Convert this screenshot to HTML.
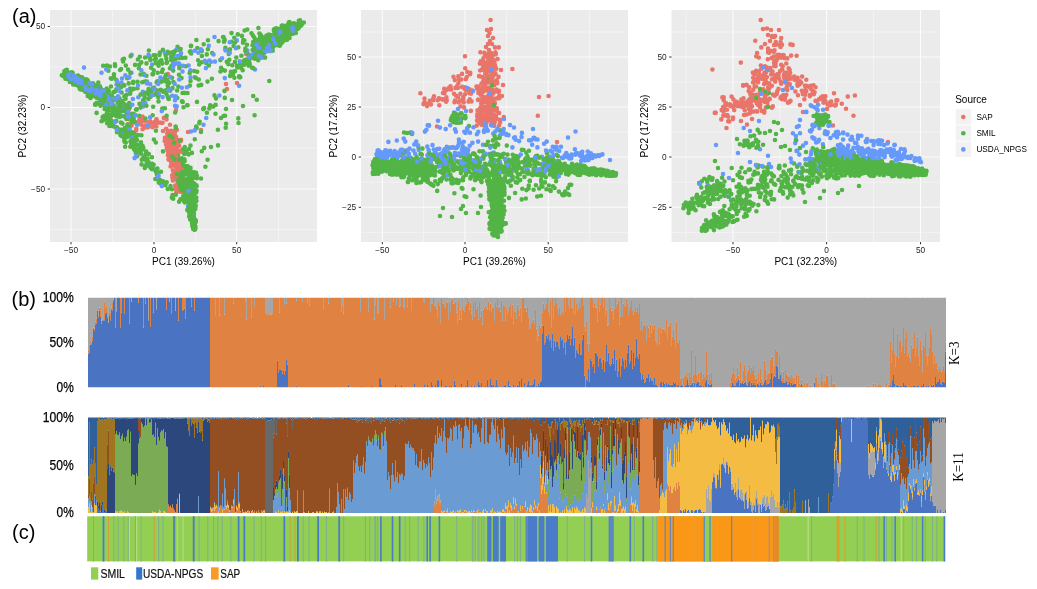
<!DOCTYPE html>
<html lang="en"><head><meta charset="utf-8"><title>Figure</title>
<style>
html,body{margin:0;padding:0;background:#fff}
svg{display:block}
text{font-family:"Liberation Sans",sans-serif;fill:#000}
.tk{font-size:8.3px;fill:#1f1f1f}
.at{font-size:10px}
.pl{font-size:20px}
.pc{font-size:14.5px;fill:#000;stroke:#000;stroke-width:.25px}
.kk{font-family:"Liberation Serif",serif;font-size:15px}
.lg{font-size:12.6px;fill:#111;stroke:#111;stroke-width:.2px}
.lt{font-size:10px}
.ll{font-size:8.2px}
path.r,path.g,path.b{fill:none;stroke-width:4.6;stroke-linecap:round}
path.r{stroke:#e9756a}path.g{stroke:#53b446}path.b{stroke:#6599fb}
</style></head>
<body>
<svg width="1037" height="589" viewBox="0 0 1037 589">
<rect width="1037" height="589" fill="#fff"/>
<rect x="50" y="10" width="267" height="232" fill="#ebebeb"/>
<path d="M112.5 10V242M195.4 10V242M278.5 10V242M50 67H317M50 148.2H317M50 229.5H317" stroke="#f5f5f5" stroke-width="0.8" fill="none"/>
<path d="M71 10V242M154 10V242M236.7 10V242M50 26.5H317M50 107.5H317M50 189H317" stroke="#fcfcfc" stroke-width="1.05" fill="none"/>
<path d="M71 242v2.3M154 242v2.3M236.7 242v2.3M50 26.5h-2.3M50 107.5h-2.3M50 189h-2.3" stroke="#333" stroke-width="1" fill="none"/>
<text class="tk" x="71" y="253.3" text-anchor="middle">−50</text>
<text class="tk" x="154" y="253.3" text-anchor="middle">0</text>
<text class="tk" x="236.7" y="253.3" text-anchor="middle">50</text>
<text class="tk" x="45.2" y="29.4" text-anchor="end">50</text>
<text class="tk" x="45.2" y="110.4" text-anchor="end">0</text>
<text class="tk" x="45.2" y="191.9" text-anchor="end">−50</text>
<text class="at" x="183.5" y="264.9" text-anchor="middle">PC1 (39.26%)</text>
<text class="at" transform="translate(26.3 126) rotate(-90)" text-anchor="middle">PC2 (32.23%)</text>
<rect x="361" y="10" width="267" height="232" fill="#ebebeb"/>
<path d="M423.6 10V242M506.6 10V242M589.6 10V242M361 32H628M361 82H628M361 132H628M361 182.2H628M361 232.4H628" stroke="#f5f5f5" stroke-width="0.8" fill="none"/>
<path d="M382.3 10V242M465 10V242M548.2 10V242M361 57H628M361 107H628M361 157H628M361 207.3H628" stroke="#fcfcfc" stroke-width="1.05" fill="none"/>
<path d="M382.3 242v2.3M465 242v2.3M548.2 242v2.3M361 57h-2.3M361 107h-2.3M361 157h-2.3M361 207.3h-2.3" stroke="#333" stroke-width="1" fill="none"/>
<text class="tk" x="382.3" y="253.3" text-anchor="middle">−50</text>
<text class="tk" x="465" y="253.3" text-anchor="middle">0</text>
<text class="tk" x="548.2" y="253.3" text-anchor="middle">50</text>
<text class="tk" x="356.2" y="59.9" text-anchor="end">50</text>
<text class="tk" x="356.2" y="109.9" text-anchor="end">25</text>
<text class="tk" x="356.2" y="159.9" text-anchor="end">0</text>
<text class="tk" x="356.2" y="210.2" text-anchor="end">−25</text>
<text class="at" x="494.5" y="264.9" text-anchor="middle">PC1 (39.26%)</text>
<text class="at" transform="translate(337.3 126) rotate(-90)" text-anchor="middle">PC2 (17.22%)</text>
<rect x="671.5" y="10" width="268.5" height="232" fill="#ebebeb"/>
<path d="M686.2 10V242M779.8 10V242M873.5 10V242M671.5 32H940M671.5 82H940M671.5 132H940M671.5 182.2H940M671.5 232.4H940" stroke="#f5f5f5" stroke-width="0.8" fill="none"/>
<path d="M733 10V242M826.6 10V242M920.5 10V242M671.5 57H940M671.5 107H940M671.5 157H940M671.5 207.3H940" stroke="#fcfcfc" stroke-width="1.05" fill="none"/>
<path d="M733 242v2.3M826.6 242v2.3M920.5 242v2.3M671.5 57h-2.3M671.5 107h-2.3M671.5 157h-2.3M671.5 207.3h-2.3" stroke="#333" stroke-width="1" fill="none"/>
<text class="tk" x="733" y="253.3" text-anchor="middle">−50</text>
<text class="tk" x="826.6" y="253.3" text-anchor="middle">0</text>
<text class="tk" x="920.5" y="253.3" text-anchor="middle">50</text>
<text class="tk" x="666.7" y="59.9" text-anchor="end">50</text>
<text class="tk" x="666.7" y="109.9" text-anchor="end">25</text>
<text class="tk" x="666.7" y="159.9" text-anchor="end">0</text>
<text class="tk" x="666.7" y="210.2" text-anchor="end">−25</text>
<text class="at" x="805.8" y="264.9" text-anchor="middle">PC1 (32.23%)</text>
<text class="at" transform="translate(647.8 126) rotate(-90)" text-anchor="middle">PC2 (17.22%)</text>
<path class="r" d="M173.9 147.7h0M174.0 161.7h0M149.1 124.7h0M181.4 168.3h0M180.5 191.7h0M174.3 145.3h0M183.8 188.1h0M168.9 159.5h0M178.8 178.0h0M176.6 130.1h0M175.3 173.4h0M182.0 176.0h0M183.9 152.0h0M178.6 177.5h0M168.9 131.0h0M172.9 180.4h0M172.2 175.3h0M179.5 169.0h0M168.3 153.0h0M173.6 161.8h0M237.0 83.0h0M226.0 84.0h0M173.6 144.7h0M178.6 169.3h0M173.0 146.2h0M173.2 157.2h0M178.4 180.6h0M176.5 167.2h0M162.6 122.8h0M167.5 150.6h0M127.9 124.3h0M135.2 122.3h0M129.0 109.0h0M183.4 159.9h0M140.0 118.0h0M159.5 122.5h0M178.3 184.9h0M174.7 152.2h0M146.6 125.9h0M172.2 156.8h0M168.8 131.8h0M172.4 177.8h0M154.5 125.4h0M176.6 142.8h0M181.4 183.0h0M173.2 143.0h0M178.0 153.3h0M145.9 127.5h0M156.4 119.5h0M166.2 128.7h0M172.8 165.4h0M175.1 185.5h0M178.0 163.3h0M172.8 170.2h0M171.4 137.5h0M173.7 178.7h0M174.7 158.1h0M175.7 174.0h0M176.1 177.1h0M175.9 174.3h0M172.8 141.2h0M177.3 152.3h0M169.2 153.1h0M176.0 160.7h0M171.3 148.5h0M149.6 122.1h0M178.4 153.2h0M145.5 121.1h0M145.5 127.2h0M181.8 191.4h0M163.8 117.9h0M146.7 126.9h0M177.2 171.2h0M178.1 188.7h0M173.8 159.9h0M166.5 119.4h0M150.1 122.5h0M177.3 190.4h0M144.3 121.1h0M177.4 151.9h0M173.3 131.0h0M163.0 131.0h0M175.1 142.8h0M171.2 130.7h0M183.7 191.5h0M171.0 138.8h0M178.4 181.8h0M177.8 179.5h0M172.8 160.1h0M172.9 156.9h0M182.2 149.7h0M177.0 151.9h0M173.3 151.4h0M172.9 157.3h0M178.1 165.0h0M174.0 145.5h0M169.8 140.6h0M181.1 180.3h0M169.2 141.9h0M160.9 122.8h0M173.6 135.1h0M144.2 126.1h0M175.1 141.9h0M177.0 185.4h0M149.0 124.9h0M175.2 150.8h0M167.0 145.4h0M172.3 158.0h0M148.0 127.2h0M174.4 161.7h0M173.2 144.9h0M174.5 151.2h0M175.6 139.7h0M174.2 150.6h0M181.7 183.4h0M142.5 116.5h0M168.6 143.0h0M188.0 132.0h0M169.4 131.6h0M169.4 138.2h0M166.7 143.9h0M171.0 155.9h0M176.7 156.8h0M173.4 152.9h0M179.5 191.0h0M175.9 173.9h0M167.6 143.7h0M152.5 127.2h0M183.7 174.1h0M156.5 121.8h0M143.4 118.6h0M168.0 132.3h0M184.2 191.5h0M176.8 167.2h0M178.9 164.7h0M177.8 166.4h0M182.8 192.0h0M131.8 122.4h0M175.7 152.5h0M156.1 121.3h0M156.0 94.0h0M179.6 183.9h0M176.2 149.6h0M131.6 125.5h0M173.1 136.7h0M178.6 187.6h0M172.1 155.4h0"/>
<path class="r" d="M180.4 182.5h0M176.4 153.5h0M150.2 121.3h0M175.2 161.3h0M176.8 165.1h0M185.4 190.2h0M182.8 168.6h0M175.5 164.5h0M175.8 153.9h0M182.5 180.1h0M174.0 144.2h0M164.7 140.9h0M171.5 131.4h0M171.4 134.1h0M172.1 145.6h0M150.3 122.6h0M172.4 148.7h0M246.0 54.0h0M176.2 192.4h0M142.4 121.0h0M144.9 126.9h0M177.9 158.2h0M154.9 121.9h0M154.5 124.1h0M167.9 146.3h0M175.7 160.8h0M170.4 150.0h0M176.6 159.4h0M170.9 139.8h0M171.4 158.8h0M179.1 191.2h0M142.6 129.2h0M126.0 129.2h0M170.4 146.0h0M177.9 190.0h0M139.1 123.2h0M180.2 179.7h0M171.1 148.0h0M182.8 188.9h0M156.5 119.4h0M167.8 136.4h0M175.7 145.4h0M170.2 137.0h0M175.7 188.6h0"/>
<path class="g" d="M183.5 192.8h0M129.1 77.5h0M123.8 136.9h0M193.0 206.5h0M137.3 156.1h0M172.5 88.1h0M241.2 68.1h0M253.2 42.1h0M191.7 214.9h0M192.1 217.1h0M188.9 191.9h0M110.9 105.6h0M145.4 118.5h0M222.4 69.9h0M120.8 103.6h0M188.2 180.8h0M293.4 27.7h0M128.8 130.9h0M287.0 27.4h0M212.2 53.1h0M180.6 49.0h0M194.0 222.0h0M109.6 100.8h0M84.5 83.7h0M190.9 212.0h0M248.6 54.3h0M273.5 42.0h0M186.0 201.0h0M148.6 89.1h0M126.3 95.0h0M194.8 226.1h0M295.8 32.9h0M94.5 91.5h0M173.2 198.8h0M126.4 118.9h0M193.4 220.5h0M129.3 136.1h0M85.4 88.3h0M104.7 99.0h0M260.9 57.4h0M295.9 26.0h0M193.9 196.2h0M294.4 27.4h0M193.3 229.1h0M279.6 41.1h0M292.9 33.8h0M184.8 147.1h0M120.6 135.1h0M76.9 76.0h0M126.5 137.2h0M284.1 32.1h0M289.4 25.8h0M291.3 29.1h0M195.2 191.2h0M287.9 31.3h0M123.7 134.6h0M108.4 70.8h0M112.3 101.1h0M63.1 75.4h0M136.8 150.0h0M130.1 88.5h0M196.9 175.8h0M282.8 41.7h0M191.5 183.0h0M288.4 29.1h0M136.8 109.4h0M193.7 192.6h0M96.6 112.9h0M284.7 29.2h0M130.1 93.8h0M288.7 31.2h0M185.6 188.4h0M277.3 37.9h0M162.3 108.5h0M140.8 149.4h0M144.8 167.9h0M174.2 160.9h0M106.9 92.9h0M101.9 98.9h0M192.3 219.9h0M183.3 171.5h0M210.2 105.3h0M78.5 81.4h0M135.2 144.1h0M118.1 129.8h0M124.6 104.3h0M155.3 179.0h0M142.5 145.7h0M243.0 106.0h0M173.2 62.8h0M157.3 172.5h0M65.6 73.5h0M279.5 36.7h0M122.6 101.1h0M99.7 98.6h0M130.3 115.7h0M251.3 56.4h0M183.4 177.6h0M127.7 113.6h0M276.4 28.3h0M238.5 123.0h0M107.3 95.8h0M189.3 173.5h0"/>
<path class="r" d="M167.5 133.4h0M169.6 159.9h0M177.5 170.1h0M110.6 106.0h0M180.2 190.8h0M178.2 140.0h0M178.3 145.2h0M177.7 189.6h0M173.8 147.3h0M151.5 122.8h0M182.6 190.7h0M201.0 130.0h0M183.7 189.5h0M156.7 123.2h0M156.4 126.5h0M174.8 163.3h0M181.7 161.1h0M182.6 192.1h0M170.4 138.3h0M178.9 186.1h0M176.9 154.1h0M144.0 126.8h0"/>
<path class="g" d="M184.6 161.3h0M149.1 164.1h0M289.4 22.1h0M224.7 39.9h0M231.5 33.1h0M65.1 71.2h0M196.3 185.3h0M115.3 110.9h0M176.9 176.6h0M249.5 63.0h0M88.1 96.1h0M284.4 26.2h0M263.8 53.5h0M161.0 171.8h0M229.3 59.7h0M192.3 192.5h0M140.6 107.6h0M142.3 82.2h0M293.1 26.0h0M142.8 149.5h0M268.8 34.6h0M193.4 214.2h0M224.8 97.9h0M239.3 77.2h0M73.5 77.5h0M81.6 89.5h0M275.4 36.6h0M256.7 43.0h0M272.6 35.8h0M204.2 147.9h0M124.3 130.0h0M99.9 86.3h0M254.3 37.6h0M225.7 127.7h0M140.4 145.4h0M275.5 36.5h0M118.8 129.4h0M228.3 64.1h0M192.5 200.5h0M271.2 40.6h0M292.9 28.3h0M278.2 33.9h0M73.8 79.6h0M239.9 64.4h0M92.9 83.4h0M237.4 67.4h0M135.8 153.0h0M125.8 142.5h0M277.2 41.2h0M85.0 83.7h0M180.6 188.3h0M173.3 162.5h0M268.8 45.4h0M157.4 168.5h0M273.3 46.6h0M127.2 78.2h0M192.6 193.6h0M184.0 183.4h0M294.2 28.3h0M281.2 43.6h0M131.5 144.1h0M109.7 98.9h0M124.3 134.2h0M190.3 218.4h0M233.6 46.0h0M107.8 109.6h0M102.7 96.1h0M87.7 95.9h0M193.7 216.4h0M194.4 193.2h0M255.0 53.7h0M209.3 108.5h0M280.5 34.8h0M155.8 171.5h0M67.6 72.8h0M197.3 48.0h0M195.5 186.4h0M228.8 54.0h0M131.4 144.6h0M249.0 60.1h0M181.3 182.9h0M156.8 90.2h0M289.7 32.2h0M286.0 29.5h0M76.4 84.8h0M139.2 64.8h0M132.7 132.3h0M186.2 151.8h0M192.4 216.8h0M188.6 188.5h0M85.8 90.2h0M266.6 35.6h0M299.0 23.6h0M82.3 77.6h0M122.4 123.6h0M191.8 199.6h0M103.3 99.5h0M189.3 204.4h0M291.7 33.2h0M193.5 223.3h0M158.8 180.5h0M93.0 84.1h0M183.0 179.1h0M289.1 30.3h0M195.1 229.0h0M192.2 194.3h0M184.0 182.1h0M258.9 51.8h0M270.8 41.8h0M287.2 26.6h0M242.7 70.2h0M258.2 60.2h0M102.4 96.8h0M148.6 162.2h0M82.5 81.8h0M276.3 35.8h0M164.9 108.3h0M143.7 73.8h0M143.1 158.1h0M288.3 30.7h0M194.9 223.6h0M110.2 106.2h0M207.6 159.7h0M127.0 132.3h0M125.6 98.7h0"/>
<path class="r" d="M170.6 166.5h0M179.1 182.7h0M173.8 172.5h0M175.6 172.2h0M176.5 155.6h0M179.2 145.8h0M156.7 123.1h0M183.2 171.1h0M227.0 89.0h0M141.0 120.5h0M171.2 134.7h0M178.5 159.6h0M175.9 160.0h0M180.5 141.2h0M176.8 179.6h0M178.4 141.3h0M173.8 165.2h0M175.1 144.9h0M176.0 166.0h0M175.6 153.2h0M176.7 147.5h0M175.3 140.8h0M178.3 150.5h0M174.6 160.3h0M179.1 163.6h0M128.0 116.0h0M175.0 165.6h0M167.7 140.0h0"/>
<path class="g" d="M195.5 220.1h0M285.6 33.5h0M107.1 123.2h0M193.5 190.0h0M126.3 105.5h0M116.3 89.2h0M161.6 184.5h0M286.6 30.6h0M152.5 90.3h0M78.0 75.5h0M178.4 160.1h0M106.4 97.6h0M96.7 102.8h0M96.5 91.8h0M124.5 134.2h0M104.8 99.1h0M281.5 38.6h0M178.2 174.3h0M189.6 213.5h0M160.9 61.0h0M194.2 201.7h0M289.5 35.1h0M278.7 32.1h0M203.2 109.1h0M114.5 98.1h0M191.8 192.1h0M175.1 155.0h0M104.6 101.5h0M83.7 88.3h0M285.7 30.1h0M194.7 225.3h0M207.5 81.6h0M100.8 88.5h0M282.8 30.9h0M268.6 38.9h0M271.7 44.8h0M110.6 119.8h0M192.6 222.6h0M288.5 23.7h0M192.1 214.7h0M243.0 42.7h0M299.8 22.9h0M167.0 62.0h0M148.3 94.2h0M111.9 103.2h0M83.7 89.4h0M278.5 39.4h0M74.6 80.6h0M268.1 49.3h0M133.6 119.0h0M230.1 75.9h0M300.0 25.9h0M186.8 166.2h0M205.4 166.8h0M193.8 191.5h0M83.7 90.1h0M130.8 113.7h0M178.3 86.6h0M186.6 187.5h0M70.2 75.2h0M112.5 114.0h0M158.5 101.4h0M275.6 38.2h0M241.9 35.9h0M252.9 35.6h0M193.5 213.7h0M141.8 159.8h0M295.1 23.7h0M122.8 85.2h0M141.6 164.4h0M288.5 36.0h0M191.2 53.5h0M153.6 55.2h0M110.0 66.5h0M175.1 156.8h0M146.3 165.6h0M189.1 205.4h0M184.7 185.2h0M185.5 192.7h0M289.4 23.0h0M187.4 210.3h0M121.6 92.5h0M172.0 77.8h0M99.7 96.7h0M192.0 207.8h0M109.4 95.3h0M103.2 65.7h0M192.7 226.2h0M74.0 78.8h0M193.8 202.1h0M104.2 90.4h0M258.4 28.0h0M220.4 71.5h0M87.9 91.4h0M182.1 177.6h0M107.1 112.2h0M182.5 160.8h0M118.5 110.6h0M167.8 189.0h0M194.2 172.3h0M237.8 34.4h0M152.7 88.3h0M63.4 74.8h0M191.9 206.1h0M130.0 134.1h0M79.7 88.4h0M94.4 91.4h0M194.3 177.3h0M107.0 65.6h0M191.3 204.5h0M101.5 121.2h0"/>
<path class="b" d="M67.4 76.7h0M186.7 191.4h0M247.3 50.5h0M138.3 97.3h0M201.7 50.6h0M154.2 87.5h0M89.2 88.6h0M122.1 116.0h0"/>
<path class="r" d="M176.9 146.1h0M168.8 154.9h0M167.9 155.2h0M182.5 178.9h0M180.3 190.4h0M184.7 180.0h0M172.5 159.7h0M177.6 182.2h0M172.7 141.1h0M141.3 124.7h0M170.0 124.7h0M173.6 156.1h0M176.1 140.2h0M176.0 136.8h0M136.1 130.5h0"/>
<path class="g" d="M277.9 35.2h0M192.5 218.6h0M168.6 82.4h0M111.0 86.5h0M282.5 38.4h0M194.1 207.2h0M271.1 35.4h0M288.7 32.3h0M191.5 208.4h0M157.3 178.5h0M141.0 142.4h0M220.3 60.1h0M109.8 117.7h0M247.0 44.8h0M292.2 24.4h0M232.3 65.3h0M103.1 96.5h0M267.9 46.5h0M245.8 59.9h0M277.6 30.6h0M194.8 77.2h0M182.0 101.3h0M128.4 118.9h0M192.6 187.4h0M280.7 41.6h0M186.7 190.9h0M114.9 91.6h0M85.0 88.9h0M266.4 36.3h0M186.4 199.2h0M187.8 209.1h0M168.1 88.3h0M263.8 38.8h0M65.8 70.4h0M124.1 108.5h0M65.1 73.9h0M166.3 93.8h0M225.0 115.7h0M124.1 110.6h0M117.0 132.3h0M111.8 78.8h0M191.4 218.8h0M286.0 26.7h0M282.3 33.4h0M179.3 65.9h0M262.6 37.3h0M127.2 134.8h0M189.5 203.6h0M293.9 26.5h0M194.4 224.4h0M214.5 95.4h0M261.8 49.7h0M279.5 32.0h0M236.3 57.6h0M101.4 94.7h0M94.8 88.1h0M264.8 40.0h0M194.8 199.9h0M223.6 116.0h0M303.8 22.5h0M167.7 51.8h0M193.8 208.8h0M287.7 25.7h0M105.0 106.3h0M80.3 77.1h0M192.9 190.8h0M104.7 98.3h0M153.4 88.3h0M179.0 49.4h0M186.5 200.3h0M85.8 91.9h0M74.3 80.9h0M187.5 93.0h0M108.5 92.1h0M122.0 134.5h0M138.9 68.2h0M286.6 40.0h0M190.0 190.4h0M268.3 45.0h0M109.6 99.9h0M103.0 95.5h0M140.1 149.4h0M192.5 214.0h0M188.5 198.3h0M194.4 183.7h0M152.5 74.2h0M294.7 31.5h0M124.0 131.6h0M276.7 30.1h0M164.8 78.1h0M97.0 88.8h0M106.9 117.8h0M286.5 34.8h0M196.5 190.6h0M160.6 89.9h0M232.2 73.0h0M162.9 49.9h0M70.4 74.2h0M78.5 81.9h0M153.2 95.0h0M193.3 184.3h0M193.7 223.1h0M223.6 37.2h0M69.2 74.8h0M83.1 85.0h0M193.7 207.5h0M191.6 174.7h0M282.7 25.6h0M150.3 96.4h0M165.4 90.5h0M193.9 183.4h0M139.1 115.7h0"/>
<path class="b" d="M99.9 90.4h0M158.9 94.9h0M101.2 95.4h0M190.8 51.4h0M93.8 91.3h0M121.5 82.8h0M73.4 78.6h0M150.2 84.3h0M89.0 88.5h0M106.7 92.5h0M170.9 68.4h0M122.5 134.3h0M129.9 117.1h0M131.4 72.7h0M224.8 78.1h0M253.0 54.9h0M263.8 39.4h0M90.6 88.6h0M162.0 79.4h0M142.8 91.9h0"/>
<path class="r" d="M167.1 145.3h0M170.9 145.0h0M181.7 151.8h0M180.2 183.2h0M145.9 126.6h0M172.8 154.9h0M153.1 123.1h0M182.3 170.0h0M174.8 133.3h0M181.1 139.9h0M181.7 190.9h0M168.6 136.1h0M170.3 135.3h0M177.8 159.8h0M171.6 147.3h0M166.0 144.5h0M178.6 175.2h0M178.4 161.9h0M176.5 129.8h0M168.5 159.2h0M173.9 147.3h0"/>
<path class="g" d="M101.5 94.1h0M79.9 81.6h0M107.1 115.0h0M114.1 114.6h0M146.2 151.5h0M225.4 47.7h0M190.2 219.5h0M137.5 88.2h0M190.2 187.8h0M147.2 92.4h0M187.3 184.1h0M120.9 122.5h0M155.8 142.5h0M182.5 93.0h0M196.0 172.8h0M287.8 34.1h0M179.7 173.4h0M191.7 206.0h0M193.0 186.1h0M282.8 27.1h0M255.8 42.3h0M144.7 81.5h0M192.7 172.8h0M263.1 52.8h0M124.9 129.0h0M102.7 103.1h0M72.8 80.4h0M282.5 31.8h0M119.2 103.1h0M167.8 82.9h0M124.6 128.9h0M188.5 193.6h0M71.2 77.6h0M72.7 72.9h0M83.9 83.3h0M95.5 95.4h0M191.7 205.9h0M185.9 199.0h0M111.8 95.5h0M73.1 77.1h0M193.2 213.0h0M231.1 74.5h0M171.9 189.3h0M195.9 78.1h0M84.7 86.1h0M180.0 186.5h0M253.2 96.0h0M133.2 81.7h0M193.0 208.8h0M279.1 38.0h0M221.1 67.8h0M265.4 50.9h0M125.8 65.6h0M158.2 96.9h0M165.5 76.3h0M193.3 206.0h0M241.4 55.8h0M139.8 56.8h0M191.5 210.5h0M249.4 59.2h0M80.6 81.4h0M234.3 37.8h0M84.9 88.1h0M192.1 219.5h0M185.1 189.1h0M196.6 186.2h0M195.5 222.2h0M191.7 209.2h0M79.5 86.0h0M75.7 82.9h0M181.6 187.9h0M277.8 38.7h0M100.0 92.4h0M112.2 105.4h0M188.5 190.1h0M199.2 64.4h0M283.6 30.7h0M288.6 32.2h0M189.9 173.9h0M150.3 96.8h0M175.8 194.7h0M181.0 176.2h0M283.6 39.0h0M169.0 83.0h0M283.7 30.6h0M193.5 183.5h0M190.8 204.2h0M190.5 145.5h0M121.1 87.3h0M120.8 135.2h0M177.9 156.0h0M185.5 172.9h0M133.7 141.6h0M193.2 195.3h0M95.5 104.7h0M275.5 38.6h0M188.4 191.4h0M194.1 222.6h0M197.0 101.9h0"/>
<path class="b" d="M81.5 80.8h0M279.8 35.4h0M91.8 88.1h0M170.2 77.1h0M131.6 54.7h0M79.0 83.2h0M152.8 94.8h0M84.0 67.6h0M136.4 144.6h0M170.4 90.0h0M73.5 77.0h0M100.5 91.8h0M185.3 199.5h0M72.4 78.1h0M136.3 155.0h0M147.5 165.8h0M135.2 135.4h0M91.4 85.7h0M285.8 35.5h0M80.6 84.8h0M239.7 61.2h0M152.2 64.5h0M190.0 207.2h0M71.9 76.1h0M292.1 29.9h0M173.1 56.6h0M80.5 82.4h0"/>
<path class="r" d="M164.9 137.8h0M174.6 144.6h0M139.2 120.2h0M174.0 164.0h0M176.1 156.8h0M174.8 163.6h0M172.2 153.5h0M167.3 133.7h0M171.1 149.7h0M177.2 176.1h0M177.8 161.0h0M169.5 137.7h0M179.0 176.5h0M176.0 110.0h0M132.1 123.0h0M130.1 126.6h0M154.8 125.0h0"/>
<path class="g" d="M213.2 106.6h0M195.3 228.6h0M266.9 41.4h0M86.1 84.9h0M95.1 104.4h0M198.6 85.5h0M201.8 151.2h0M129.2 126.2h0M191.3 200.6h0M129.2 103.1h0M114.0 114.8h0M130.4 72.9h0M103.1 120.3h0M251.5 33.3h0M116.9 110.6h0M122.8 59.6h0M265.2 46.4h0M100.5 105.5h0M201.0 131.9h0M183.3 190.4h0M285.6 36.1h0M137.5 81.8h0M280.2 33.6h0M167.7 85.6h0M162.7 69.5h0M151.4 91.0h0M171.6 65.8h0M120.2 108.0h0M172.6 195.1h0M279.6 35.9h0M190.4 176.8h0M183.8 187.8h0M254.7 46.5h0M133.1 83.0h0M182.2 58.0h0M133.8 88.9h0M191.8 206.2h0M97.3 97.2h0M224.0 41.8h0M190.5 215.4h0M187.3 200.5h0M71.8 80.1h0M83.7 83.0h0M277.9 35.6h0M105.1 119.2h0M168.6 98.9h0M126.9 129.8h0M116.2 79.7h0M83.8 87.1h0M267.9 41.2h0M184.9 191.3h0M187.6 189.5h0M121.8 109.8h0M165.4 80.9h0M194.3 229.0h0M190.5 167.9h0M249.6 64.8h0M166.6 115.9h0M67.0 78.9h0M124.3 140.2h0M73.0 81.4h0M189.6 192.5h0M188.6 193.3h0M175.9 128.2h0M188.5 198.3h0M270.8 38.7h0M196.8 178.3h0M256.6 53.2h0M276.3 41.1h0M134.9 150.1h0M177.5 46.7h0M196.3 197.5h0M285.2 33.2h0M81.4 78.4h0M153.2 106.8h0M189.8 176.6h0M66.7 74.0h0M187.3 184.8h0M293.4 31.5h0M263.8 47.5h0M122.0 136.1h0M194.1 223.4h0M266.3 41.1h0M285.7 36.2h0M135.3 147.7h0M108.7 91.0h0M190.9 46.1h0M192.6 176.2h0M293.2 25.5h0M289.5 37.9h0M73.9 80.2h0M193.9 213.4h0M193.0 206.6h0M194.2 71.0h0M150.4 167.6h0M194.0 225.2h0M238.3 47.3h0M101.8 94.6h0M126.7 110.7h0M86.0 79.4h0M87.2 84.3h0M161.4 60.2h0M253.1 57.5h0M292.3 25.4h0M90.4 96.2h0M180.7 54.5h0M245.4 48.5h0M275.9 41.2h0M189.8 180.2h0M208.9 65.5h0M190.2 205.6h0M183.6 200.8h0M201.0 178.5h0"/>
<path class="b" d="M72.9 79.7h0M122.0 78.6h0M91.6 88.2h0M271.1 40.0h0M121.4 110.3h0M116.5 84.5h0M264.7 47.5h0M255.0 69.5h0M253.8 51.5h0M209.3 60.6h0M145.3 102.9h0M252.2 54.7h0M215.0 61.6h0M262.6 44.9h0M111.6 101.4h0M144.3 102.4h0M228.6 50.3h0"/>
<path class="r" d="M174.2 140.7h0M168.0 74.0h0M173.0 144.1h0M174.4 139.3h0M174.0 159.1h0M166.8 148.0h0M171.2 163.4h0M175.5 150.4h0M171.9 145.9h0M136.3 128.7h0M176.5 167.5h0M177.6 171.3h0M175.6 152.4h0M172.0 134.2h0M172.9 131.4h0"/>
<path class="g" d="M147.6 158.5h0M90.3 89.3h0M118.6 97.2h0M130.9 141.1h0M189.2 211.9h0M288.4 34.2h0M123.2 108.5h0M180.3 178.0h0M293.7 23.2h0M275.7 39.1h0M146.5 63.4h0M180.5 175.1h0M196.2 200.7h0M118.0 102.0h0M226.8 61.7h0M193.0 189.8h0M104.7 108.9h0M187.4 185.7h0M260.4 42.9h0M128.0 136.5h0M206.9 112.8h0M144.2 158.0h0M86.2 86.7h0M82.1 81.9h0M109.8 115.0h0M191.9 209.9h0M216.0 98.4h0M70.4 78.1h0M284.9 36.6h0M196.2 192.5h0M121.3 135.4h0M137.6 150.6h0M195.6 221.0h0M190.3 177.1h0M174.4 159.4h0M76.0 80.2h0M281.0 35.3h0M259.3 40.9h0M282.3 30.3h0M99.6 95.9h0M267.2 41.6h0M231.5 41.7h0M256.8 99.7h0M85.2 91.5h0M127.0 112.7h0M146.8 81.6h0M195.7 205.4h0M163.0 151.4h0M76.8 77.2h0M191.8 218.9h0M232.8 74.4h0M188.7 154.5h0M119.4 113.5h0M129.8 107.2h0M184.1 165.7h0M288.9 22.6h0M76.4 81.1h0M191.7 216.3h0M194.0 189.1h0M208.0 40.2h0M292.7 29.2h0M102.9 98.6h0M192.9 194.7h0M191.9 201.1h0M161.9 72.0h0M186.4 174.1h0M287.1 25.5h0M289.8 27.4h0M153.6 164.7h0M283.2 29.8h0M126.5 113.9h0M190.3 180.1h0M63.7 74.3h0M263.7 39.9h0M201.8 51.1h0M130.4 141.5h0M155.9 130.8h0M132.2 116.7h0M293.8 29.0h0M188.8 202.7h0M187.5 195.2h0M278.2 45.3h0M121.2 108.3h0M188.8 198.0h0M183.8 183.1h0M74.2 77.8h0M295.0 27.4h0M291.3 28.7h0M114.2 110.5h0M261.9 49.7h0M125.6 133.9h0M76.2 81.1h0M65.4 76.0h0M150.0 58.4h0M194.1 227.8h0M151.6 167.7h0M123.1 61.5h0M113.8 105.4h0M193.4 223.9h0M239.2 76.3h0M193.3 220.5h0M109.0 122.6h0M116.4 112.8h0M206.1 62.9h0M172.3 156.5h0M92.4 83.9h0M188.7 180.1h0M201.8 62.2h0"/>
<path class="b" d="M173.3 61.3h0M181.8 87.8h0M107.9 96.9h0M260.4 43.7h0M164.9 52.7h0M157.7 81.0h0M208.8 45.8h0M263.2 49.1h0M88.4 86.8h0M132.9 99.0h0M210.9 61.9h0M130.8 118.1h0M138.0 85.3h0M172.2 95.8h0M118.3 88.1h0M190.2 189.4h0M274.5 41.8h0M82.6 82.7h0M188.6 65.5h0M121.3 107.5h0M154.1 89.2h0M144.3 95.3h0M141.3 70.3h0M86.9 89.8h0"/>
<path class="g" d="M155.9 58.5h0M187.4 195.0h0M143.4 148.1h0M165.7 55.3h0M226.1 123.7h0M243.9 64.4h0M193.8 227.9h0M189.8 185.0h0M262.3 42.4h0M103.1 92.6h0M135.0 114.9h0M277.1 32.3h0M169.9 68.2h0M183.1 184.3h0M298.8 20.8h0M88.0 86.3h0M255.1 39.9h0M193.8 227.2h0M237.0 65.9h0M187.3 182.0h0M192.0 179.3h0M263.8 57.5h0M189.2 181.7h0M192.7 212.4h0M287.0 39.4h0M284.9 26.0h0M97.7 93.8h0M192.9 174.3h0M94.9 94.6h0M144.9 93.0h0M276.8 41.0h0M119.6 98.7h0M234.9 62.0h0M98.3 82.6h0M186.8 186.7h0M159.5 54.9h0M83.0 82.2h0M194.0 224.4h0M110.2 119.7h0M274.0 40.1h0M187.1 185.9h0M256.5 57.3h0M193.6 225.1h0M114.4 100.0h0M87.5 80.1h0M193.9 195.6h0M124.7 141.8h0M191.0 218.0h0M226.0 109.0h0M192.0 212.7h0M181.5 78.1h0M300.0 20.4h0M189.0 206.7h0M184.6 197.7h0M85.6 88.2h0M162.2 63.6h0M120.7 107.6h0M191.4 219.9h0M196.6 128.1h0M284.8 37.2h0M105.0 97.4h0M179.2 159.9h0M190.3 196.5h0M64.4 71.2h0M148.4 98.9h0M182.1 178.4h0M166.0 74.9h0M278.4 29.0h0M161.7 185.0h0M193.8 212.7h0M194.4 222.2h0M169.0 53.3h0M99.8 92.9h0M282.2 30.2h0M95.1 92.2h0M156.8 174.4h0M192.1 204.4h0M265.1 57.6h0M193.5 227.3h0M66.1 74.0h0M100.0 99.7h0M184.4 92.9h0M230.9 74.6h0M269.1 41.1h0M279.7 34.7h0M74.4 79.8h0M193.3 218.4h0M173.4 82.1h0M269.5 41.6h0M286.8 27.4h0M175.6 126.6h0M275.7 31.1h0M186.0 172.1h0M97.3 96.1h0M109.4 126.0h0M114.9 64.3h0M108.8 118.3h0M192.3 211.3h0M183.5 107.2h0M108.6 106.8h0M191.5 190.4h0M124.0 58.8h0M117.2 99.8h0M156.6 82.4h0M132.0 139.8h0M290.0 32.3h0M276.2 44.3h0M186.1 183.9h0M215.6 104.9h0M179.1 49.9h0M255.3 55.1h0M272.7 50.8h0M291.6 32.5h0M80.2 89.3h0M261.0 53.1h0M253.5 57.7h0M108.3 103.7h0M198.1 60.3h0M275.4 35.4h0M117.0 109.3h0M290.9 33.1h0M282.1 29.8h0M117.1 115.0h0M271.8 41.0h0M301.8 24.5h0M293.0 29.0h0M191.2 198.8h0M195.0 220.6h0M275.4 43.3h0M180.4 199.3h0M187.4 195.6h0"/>
<path class="b" d="M96.4 92.0h0M129.6 129.5h0M110.8 104.0h0M85.2 83.1h0M198.4 52.8h0M97.6 88.0h0M96.3 92.9h0M158.4 93.3h0M107.4 90.1h0M192.5 186.5h0M190.4 70.2h0M100.7 102.8h0M268.8 44.7h0M213.5 54.5h0M142.9 106.5h0M229.8 52.7h0"/>
<path class="g" d="M284.0 31.6h0M116.3 120.9h0M155.7 94.4h0M273.9 29.6h0M94.5 87.3h0M254.0 57.9h0M254.4 42.1h0M290.6 31.2h0M166.7 90.6h0M135.1 122.2h0M140.6 94.6h0M287.5 30.1h0M187.1 179.9h0M251.9 67.6h0M146.4 75.7h0M294.5 32.1h0M132.6 136.7h0M128.1 109.3h0M91.3 86.5h0M148.8 154.1h0M127.3 106.2h0M71.2 75.9h0M185.5 66.2h0M243.8 61.0h0M149.2 56.8h0M294.5 28.4h0M276.4 40.5h0M187.4 201.3h0M215.5 113.8h0M141.3 62.4h0M119.4 112.5h0M193.2 216.5h0M153.1 74.1h0M244.5 60.2h0M189.1 173.4h0M275.8 44.2h0M171.2 56.8h0M278.7 41.5h0M145.0 159.6h0M103.1 98.8h0M218.0 145.4h0M105.2 102.4h0M192.1 174.6h0M191.5 179.4h0M68.7 72.7h0M282.0 33.3h0M189.9 85.6h0M292.6 27.2h0M133.6 144.5h0M173.7 53.4h0M106.2 92.2h0M276.5 41.6h0M272.7 37.4h0M95.9 89.4h0M71.6 77.3h0M190.4 196.6h0M113.1 121.7h0M195.6 221.0h0M189.9 51.7h0M297.2 27.3h0M87.9 87.6h0M191.1 183.4h0M252.5 45.3h0M194.7 229.8h0M262.0 54.1h0M84.6 86.0h0M82.7 82.8h0M155.9 63.2h0M172.2 52.2h0M191.4 211.5h0M185.0 198.8h0M181.7 158.2h0M279.9 31.5h0M297.4 29.1h0M131.8 119.1h0M224.5 90.9h0M221.0 118.0h0M298.6 28.2h0M280.5 29.1h0M194.4 228.4h0M185.4 57.8h0M141.3 105.1h0M265.0 47.9h0M179.1 201.8h0M118.2 84.5h0M244.4 40.6h0M91.4 96.3h0M133.4 113.8h0M284.4 33.3h0M104.5 99.2h0M92.6 94.5h0M133.5 117.9h0M102.6 117.3h0M136.9 140.1h0M119.7 131.8h0M131.6 121.6h0M71.6 72.3h0M279.8 45.7h0M169.9 90.7h0M192.8 219.7h0M134.4 142.7h0M183.4 182.6h0M165.5 185.1h0M293.1 24.3h0M279.9 34.4h0M66.8 69.9h0M130.3 146.7h0M199.7 121.8h0M88.8 87.9h0M135.9 145.2h0M65.4 78.7h0M201.9 56.0h0M93.7 89.6h0M112.2 108.0h0M199.3 123.1h0M285.7 33.5h0M132.2 89.1h0M260.7 34.9h0M134.3 139.2h0M206.8 54.4h0M197.2 71.7h0M126.1 110.3h0M99.9 98.7h0M191.5 207.4h0M179.4 68.3h0"/>
<path class="b" d="M186.9 87.3h0M78.4 83.7h0M72.6 79.1h0M188.0 206.2h0M132.3 136.0h0M214.5 37.0h0M75.5 79.0h0M73.9 80.1h0M204.9 60.9h0M144.2 75.0h0M128.2 112.1h0M69.3 76.1h0M229.7 42.2h0M92.3 90.9h0M89.6 87.0h0M236.8 40.4h0M70.9 79.1h0M74.2 80.9h0M114.6 98.7h0M74.0 81.7h0M175.0 100.2h0M157.8 177.1h0"/>
<path class="g" d="M193.0 216.9h0M254.9 58.8h0M275.4 45.2h0M273.2 46.5h0M96.6 90.0h0M135.1 64.9h0M277.1 29.6h0M188.3 188.2h0M178.9 58.1h0M124.3 85.4h0M193.2 228.4h0M191.3 206.0h0M275.0 28.7h0M243.3 40.0h0M79.9 78.5h0M283.8 32.9h0M292.8 26.7h0M192.8 217.2h0M188.9 207.9h0M157.7 72.7h0M198.8 79.5h0M128.5 134.3h0M185.6 150.9h0M187.8 178.5h0M273.3 39.0h0M109.8 99.0h0M96.0 85.6h0M74.8 80.2h0M187.6 166.2h0M180.5 185.2h0M291.4 33.8h0M191.9 152.9h0M158.6 65.7h0M111.8 107.5h0M120.2 110.5h0M268.5 50.7h0M190.5 80.9h0M74.7 76.7h0M192.6 198.2h0M192.0 223.6h0M112.9 113.8h0M190.8 218.1h0M171.2 60.0h0M294.4 27.1h0M195.6 176.1h0M189.7 72.9h0M282.4 38.5h0M187.5 105.3h0M269.3 81.0h0M70.6 77.5h0M275.6 36.6h0M190.6 183.7h0M284.9 28.9h0M96.3 95.1h0M106.2 115.3h0M193.7 223.8h0M122.9 59.9h0M191.3 171.9h0M188.8 183.8h0M80.1 81.8h0M166.3 58.5h0M166.6 62.9h0M272.4 39.9h0M150.4 60.1h0M282.7 31.3h0M113.4 92.2h0M162.2 90.8h0M185.2 174.3h0M118.7 116.6h0M141.4 135.2h0M163.0 181.4h0M194.2 221.1h0M297.4 26.6h0M190.6 215.4h0M140.3 150.4h0M177.1 90.5h0M143.1 100.2h0M298.5 25.5h0M113.3 123.6h0M282.0 35.7h0M189.0 149.0h0M181.1 189.9h0M191.3 182.2h0M130.6 56.2h0M248.7 56.9h0M274.7 34.9h0M190.1 211.0h0M178.8 182.6h0M190.8 203.1h0M95.5 88.6h0M97.8 103.3h0M262.0 51.7h0M294.5 31.2h0M112.9 110.5h0M286.0 32.5h0M97.9 92.1h0M103.6 116.2h0M119.1 107.0h0M300.4 23.2h0M298.9 24.0h0M283.1 39.4h0M169.6 135.6h0M90.5 98.0h0M182.7 179.4h0M77.9 81.2h0M154.8 59.8h0M129.6 132.6h0M192.5 215.2h0M192.5 225.9h0M191.6 214.5h0M190.4 215.0h0M114.0 74.2h0M74.5 83.6h0M108.4 90.6h0M254.3 46.8h0M88.3 94.6h0M145.3 166.0h0M234.4 77.7h0M185.7 199.5h0M180.9 174.6h0M240.3 77.2h0M204.1 108.1h0M163.2 91.7h0M134.3 144.5h0M153.7 70.2h0M280.6 34.2h0M78.1 85.7h0M244.2 64.6h0M102.6 90.8h0"/>
<path class="b" d="M70.4 74.3h0M270.8 47.3h0M85.2 85.1h0M248.9 57.4h0M174.2 64.4h0M181.0 53.1h0M142.1 103.2h0M278.8 34.8h0M175.1 105.9h0M146.8 83.4h0M270.6 51.1h0M76.9 79.2h0M91.1 87.4h0M154.0 169.1h0M147.5 82.9h0M245.8 51.3h0M176.2 50.0h0M92.6 89.4h0"/>
<path class="g" d="M286.4 31.2h0M108.7 122.3h0M263.0 44.4h0M115.1 66.0h0M195.7 176.7h0M78.4 82.9h0M104.2 90.4h0M148.3 162.6h0M232.0 100.0h0M301.0 25.6h0M75.8 84.7h0M259.5 50.1h0M201.2 84.9h0M235.0 42.5h0M273.8 36.2h0M134.1 149.3h0M137.2 152.0h0M125.8 135.0h0M289.1 31.2h0M294.3 28.6h0M177.3 98.0h0M106.7 88.6h0M96.7 97.7h0M71.5 79.6h0M193.8 208.2h0M275.0 33.3h0M259.4 33.5h0M189.8 169.1h0M71.3 78.6h0M116.8 127.4h0M279.3 39.2h0M102.5 94.6h0M98.0 88.8h0M157.6 173.5h0M91.7 92.1h0M175.3 59.3h0M118.5 105.9h0M171.8 197.6h0M113.1 108.7h0M187.7 197.4h0M196.2 201.0h0M138.1 135.1h0M280.5 34.0h0M81.5 88.7h0M257.5 48.2h0M135.7 138.1h0M139.4 148.4h0M125.1 146.8h0M128.7 83.4h0M138.4 145.1h0M192.7 187.7h0M127.6 115.3h0M130.1 134.0h0M299.0 25.8h0M223.1 37.1h0M115.6 99.7h0M261.5 54.5h0M254.9 49.7h0M285.5 31.5h0M193.5 224.5h0M110.8 78.2h0M183.1 196.6h0M192.0 217.6h0M182.7 101.9h0M280.6 28.7h0M183.0 164.7h0M184.9 202.5h0M124.9 127.8h0M133.3 115.8h0M192.4 205.4h0M287.1 31.6h0M160.3 180.2h0M112.4 121.5h0M146.4 105.7h0M274.6 37.5h0M122.8 110.9h0M188.0 171.9h0M108.1 121.5h0M85.7 83.2h0M258.1 53.0h0M175.2 112.5h0M217.9 129.8h0M176.8 174.1h0M99.8 97.7h0M195.4 199.4h0M124.9 136.3h0M192.6 222.8h0M192.3 217.9h0M145.5 154.4h0M174.8 51.2h0M102.3 100.5h0M190.4 207.2h0M124.0 105.5h0M101.8 97.6h0M286.4 31.9h0M272.1 40.5h0M269.1 37.5h0M100.3 94.9h0M234.2 71.3h0M148.9 50.5h0M73.2 84.5h0M188.5 184.6h0M98.1 94.6h0M151.1 67.8h0M193.3 200.1h0M189.6 206.0h0M274.5 35.0h0M108.1 110.7h0M86.2 85.6h0M166.7 182.3h0M100.7 100.0h0M184.4 159.2h0M180.0 140.7h0M272.6 39.6h0M225.5 49.8h0M245.4 50.8h0M140.5 74.5h0M189.3 204.3h0M264.9 44.7h0M127.4 124.7h0M159.9 52.6h0M128.1 69.6h0M261.0 49.5h0"/>
<path class="b" d="M272.5 37.4h0M105.9 104.5h0M116.8 130.0h0M265.0 50.6h0M203.5 124.8h0M190.9 131.5h0M225.7 50.4h0M68.8 74.9h0M92.6 90.3h0M158.6 175.9h0M89.5 86.9h0M122.0 106.5h0M290.9 27.1h0M74.0 81.0h0M100.6 92.4h0M293.2 30.8h0M192.0 214.6h0M112.0 104.3h0M118.0 96.4h0M115.6 98.8h0M118.3 97.5h0M190.5 77.3h0M261.2 57.4h0M174.7 83.9h0"/>
<path class="g" d="M95.3 95.8h0M193.4 222.6h0M184.7 196.5h0M75.2 77.8h0M193.2 191.9h0M104.7 115.8h0M192.8 207.3h0M153.9 139.5h0M136.0 109.5h0M280.3 33.1h0M71.7 81.6h0M131.6 89.5h0M195.4 226.5h0M258.6 39.7h0M195.3 209.0h0M185.0 183.1h0M133.6 148.0h0M185.4 193.9h0M109.6 120.5h0M133.6 146.9h0M81.9 80.8h0M179.0 74.7h0M186.5 168.9h0M188.2 167.6h0M161.6 81.8h0M94.1 96.1h0M167.2 80.0h0M193.8 228.8h0M121.1 106.3h0M290.6 26.6h0M159.2 62.0h0M78.9 83.3h0M288.8 33.9h0M110.9 116.3h0M195.2 174.8h0M147.8 163.9h0M190.0 206.5h0M194.5 219.4h0M277.7 35.3h0M160.5 61.1h0M112.2 111.4h0M196.4 40.0h0M194.2 229.2h0M187.6 192.1h0M152.3 163.9h0M255.8 44.6h0M184.3 154.0h0M173.9 142.7h0M155.3 55.3h0M113.1 126.2h0M189.1 198.9h0M77.5 82.5h0M272.7 40.2h0M252.6 50.0h0M79.4 84.8h0M170.5 186.0h0M264.9 47.6h0M187.9 172.7h0M189.8 200.2h0M144.3 156.7h0M100.6 105.6h0M211.9 78.8h0M182.0 175.8h0M191.8 192.9h0M92.4 88.6h0M98.7 93.2h0M152.0 169.2h0M183.3 149.0h0M128.6 105.5h0M257.5 54.8h0M191.2 211.4h0M79.9 79.0h0M172.4 137.6h0M248.5 65.6h0M178.2 180.6h0M158.8 182.4h0M108.4 90.5h0M91.0 93.4h0M150.5 91.9h0M247.3 29.5h0M80.7 77.2h0M281.1 34.2h0M69.8 81.9h0M159.8 180.3h0M203.7 44.2h0M195.3 207.6h0M144.7 97.8h0M283.1 38.3h0M101.7 93.9h0M168.7 98.5h0M139.5 103.9h0M146.7 163.5h0M191.5 215.9h0M130.3 91.9h0M96.5 93.0h0M184.9 188.0h0M114.5 126.7h0M121.5 129.9h0M93.8 84.6h0M182.4 171.8h0M286.4 31.3h0M119.6 116.9h0M67.5 76.6h0M254.6 115.2h0M191.1 45.8h0M140.9 153.6h0M235.0 71.2h0M185.7 187.5h0M263.4 45.5h0M100.9 92.7h0M260.0 37.6h0M190.7 184.3h0M88.3 85.2h0M145.1 57.5h0M193.0 225.4h0M195.3 177.4h0M88.3 86.3h0M193.4 217.2h0M279.5 42.5h0M91.7 96.1h0M191.1 211.2h0M193.6 218.7h0M283.7 32.2h0M187.7 201.3h0M269.7 35.6h0M211.0 147.0h0M187.5 188.2h0M87.1 88.5h0M194.8 219.9h0"/>
<path class="b" d="M98.3 92.0h0M134.6 158.1h0M69.5 77.5h0M292.7 29.3h0M176.7 106.4h0M267.0 47.7h0M266.6 51.4h0M182.5 71.5h0M175.7 98.0h0M135.5 115.4h0M81.2 82.2h0M117.2 81.3h0M183.0 65.9h0M160.4 77.5h0M148.0 125.1h0M92.2 89.0h0M278.4 33.4h0M179.1 79.5h0"/>
<path class="g" d="M187.2 105.3h0M80.4 86.3h0M120.1 70.0h0M63.2 76.1h0M286.8 33.2h0M116.2 108.9h0M191.9 194.1h0M110.9 125.7h0M152.7 115.2h0M88.3 81.9h0M276.8 32.6h0M161.7 182.4h0M121.1 69.0h0M103.1 102.2h0M260.1 45.5h0M181.0 175.0h0M230.9 71.9h0M194.8 139.2h0M116.2 116.0h0M196.2 126.6h0M124.1 116.5h0M281.7 25.9h0M245.8 63.2h0M300.6 24.7h0M165.7 81.3h0M113.9 76.7h0M88.6 86.1h0M187.2 180.9h0M61.8 75.3h0M78.8 79.7h0M253.4 68.2h0M156.2 169.5h0M117.8 102.6h0M238.3 118.4h0M189.6 200.6h0M72.9 78.8h0M193.0 174.0h0M124.4 96.4h0M192.6 204.1h0M134.1 133.5h0M266.3 39.4h0M66.5 73.8h0M192.4 185.1h0M85.5 83.3h0M167.7 96.6h0M140.6 145.3h0M189.2 216.4h0M72.2 76.2h0M191.9 207.9h0M230.0 49.3h0M270.4 38.1h0M90.7 95.9h0M207.9 49.2h0M244.6 30.5h0M152.0 157.3h0M218.6 41.1h0M173.2 70.6h0M189.2 200.8h0M137.9 59.5h0M102.4 96.4h0M186.8 195.9h0M91.5 84.9h0M189.9 197.7h0M190.4 186.0h0M159.7 182.7h0M113.4 109.3h0M187.9 153.8h0M273.0 46.5h0M274.0 31.1h0M263.7 37.9h0M101.9 96.4h0M224.9 70.6h0"/>
<path class="b" d="M78.2 82.4h0M206.2 118.0h0M162.6 97.1h0M116.5 98.7h0M75.3 77.1h0M256.4 44.6h0M90.3 89.4h0M72.4 79.0h0M219.4 95.5h0M175.7 96.2h0M78.0 80.2h0M106.2 69.4h0M98.3 92.8h0M100.5 95.9h0M79.1 81.0h0M152.2 95.3h0M109.4 98.5h0M101.5 72.8h0M78.7 79.4h0M161.9 186.1h0M292.6 27.8h0M85.3 86.8h0M148.5 54.8h0M194.6 130.4h0M85.9 89.3h0M128.1 116.4h0M222.0 58.2h0M96.6 89.8h0M89.5 83.2h0M73.9 75.9h0M239.1 85.7h0M108.8 99.5h0M194.8 50.8h0M81.3 80.8h0M101.4 91.8h0M161.8 111.1h0M273.3 39.7h0M119.2 91.0h0M78.0 81.6h0M179.1 63.6h0M81.2 83.3h0M111.2 103.9h0M177.3 63.4h0M75.2 79.1h0M258.9 56.0h0M127.3 90.4h0M90.2 91.3h0M205.9 68.1h0M125.3 75.4h0M158.3 83.9h0M95.9 93.6h0M236.0 48.3h0M129.3 76.9h0M188.6 190.8h0M92.1 84.4h0M200.9 49.3h0M173.0 67.4h0M90.3 89.9h0M132.3 104.8h0M78.7 79.0h0M103.6 90.5h0M150.1 117.2h0M280.2 31.9h0M137.1 124.7h0M71.1 78.9h0M258.4 47.8h0M114.9 122.3h0M275.3 43.5h0M68.3 75.2h0M177.3 56.1h0M168.6 90.0h0M259.1 48.0h0"/>
<path class="r" d="M487.7 116.3h0M478.0 99.9h0M465.7 79.3h0M484.7 79.7h0M487.0 80.1h0M491.3 58.2h0M481.6 124.8h0M479.2 76.3h0M484.1 109.2h0M489.4 119.4h0M483.3 66.9h0M495.5 90.8h0M490.3 75.5h0M481.5 103.6h0M489.5 33.0h0M483.3 96.7h0M485.2 73.6h0M490.1 64.4h0M470.1 74.2h0M512.4 69.0h0M453.5 76.8h0M484.1 102.1h0M486.0 47.0h0M491.9 102.0h0M477.0 120.6h0M489.0 60.8h0M477.1 88.8h0M557.0 142.0h0M483.8 91.2h0M465.0 56.3h0M491.6 54.4h0M491.8 85.0h0M439.0 98.3h0M478.5 90.6h0M493.8 72.7h0M486.5 89.3h0M486.7 122.2h0M494.1 65.4h0M477.2 116.6h0M482.1 77.1h0M496.4 89.6h0M482.6 92.3h0M481.5 93.4h0M489.5 55.7h0M485.1 62.8h0M503.8 117.0h0M442.3 99.2h0M488.0 96.0h0M491.8 66.8h0M484.1 67.5h0M481.5 120.9h0M484.0 100.2h0M484.3 123.3h0M479.9 63.6h0M498.5 76.9h0M489.2 90.7h0M476.5 86.5h0M444.2 88.9h0M480.4 52.3h0M478.4 93.0h0M484.7 83.4h0M487.7 87.8h0M491.3 96.6h0M492.2 55.5h0M492.6 73.7h0M483.3 61.1h0M488.1 114.0h0M495.3 73.2h0M486.4 79.8h0M492.8 59.3h0M446.1 101.8h0M478.0 115.7h0M488.3 58.0h0M489.1 102.2h0M499.3 98.3h0M489.3 59.5h0M466.7 77.1h0M484.0 122.8h0M437.6 100.3h0M458.3 76.4h0M483.4 80.7h0M495.4 73.8h0M469.3 93.1h0M491.3 60.6h0M489.6 65.7h0M489.0 56.4h0M477.3 114.2h0M493.1 120.4h0M489.8 87.9h0M491.3 114.4h0M443.0 93.0h0M492.0 113.4h0M472.2 90.6h0M488.5 98.4h0M494.6 108.7h0M424.5 102.3h0M486.7 72.0h0M495.0 47.4h0M455.0 100.6h0M489.0 79.0h0M494.4 74.3h0M482.5 63.7h0M484.9 55.7h0M459.8 101.4h0M480.0 115.5h0M489.7 80.1h0M491.4 103.2h0M494.6 103.4h0M494.3 115.3h0M458.4 83.3h0M482.4 117.1h0M483.4 58.2h0M458.2 97.3h0M491.9 118.7h0M494.2 98.7h0M491.7 117.5h0M458.4 102.1h0M490.6 20.0h0M487.3 64.1h0M482.3 117.0h0M494.7 122.3h0M492.9 76.4h0M476.7 125.6h0M480.0 90.1h0M490.0 41.0h0M482.9 107.3h0M481.4 122.5h0M491.2 81.1h0M496.2 68.8h0M481.5 116.5h0M454.0 93.8h0M486.0 55.0h0M493.7 81.7h0M487.6 81.3h0M486.4 102.1h0M492.0 44.0h0M493.1 73.0h0M480.1 70.5h0M485.4 73.1h0M485.7 66.2h0M487.2 114.3h0M433.3 98.6h0M451.1 89.4h0M494.6 110.1h0M465.2 68.2h0M484.5 78.7h0M462.1 73.9h0M424.5 98.6h0M489.0 50.0h0M429.8 100.8h0M494.4 62.3h0M482.1 69.2h0M479.4 116.1h0M467.3 72.0h0M481.8 92.8h0M450.5 86.4h0M489.4 67.7h0M491.0 53.0h0M487.1 69.9h0M488.3 95.3h0M486.1 108.0h0M491.9 107.1h0M481.8 107.8h0M482.8 98.1h0M482.9 107.2h0M492.8 118.9h0M486.3 113.3h0M487.8 111.2h0M466.0 90.1h0M548.6 96.0h0M493.7 120.8h0M491.3 108.4h0M478.1 115.7h0M478.4 99.6h0"/>
<path class="r" d="M459.2 79.7h0M498.8 47.4h0M493.9 104.6h0M492.2 89.4h0M485.9 63.6h0M491.5 112.9h0M499.2 96.0h0M490.5 54.8h0M434.0 96.3h0M438.7 99.1h0M460.5 106.2h0M487.7 107.2h0M487.9 82.6h0M491.2 120.9h0M494.8 103.1h0M488.9 108.4h0M496.9 111.2h0M454.8 80.1h0M487.6 62.4h0M471.1 93.6h0M454.5 102.3h0M480.8 61.4h0M464.6 88.8h0M484.3 52.7h0M491.7 61.2h0M460.4 93.7h0M492.0 92.6h0M492.7 115.4h0M489.8 65.2h0M489.5 96.6h0M500.0 119.7h0M488.1 91.0h0M491.6 112.9h0M439.3 105.3h0"/>
<path class="g" d="M420.9 167.7h0M501.7 219.1h0M405.9 169.2h0M413.8 170.1h0M419.8 168.2h0M416.6 179.4h0M411.5 175.5h0M418.1 168.9h0M492.7 195.0h0M427.2 176.2h0M390.2 168.9h0M545.8 166.1h0M485.3 163.7h0M495.6 222.2h0M495.0 223.5h0M394.7 165.2h0M392.7 171.9h0M584.2 167.7h0M495.4 217.4h0M500.8 194.9h0M446.1 169.5h0M502.3 211.2h0M488.0 141.7h0M576.1 169.5h0M494.9 224.9h0M574.1 170.4h0M501.4 188.1h0M495.6 199.9h0M407.5 164.7h0M498.2 144.7h0M374.1 168.0h0M545.0 182.4h0M498.8 183.2h0M504.4 189.2h0M614.5 174.0h0M556.8 174.4h0M503.9 170.2h0M409.8 172.1h0M394.6 172.5h0M492.9 140.4h0M425.8 171.7h0M416.6 156.9h0M498.9 210.9h0M493.2 183.9h0M503.2 188.4h0M528.6 162.6h0M509.6 163.8h0M408.3 172.1h0M492.3 187.3h0M501.0 183.5h0M423.2 160.1h0M444.3 173.3h0M425.4 180.3h0M409.2 159.4h0M493.2 145.5h0M456.8 154.6h0M417.6 175.6h0M385.4 161.0h0M497.6 191.3h0M405.0 170.0h0M610.3 173.3h0M388.8 165.1h0M583.3 165.8h0M417.2 166.4h0M443.3 163.8h0M494.4 186.1h0M429.9 167.8h0M392.1 165.3h0M401.5 177.3h0M587.9 173.3h0M502.6 170.1h0M577.8 166.6h0M462.2 168.8h0M394.7 172.8h0M533.7 169.0h0M550.8 170.8h0M478.8 162.8h0M422.0 163.7h0M443.9 176.5h0M499.3 185.2h0M419.8 166.5h0M481.4 170.9h0M391.5 170.7h0M615.4 173.9h0M469.0 126.0h0M569.8 167.7h0M431.6 168.4h0M397.1 171.8h0M490.1 193.6h0M507.0 172.7h0M551.0 163.3h0M385.0 167.9h0M470.1 160.2h0M414.7 164.9h0M602.6 173.2h0M598.4 172.4h0M496.0 196.6h0M418.3 163.3h0M594.7 169.7h0M382.0 170.5h0M612.1 172.9h0M411.0 169.4h0M460.8 122.5h0M494.6 188.6h0M480.8 173.4h0M496.1 190.5h0M502.3 191.6h0M499.3 175.2h0M503.1 211.4h0M584.9 172.9h0M410.2 165.7h0M473.5 189.2h0M564.7 163.9h0M515.1 193.0h0M497.3 170.9h0M491.1 158.3h0M560.0 166.3h0M501.5 204.5h0"/>
<path class="b" d="M579.7 154.4h0M386.6 157.4h0M493.8 152.6h0M451.0 156.1h0M467.3 129.7h0M406.3 150.2h0M515.7 139.8h0M569.5 158.5h0M602.4 154.4h0M467.8 151.9h0M399.5 154.0h0M465.8 148.9h0M553.5 165.2h0M593.8 155.4h0M483.0 144.7h0M395.8 154.7h0M458.2 145.7h0M455.9 131.8h0M552.2 151.9h0M386.9 157.9h0M581.4 156.5h0M561.8 157.8h0"/>
<path class="r" d="M478.9 119.3h0M467.3 88.4h0M484.9 86.1h0M491.0 125.1h0M488.0 36.0h0M427.0 106.1h0M488.0 75.7h0M479.2 91.5h0M468.5 101.6h0M457.4 87.9h0M484.7 65.4h0M480.4 110.8h0M470.9 110.9h0M494.4 85.1h0M492.8 115.9h0M497.6 59.0h0M488.4 56.2h0M491.0 29.0h0M433.2 100.3h0M493.6 84.0h0M496.8 108.3h0M490.7 107.1h0M489.3 104.9h0"/>
<path class="g" d="M496.7 233.0h0M458.4 122.7h0M493.0 182.6h0M495.0 225.0h0M500.7 208.4h0M495.3 225.3h0M514.2 169.3h0M598.6 173.7h0M388.3 167.6h0M437.2 190.9h0M584.3 171.1h0M495.3 185.3h0M412.7 169.6h0M604.2 171.4h0M376.8 170.7h0M485.3 154.9h0M497.0 209.4h0M568.2 170.4h0M491.6 204.8h0M395.7 167.6h0M566.3 166.5h0M493.7 197.3h0M432.9 174.8h0M439.9 164.3h0M427.6 168.9h0M495.5 180.5h0M550.1 190.1h0M499.3 191.8h0M394.0 166.9h0M499.3 186.4h0M611.6 172.7h0M568.3 169.0h0M469.2 161.4h0M518.1 164.0h0M493.2 216.8h0M542.5 186.6h0M501.9 225.3h0M377.7 171.3h0M478.0 173.0h0M428.0 167.8h0M419.0 163.2h0M465.2 117.3h0M512.7 179.5h0M596.2 175.3h0M398.1 167.1h0M492.5 227.5h0M593.5 171.7h0M498.3 224.9h0M494.3 162.2h0M573.4 166.3h0M404.0 170.2h0M499.5 189.6h0M466.0 213.0h0M500.8 220.7h0M587.7 169.7h0M465.3 167.4h0M395.7 167.2h0M573.1 171.9h0M424.0 169.3h0M482.9 177.2h0M413.3 170.3h0M424.9 177.7h0M499.0 184.8h0M478.8 162.3h0M498.8 230.9h0M474.1 153.5h0M390.2 170.4h0M536.9 174.8h0M394.9 167.6h0M408.7 154.2h0M495.4 184.2h0M500.4 200.0h0M400.8 175.1h0M562.7 165.8h0M534.8 164.7h0M498.8 168.7h0M547.0 161.5h0M499.5 219.1h0M529.1 164.0h0M606.1 175.6h0M496.5 235.7h0M492.1 200.9h0M503.3 172.3h0M607.1 173.8h0M393.5 161.1h0M375.6 161.4h0M397.5 168.1h0M399.6 167.6h0M375.2 173.8h0M489.4 187.3h0M428.2 167.0h0M553.4 176.7h0M486.7 173.4h0M529.8 180.8h0M394.8 164.5h0M496.7 220.4h0M390.9 171.8h0M374.9 170.1h0M430.0 170.5h0M559.0 172.1h0M509.3 174.6h0M383.4 167.4h0M476.4 165.9h0M394.2 164.3h0M466.2 163.1h0M498.6 198.0h0M600.4 169.6h0M502.1 222.1h0M423.2 179.3h0M499.2 209.0h0M490.4 156.6h0M422.8 178.2h0M489.2 186.4h0M435.2 181.4h0M510.9 170.1h0M475.7 179.2h0M497.0 232.8h0M497.4 183.0h0M442.5 173.2h0M564.4 169.0h0M386.3 171.2h0M504.9 158.9h0M464.0 163.7h0M493.8 226.6h0M456.6 116.7h0M415.9 163.1h0"/>
<path class="b" d="M410.7 132.5h0M390.3 153.9h0M389.5 153.7h0M495.3 131.5h0M435.3 152.0h0M555.6 165.0h0M424.9 131.6h0M453.9 167.4h0M427.4 155.2h0M442.2 155.7h0M478.1 141.6h0M550.4 150.8h0M513.4 169.4h0M438.4 166.4h0M466.6 154.7h0M581.5 153.0h0M431.1 156.6h0M380.4 155.1h0M460.5 156.3h0M579.9 155.4h0M455.0 129.2h0M406.4 157.9h0M379.3 152.7h0M443.5 152.4h0M503.7 129.0h0"/>
<path class="r" d="M485.8 118.9h0M465.1 94.2h0M483.6 69.9h0M489.8 109.3h0M497.3 83.1h0M488.5 53.6h0M446.4 97.4h0M481.4 91.8h0M469.8 99.4h0M480.4 107.6h0M486.5 97.4h0M465.0 87.3h0M490.9 110.5h0M502.0 96.0h0M493.0 38.0h0M470.2 72.7h0M479.2 76.0h0M500.1 122.4h0M537.8 115.8h0M491.4 78.5h0"/>
<path class="g" d="M495.8 206.9h0M605.5 173.6h0M496.3 216.4h0M501.8 186.0h0M407.8 170.3h0M496.4 211.1h0M538.4 163.7h0M414.8 164.5h0M390.9 169.0h0M584.4 169.8h0M404.3 166.6h0M470.4 178.4h0M612.8 172.1h0M553.3 160.1h0M497.6 187.6h0M493.6 198.6h0M478.8 159.2h0M410.7 168.5h0M525.1 165.7h0M504.5 194.8h0M422.4 148.6h0M497.2 201.1h0M409.3 165.3h0M427.3 171.4h0M407.0 133.0h0M449.5 162.2h0M500.0 157.5h0M373.1 164.5h0M386.2 164.4h0M374.0 165.2h0M491.6 215.6h0M535.5 167.9h0M460.9 173.1h0M423.5 169.5h0M495.1 210.5h0M419.3 165.4h0M558.5 168.7h0M375.5 169.2h0M404.5 166.7h0M410.5 159.4h0M415.5 166.4h0M434.5 159.1h0M403.0 168.5h0M458.6 121.3h0M381.8 171.2h0M499.4 230.6h0M476.4 177.0h0M456.1 182.5h0M566.0 171.5h0M489.6 182.7h0M501.5 207.3h0M552.5 157.5h0M425.3 174.2h0M426.2 164.9h0M607.2 172.8h0M479.8 175.7h0M524.4 176.9h0M517.3 182.6h0M549.7 174.4h0M609.9 174.7h0M455.1 166.6h0M540.9 195.8h0M502.4 208.5h0M583.5 170.7h0M519.9 174.3h0M431.7 169.0h0M419.6 170.0h0M473.4 168.7h0M396.2 174.3h0M383.1 167.1h0M442.6 153.0h0M489.6 228.7h0M518.1 164.5h0M497.0 217.1h0M501.2 200.7h0M551.4 174.1h0M411.9 174.6h0M448.1 169.2h0M581.7 172.5h0M485.5 167.4h0M392.7 162.8h0M522.3 172.0h0M576.7 170.7h0M402.4 172.7h0M465.2 115.9h0M556.6 170.0h0M497.2 230.5h0M376.6 159.7h0M496.8 225.0h0M459.7 154.7h0M508.9 197.9h0M375.6 163.6h0M525.1 161.1h0M615.9 173.7h0M497.6 204.4h0M494.5 211.5h0M380.9 169.4h0M595.0 174.2h0M546.4 163.0h0M511.8 160.8h0M556.3 154.8h0M377.4 163.9h0M608.4 171.3h0M443.9 167.3h0M434.7 169.0h0M425.0 164.7h0M580.9 168.8h0M398.7 173.9h0M413.8 172.3h0M489.0 78.5h0M535.9 172.6h0M391.1 171.9h0M563.3 166.6h0M392.7 165.8h0M395.2 166.7h0M417.9 162.9h0M491.6 156.9h0M568.0 170.7h0M584.0 166.0h0M461.7 118.2h0"/>
<path class="b" d="M407.5 151.7h0M589.9 155.2h0M526.8 164.6h0M588.4 158.0h0M483.7 153.0h0M377.3 155.0h0M377.6 150.6h0M487.8 130.7h0M390.2 150.7h0M512.4 147.4h0M548.9 156.3h0M381.1 152.4h0M409.5 148.6h0M414.3 144.4h0M457.7 155.0h0M452.9 157.0h0M458.9 142.8h0M521.6 137.0h0M467.7 150.2h0M443.7 154.0h0M534.2 137.7h0M452.3 147.6h0M461.0 113.0h0M386.4 154.7h0M392.3 153.4h0M470.0 132.8h0M426.4 129.8h0M518.9 156.3h0M451.9 162.5h0M413.5 150.6h0M507.9 168.8h0M521.9 132.9h0M508.5 135.1h0M477.1 160.4h0"/>
<path class="r" d="M496.9 98.4h0M483.7 125.3h0M484.5 108.1h0M490.5 69.7h0M481.2 112.5h0M458.0 87.6h0M491.5 103.8h0M484.8 120.7h0M495.5 54.5h0M480.5 94.8h0M493.4 69.0h0M494.9 65.1h0M489.4 53.2h0M463.3 99.1h0M469.5 89.4h0M492.2 78.9h0M490.8 100.6h0M420.4 93.3h0M457.0 86.4h0M484.8 106.9h0M495.2 66.6h0M489.0 109.7h0M477.5 110.3h0M491.1 120.2h0M430.9 104.4h0M488.6 58.9h0M437.0 126.5h0M481.5 83.6h0M496.0 115.8h0"/>
<path class="g" d="M425.7 162.5h0M426.6 169.4h0M506.9 165.2h0M499.3 225.0h0M496.3 214.7h0M501.5 219.9h0M401.5 173.8h0M553.1 174.6h0M449.4 175.0h0M408.6 170.1h0M402.2 162.6h0M408.8 165.9h0M501.2 185.2h0M564.0 170.3h0M508.6 173.4h0M400.4 170.2h0M535.2 161.9h0M473.2 161.4h0M401.3 168.4h0M528.5 188.6h0M496.5 143.4h0M430.8 161.2h0M546.1 162.6h0M493.5 172.6h0M497.0 217.7h0M452.6 168.6h0M505.9 169.7h0M498.8 219.4h0M598.3 170.1h0M515.9 182.3h0M497.0 189.7h0M553.2 166.9h0M397.3 165.3h0M582.1 170.2h0M469.7 155.7h0M605.1 172.5h0M498.9 190.2h0M495.3 190.7h0M398.0 169.4h0M493.9 187.9h0M492.5 228.1h0M500.6 164.6h0M419.1 164.7h0M457.4 115.1h0M410.8 157.8h0M563.1 165.9h0M501.4 197.5h0M495.4 221.9h0M449.3 147.8h0M390.9 170.1h0M493.1 193.9h0M427.9 170.7h0M407.1 163.5h0M399.4 165.4h0M474.4 170.3h0M498.4 203.7h0M488.8 212.2h0M500.4 210.4h0M494.4 207.6h0M499.4 222.8h0M403.2 169.3h0M494.1 191.4h0M415.3 164.4h0M543.2 168.2h0M411.4 162.5h0M541.1 169.0h0M498.7 214.6h0M377.6 163.1h0M498.1 203.8h0M391.9 166.4h0M409.9 175.5h0M473.0 153.6h0M401.6 174.5h0M501.8 217.8h0M499.2 193.0h0M381.8 171.4h0M411.3 166.0h0M541.5 185.4h0M554.8 166.6h0M403.1 167.7h0M427.4 164.7h0M403.3 170.5h0M455.4 116.0h0M467.1 168.4h0M411.5 171.0h0M559.4 167.2h0M552.9 168.8h0M469.3 158.9h0M494.4 171.8h0M497.3 223.4h0M496.4 198.9h0M492.1 183.9h0M409.8 170.5h0M398.2 166.3h0M475.2 173.4h0M453.6 120.7h0M397.2 174.4h0M496.5 154.4h0M494.4 220.6h0M496.4 216.4h0M493.8 183.2h0M472.3 168.2h0M385.4 166.1h0M494.5 191.1h0M447.5 157.8h0M412.3 172.1h0M393.0 167.5h0M491.7 187.9h0M607.2 172.5h0M453.1 120.4h0M454.4 193.2h0M467.0 164.4h0M378.0 162.9h0M500.6 171.5h0M498.2 211.8h0"/>
<path class="b" d="M401.4 152.2h0M555.6 149.1h0M403.5 154.8h0M466.0 111.0h0M472.4 142.9h0M429.0 152.2h0M467.0 128.3h0M405.9 151.9h0M450.1 125.3h0M494.7 176.6h0M437.3 149.0h0M534.5 170.5h0M537.5 139.5h0M575.7 153.5h0M544.4 159.3h0M544.1 143.7h0M590.4 156.8h0M599.1 155.9h0M592.4 157.9h0M508.5 159.5h0M432.8 154.8h0M494.2 125.8h0M580.3 153.7h0M439.9 127.6h0M454.1 156.4h0M396.9 155.7h0M432.5 145.1h0M390.6 152.6h0M381.6 155.8h0M381.8 156.9h0"/>
<path class="r" d="M461.7 100.5h0M464.0 107.4h0M491.6 71.3h0M488.5 64.9h0M489.3 112.1h0M496.4 81.3h0M480.5 110.8h0M455.5 87.9h0M448.7 88.0h0M482.5 97.5h0M487.5 109.0h0M487.0 112.8h0M496.7 80.4h0M501.0 70.0h0M446.7 100.2h0M487.8 107.5h0M494.1 109.5h0M485.9 88.3h0M429.0 125.5h0M493.8 65.9h0M484.6 115.5h0M495.3 109.4h0M490.0 101.1h0M481.5 113.6h0M488.7 71.1h0M487.0 30.0h0M471.5 101.4h0M483.4 109.9h0M490.1 67.7h0M486.1 55.7h0M489.4 100.0h0M492.7 125.5h0"/>
<path class="g" d="M595.8 170.4h0M431.8 165.3h0M513.6 168.1h0M445.2 161.5h0M423.0 170.2h0M503.5 187.0h0M398.3 169.3h0M443.5 159.1h0M388.7 168.1h0M495.9 218.8h0M582.1 172.1h0M386.0 164.3h0M501.5 218.2h0M394.5 167.0h0M492.9 206.4h0M497.5 229.5h0M500.7 210.4h0M433.4 185.7h0M427.6 182.0h0M502.8 224.6h0M454.7 114.6h0M395.6 167.0h0M413.4 160.5h0M503.3 188.5h0M499.1 214.5h0M498.2 226.1h0M445.1 155.2h0M493.9 159.8h0M496.6 223.5h0M578.7 169.3h0M493.9 186.7h0M580.7 172.0h0M551.0 170.8h0M498.0 189.6h0M565.8 167.9h0M384.0 169.7h0M490.6 212.0h0M583.7 169.7h0M473.6 166.1h0M500.8 203.0h0M589.0 171.8h0M495.4 191.2h0M453.9 116.6h0M382.7 165.2h0M497.3 192.4h0M521.7 199.4h0M562.1 194.2h0M616.0 173.3h0M463.0 206.0h0M498.0 206.1h0M498.3 209.5h0M608.8 175.6h0M532.1 159.8h0M490.9 221.7h0M417.9 167.4h0M496.4 216.6h0M579.4 166.6h0M588.3 174.0h0M434.4 170.1h0M550.7 170.3h0M552.7 164.1h0M486.0 165.1h0M496.8 205.0h0M497.4 226.9h0M440.4 180.3h0M386.3 167.5h0M425.2 165.5h0M420.9 168.4h0M500.6 204.3h0M499.4 225.8h0M497.8 185.5h0M453.8 163.6h0M408.4 172.4h0M452.7 179.1h0M498.1 191.2h0M514.4 165.6h0M588.7 171.4h0M430.5 170.9h0M499.7 230.7h0M492.3 233.9h0M594.5 170.1h0M612.2 174.9h0M414.2 178.2h0M461.7 188.0h0M507.7 182.1h0M602.1 172.1h0M496.5 224.1h0M498.1 154.5h0M498.5 214.0h0M496.8 233.0h0M468.1 164.6h0M429.4 175.5h0M574.6 168.5h0M499.8 229.3h0M545.1 169.0h0M453.8 169.4h0M568.6 169.9h0M512.7 154.7h0M493.8 225.5h0M373.9 163.8h0M447.7 169.6h0M424.8 179.7h0M499.7 181.6h0M501.2 195.9h0M584.8 170.6h0M572.1 165.0h0M603.3 170.1h0M499.4 217.1h0M379.7 161.7h0M577.8 171.8h0M399.0 167.7h0M446.7 162.6h0M482.2 171.8h0M486.1 144.9h0M592.3 174.2h0"/>
<path class="b" d="M385.9 152.9h0M566.7 155.4h0M429.7 160.9h0M403.5 158.2h0M427.7 125.3h0M462.8 146.4h0M503.2 132.8h0M384.2 155.2h0M431.3 157.2h0M567.0 154.8h0M502.4 133.8h0M541.9 156.8h0M504.0 119.0h0M571.6 155.8h0M494.0 162.6h0M379.7 152.2h0M492.1 153.4h0M377.4 153.4h0M381.8 155.6h0M580.5 155.6h0M555.8 167.7h0M402.4 153.7h0M380.3 154.7h0M428.9 125.4h0M535.2 139.3h0M391.2 152.7h0M581.2 154.0h0"/>
<path class="r" d="M496.8 119.0h0M494.0 63.3h0M456.1 95.7h0M463.7 102.4h0M486.1 116.7h0M488.6 61.5h0M442.7 99.4h0M493.1 93.5h0M423.5 104.1h0M491.6 56.5h0M481.3 103.4h0M486.4 76.7h0M493.8 108.4h0M482.7 87.9h0M485.7 113.4h0M495.4 52.4h0M490.5 80.8h0M427.0 103.8h0M489.8 113.8h0M485.9 125.6h0M487.3 117.2h0M493.8 119.5h0M495.7 91.4h0"/>
<path class="g" d="M482.9 151.2h0M597.2 172.2h0M585.7 169.1h0M600.9 172.5h0M430.9 166.2h0M495.2 206.7h0M509.5 166.9h0M598.8 171.1h0M498.2 171.2h0M388.3 164.3h0M499.2 194.6h0M404.9 172.4h0M480.1 162.0h0M410.9 162.7h0M383.0 162.7h0M491.6 223.0h0M405.3 171.5h0M553.0 173.0h0M501.5 192.3h0M400.8 174.9h0M464.6 196.2h0M456.2 148.0h0M494.2 220.9h0M496.7 208.6h0M497.7 197.4h0M407.2 170.4h0M404.2 151.7h0M484.1 172.7h0M413.1 164.9h0M429.4 166.4h0M416.2 164.9h0M410.4 160.6h0M378.5 164.9h0M503.7 200.7h0M396.2 161.0h0M543.3 173.0h0M496.6 191.6h0M500.9 184.1h0M404.5 174.9h0M427.1 179.3h0M527.2 169.9h0M375.0 159.1h0M434.9 175.5h0M520.2 180.1h0M379.9 169.1h0M402.4 170.7h0M571.1 170.1h0M502.1 184.3h0M421.1 162.3h0M571.8 169.5h0M411.7 173.8h0M504.4 186.9h0M478.5 165.8h0M491.0 163.5h0M498.4 204.8h0M388.2 166.6h0M485.0 164.1h0M429.1 152.9h0M429.1 172.1h0M500.8 223.2h0M499.5 193.4h0M541.1 180.0h0M582.2 169.0h0M546.9 153.2h0M602.6 174.5h0M448.3 164.9h0M595.1 172.6h0M578.8 169.8h0M499.3 207.8h0M589.0 173.6h0M440.3 171.5h0M408.9 165.2h0M463.4 170.0h0M401.3 163.9h0M388.8 170.0h0M497.3 222.3h0M528.8 185.5h0M420.4 169.5h0M413.9 171.7h0M498.1 203.5h0M394.8 174.3h0M400.0 167.8h0M510.9 185.8h0M562.2 169.1h0M430.0 170.9h0M495.2 181.4h0M461.0 209.0h0M478.0 213.0h0M494.4 169.3h0M529.0 150.7h0M501.7 196.6h0M500.5 220.5h0M453.4 170.4h0M525.8 198.5h0M504.0 200.8h0M500.9 170.6h0M556.1 181.2h0M402.3 175.1h0M572.7 166.4h0M409.0 168.2h0M468.0 167.6h0M498.1 211.9h0M504.2 192.8h0M389.2 170.7h0M528.0 158.6h0M491.4 215.3h0M483.4 158.6h0M458.5 162.8h0M493.8 164.9h0M494.3 193.9h0M517.9 174.0h0M496.8 215.5h0M397.9 162.6h0M425.8 168.3h0M492.0 191.7h0"/>
<path class="b" d="M564.9 155.3h0M465.5 133.0h0M533.5 138.1h0M473.0 91.0h0M446.1 163.6h0M500.7 130.5h0M581.1 161.0h0M462.7 167.9h0M433.5 156.3h0M537.4 147.4h0M561.0 146.7h0M546.0 150.5h0M529.1 140.3h0M385.9 154.7h0M463.8 141.7h0M506.5 134.9h0M398.4 152.5h0M582.3 151.7h0M576.9 153.1h0M401.0 149.9h0M499.8 161.6h0M427.3 146.6h0M566.3 153.1h0M379.1 154.0h0M584.6 159.0h0M453.4 159.1h0M466.6 153.5h0M444.5 149.4h0M397.9 155.4h0M564.5 156.4h0M473.5 127.2h0M489.1 154.1h0M457.0 147.2h0M378.9 154.8h0M469.7 145.7h0M464.3 131.7h0"/>
<path class="r" d="M490.3 99.6h0M478.7 86.6h0M539.0 97.0h0M480.7 115.4h0M488.0 44.0h0M444.5 93.3h0M499.1 113.0h0M491.3 53.5h0M446.3 90.0h0M495.8 90.8h0M478.7 87.1h0M487.1 106.3h0M479.4 123.0h0M481.9 100.7h0M493.1 99.2h0M449.1 89.2h0M495.1 74.2h0M492.9 70.2h0M490.3 76.4h0M495.7 53.8h0M463.3 97.0h0M499.1 125.5h0M493.8 60.1h0M498.7 92.0h0M462.1 86.9h0M503.0 85.0h0"/>
<path class="g" d="M499.5 203.4h0M489.5 223.2h0M452.2 167.4h0M551.6 164.7h0M590.8 168.8h0M558.8 169.9h0M606.2 170.7h0M456.4 179.9h0M548.6 167.1h0M482.6 166.5h0M499.5 222.6h0M494.6 225.2h0M492.7 194.8h0M384.4 165.6h0M421.4 168.5h0M607.0 170.8h0M553.0 186.2h0M571.2 184.7h0M560.4 163.8h0M397.8 173.1h0M469.3 164.8h0M391.9 168.0h0M496.7 217.4h0M465.1 118.3h0M531.4 174.0h0M522.8 162.1h0M489.5 199.6h0M597.2 172.3h0M545.2 164.9h0M431.2 170.6h0M417.1 175.9h0M429.5 174.8h0M462.5 188.8h0M562.1 165.6h0M387.6 168.4h0M408.0 182.0h0M479.7 170.2h0M421.7 159.2h0M400.9 163.1h0M469.4 172.0h0M571.9 169.0h0M508.8 171.1h0M401.4 165.8h0M534.4 163.8h0M395.4 172.0h0M431.9 167.7h0M490.1 175.3h0M420.6 153.8h0M489.0 173.0h0M502.4 169.8h0M600.5 171.5h0M381.7 167.3h0M566.7 171.2h0M598.0 170.6h0M496.2 225.7h0M410.0 163.0h0M535.8 174.0h0M555.6 168.0h0M535.2 171.3h0M430.0 167.8h0M611.9 173.7h0M492.9 182.5h0M440.0 216.0h0M502.1 222.8h0M443.6 156.2h0M373.4 168.2h0M466.5 168.8h0M503.9 169.7h0M427.8 180.0h0M401.6 161.1h0M500.0 189.6h0M428.6 167.8h0M470.0 163.0h0M395.5 169.9h0M489.5 164.0h0M461.2 171.7h0M497.4 181.9h0M585.7 168.8h0M565.0 191.5h0M553.5 166.8h0M503.0 185.6h0M563.8 168.7h0M495.4 221.6h0M442.2 170.3h0M577.5 169.6h0M503.6 214.6h0M491.9 219.6h0M573.1 166.9h0M496.2 174.5h0M424.9 172.9h0M420.9 159.5h0M502.6 217.5h0M428.1 160.0h0M478.6 165.1h0M496.3 192.1h0M589.4 174.7h0M496.9 189.3h0M611.5 172.8h0M498.4 199.6h0M575.1 173.1h0M423.3 172.4h0M455.9 154.4h0M575.7 169.2h0M554.6 188.0h0M476.9 157.1h0M493.8 223.2h0M491.2 229.4h0M383.0 162.1h0M495.3 221.5h0M422.9 170.6h0M412.6 167.1h0M495.0 200.4h0M494.4 188.9h0M453.3 166.3h0M538.2 173.6h0M517.4 159.4h0M499.7 195.0h0M493.2 226.4h0M452.0 217.0h0M560.8 172.9h0M463.9 160.0h0"/>
<path class="b" d="M571.2 158.2h0M588.5 157.6h0M581.3 152.8h0M570.4 156.7h0M597.5 155.6h0M382.1 153.1h0M555.5 148.1h0M379.9 156.0h0M402.9 155.8h0M382.7 156.2h0M588.2 158.1h0M382.2 155.1h0M449.3 158.1h0M574.9 149.2h0M520.8 154.5h0M610.0 160.0h0M571.6 154.6h0M392.3 154.0h0M586.2 156.7h0M454.0 112.5h0M440.9 153.7h0M443.0 159.9h0M416.2 141.6h0M559.0 172.4h0M556.5 146.9h0M437.4 156.7h0M454.9 152.9h0"/>
<path class="r" d="M461.3 79.5h0M499.0 90.9h0"/>
<path class="g" d="M508.9 174.5h0M494.4 223.2h0M468.0 168.6h0M496.5 166.6h0M427.2 173.3h0M457.3 115.9h0M427.5 159.7h0M596.1 169.9h0M378.7 160.3h0M375.7 173.5h0M373.7 161.7h0M585.2 169.5h0M400.8 168.0h0M586.6 173.2h0M496.0 138.7h0M495.9 197.9h0M528.0 173.7h0M405.5 169.1h0M591.3 168.9h0M467.2 165.6h0M455.4 113.6h0M477.4 178.8h0M500.9 224.5h0M556.6 166.4h0M500.2 195.5h0M497.0 209.0h0M497.8 229.2h0M479.4 151.3h0M413.5 171.6h0M578.2 170.9h0M422.3 171.0h0M485.5 173.7h0M498.8 183.0h0M592.4 172.6h0M460.6 165.6h0M429.1 169.8h0M531.1 159.7h0M558.0 168.4h0M584.9 166.4h0M416.0 174.6h0M498.4 227.7h0M575.9 165.4h0M486.9 181.1h0M374.3 170.7h0M559.2 162.1h0M496.7 186.3h0M493.3 204.5h0M491.6 212.9h0M496.9 231.9h0M501.5 230.7h0M497.6 178.8h0M590.8 171.2h0M554.4 161.7h0M451.6 157.4h0M424.1 174.2h0M402.4 167.3h0M547.8 165.3h0M500.0 209.7h0M611.5 174.1h0M394.7 169.0h0M499.3 130.2h0M507.5 154.6h0M498.9 219.7h0M493.2 164.9h0M608.4 175.3h0M405.0 161.6h0M378.3 173.7h0M401.4 171.2h0M424.3 160.7h0M395.0 164.1h0M525.0 160.0h0M375.6 161.4h0M425.1 173.9h0M390.4 161.5h0M373.1 165.5h0M550.7 190.9h0M548.8 159.2h0M421.2 164.0h0M410.9 170.6h0M501.3 220.0h0M494.7 199.8h0M442.9 167.2h0M461.8 154.0h0M572.0 163.8h0M438.4 160.2h0M450.3 179.5h0M612.0 173.7h0M467.1 158.8h0M497.9 160.4h0M421.0 162.8h0M421.2 165.4h0M570.8 168.1h0M421.9 158.8h0M599.9 172.0h0M487.3 170.2h0M504.4 192.1h0M525.5 158.5h0M441.2 163.9h0M401.2 175.3h0M421.2 182.1h0M499.0 227.3h0M543.5 159.8h0M510.1 160.5h0M498.3 172.5h0M496.6 213.2h0M382.9 169.5h0M493.3 192.6h0M403.6 169.4h0M417.4 169.4h0M499.5 218.8h0M516.3 171.5h0M477.0 170.9h0M386.9 162.1h0M421.2 159.6h0M490.7 212.0h0M377.3 165.0h0M498.6 232.8h0M381.5 171.5h0M550.8 162.5h0M408.1 165.4h0M396.7 170.7h0M374.4 165.7h0M455.8 116.6h0M458.3 168.9h0M542.7 172.1h0M566.0 174.0h0M395.9 165.6h0M428.3 169.6h0M546.6 165.3h0M424.9 170.1h0M425.9 175.8h0M429.5 167.9h0M522.3 188.7h0M495.8 222.2h0M453.3 122.1h0M496.6 220.1h0M455.4 114.4h0M427.7 168.0h0M462.5 180.0h0M537.2 196.5h0M611.6 175.7h0M386.2 166.3h0"/>
<path class="b" d="M403.1 154.1h0M447.5 175.3h0M389.5 152.7h0M398.9 155.0h0M484.0 130.5h0M384.6 154.0h0M444.6 161.4h0M519.1 141.1h0M546.7 141.6h0M453.2 147.4h0M403.0 158.1h0M388.1 155.4h0M385.6 154.0h0M543.7 164.7h0M454.7 118.9h0M400.7 152.6h0M396.8 140.5h0M485.4 128.0h0M389.9 155.2h0M589.8 156.4h0M379.5 158.3h0M405.3 141.6h0M486.0 127.2h0M512.0 177.0h0M438.0 120.7h0M399.8 153.3h0M447.9 162.1h0M575.5 131.5h0M400.2 151.3h0M483.8 168.1h0"/>
<path class="g" d="M492.9 190.9h0M493.0 184.5h0M496.2 198.1h0M457.1 115.6h0M498.5 214.9h0M405.3 171.8h0M409.0 159.4h0M467.5 160.4h0M503.9 206.6h0M492.5 182.1h0M427.1 166.4h0M423.1 165.8h0M426.9 169.5h0M513.4 158.4h0M583.1 171.3h0M403.6 169.3h0M494.9 183.8h0M498.9 222.2h0M493.6 213.0h0M506.1 166.2h0M456.1 122.8h0M497.9 229.7h0M402.3 156.4h0M490.4 164.5h0M424.3 164.9h0M606.1 172.8h0M587.8 172.5h0M497.2 182.4h0M495.1 147.1h0M408.1 162.6h0M430.4 165.7h0M500.7 168.7h0M390.1 170.6h0M496.3 177.0h0M507.1 170.0h0M504.5 210.7h0M602.0 173.4h0M400.7 170.3h0M389.9 173.9h0M492.3 194.2h0M595.6 171.8h0M568.3 173.6h0M377.5 162.2h0M404.1 165.0h0M494.8 178.3h0M499.0 164.6h0M613.6 174.3h0M528.4 164.2h0M493.9 185.8h0M372.8 172.3h0M481.6 182.1h0M493.5 211.2h0M586.0 169.0h0M602.0 169.8h0M402.4 154.9h0M414.3 159.5h0M423.4 165.0h0M450.8 162.6h0M498.1 185.5h0M497.1 182.7h0M495.9 182.4h0M608.5 172.9h0M397.8 170.5h0M579.2 174.8h0M420.4 160.6h0M508.2 160.6h0M615.6 175.5h0M607.7 173.4h0M537.3 155.8h0M416.4 183.0h0M376.9 164.5h0M495.6 168.4h0M462.9 167.7h0M450.8 120.2h0M496.4 197.9h0M568.7 171.4h0M498.0 229.5h0M500.6 185.3h0M428.5 168.8h0M494.5 212.2h0M390.1 164.3h0M613.7 175.7h0M497.8 214.0h0M404.0 132.5h0M499.6 217.9h0M503.0 191.5h0M392.3 171.8h0M400.8 167.3h0M598.7 170.5h0M592.7 170.5h0M426.5 168.0h0M451.7 160.2h0M404.0 173.9h0M575.3 167.5h0M418.8 168.7h0M394.2 170.5h0M431.4 166.7h0M553.1 166.6h0M563.0 195.2h0M395.2 161.4h0M569.8 170.0h0M493.2 208.6h0M376.5 167.8h0M493.6 235.5h0M462.6 148.5h0M412.1 170.2h0M416.0 163.5h0M498.3 218.0h0M426.0 161.8h0M412.0 172.4h0M559.7 163.4h0M565.3 168.6h0M392.2 159.3h0M497.3 193.5h0M503.6 166.8h0M408.8 178.6h0M403.1 174.0h0M429.3 166.9h0M437.4 156.3h0M416.6 176.0h0M613.9 174.7h0M420.0 171.4h0M504.6 223.1h0M594.5 168.9h0M390.0 171.6h0M574.1 169.8h0M580.3 165.2h0M595.6 172.3h0M390.9 168.8h0M501.0 223.0h0M493.1 169.6h0M498.3 194.0h0M492.3 189.2h0M523.6 162.0h0M396.9 164.9h0M492.0 85.0h0M373.7 161.6h0M501.7 214.2h0M383.6 159.2h0M419.3 168.1h0M419.8 165.2h0M590.5 169.0h0M558.1 168.9h0M504.5 172.3h0M493.4 212.3h0"/>
<path class="b" d="M460.4 161.4h0M585.1 160.5h0M591.3 155.0h0M567.6 157.3h0M393.3 154.0h0M559.2 151.0h0M385.5 155.6h0M593.8 155.7h0M484.0 132.0h0M377.3 156.2h0M476.1 169.8h0M451.2 164.4h0M379.9 154.9h0M586.2 157.7h0M402.3 149.9h0M590.8 153.2h0M465.2 153.6h0M598.2 155.2h0M461.8 142.8h0M460.9 162.8h0M413.0 159.8h0M389.3 153.2h0M533.0 129.0h0M462.3 163.4h0M458.5 153.5h0M505.2 159.2h0M590.2 158.3h0M478.3 131.7h0M481.6 168.8h0"/>
<path class="g" d="M427.6 162.5h0M496.1 207.9h0M589.8 170.5h0M574.2 166.4h0M596.4 169.8h0M451.3 177.2h0M553.6 166.3h0M493.9 170.8h0M598.2 171.3h0M420.6 166.7h0M418.8 159.5h0M493.6 224.2h0M558.2 161.6h0M501.4 154.7h0M494.3 207.0h0M492.4 195.4h0M494.9 194.4h0M450.3 174.5h0M497.6 197.2h0M386.3 170.6h0M504.1 181.3h0M437.8 184.1h0M536.1 156.0h0M501.1 213.8h0M387.0 162.1h0M452.2 119.6h0M420.9 154.2h0M505.1 169.7h0M497.4 184.7h0M485.3 176.2h0M602.8 173.4h0M495.0 182.5h0M494.0 105.0h0M417.8 171.4h0M470.9 176.9h0M568.1 169.6h0M453.9 115.8h0M393.7 162.3h0M439.4 171.5h0M399.8 166.3h0M422.0 169.2h0M505.5 223.2h0M480.9 180.8h0M499.0 182.1h0M561.0 164.8h0M427.8 159.6h0M410.3 166.1h0M505.2 180.0h0M499.7 196.1h0M505.2 176.6h0M489.2 179.4h0M424.0 168.3h0M427.2 179.0h0M420.3 175.0h0M614.6 174.5h0M426.3 168.7h0M567.7 193.8h0M532.4 175.2h0M495.0 218.2h0M384.2 169.4h0M454.0 119.5h0M451.1 160.5h0M380.2 160.8h0M581.2 171.4h0M541.8 164.4h0M393.5 169.9h0M408.1 160.6h0M576.9 172.9h0M407.9 182.0h0M584.7 172.8h0M580.1 169.9h0M424.1 165.6h0M494.3 193.9h0M518.9 162.3h0M496.3 198.3h0M541.2 175.9h0M479.7 168.2h0M548.7 165.4h0M384.1 167.2h0M418.6 172.2h0M401.5 171.5h0M392.4 159.9h0M431.1 170.2h0M457.0 122.4h0M481.0 207.0h0M412.0 134.0h0M399.1 162.8h0M535.9 185.2h0M406.8 159.6h0M558.9 191.6h0M456.5 116.2h0M463.9 157.7h0M384.3 161.8h0M544.4 175.4h0M577.0 164.5h0M506.5 166.3h0M425.7 171.2h0M511.1 174.3h0M451.5 183.1h0M490.1 217.2h0M392.1 174.7h0M471.0 163.5h0M431.5 167.8h0M426.2 171.4h0M496.3 224.3h0M523.6 150.0h0M491.3 182.4h0M493.7 193.0h0M419.8 170.7h0M514.1 168.2h0M424.8 173.5h0M409.8 165.2h0M379.8 165.9h0M458.3 183.0h0M498.7 209.4h0M465.2 117.9h0M606.2 173.5h0M491.4 222.1h0M426.0 166.1h0M553.3 160.9h0M410.0 132.8h0M537.9 174.8h0M414.1 164.5h0M506.8 145.6h0M579.9 171.1h0M377.0 159.1h0M409.6 163.9h0M404.3 159.2h0M478.8 165.0h0M469.8 159.5h0M480.6 195.6h0M439.1 164.1h0M448.8 170.8h0M582.3 171.2h0M494.0 232.6h0"/>
<path class="b" d="M448.5 161.8h0M463.3 148.4h0M444.2 151.1h0M430.7 161.1h0M464.9 164.0h0M499.7 135.5h0M536.7 170.7h0M448.4 152.3h0M409.1 157.1h0M485.1 153.5h0M458.9 139.5h0M446.7 151.4h0M590.2 157.7h0M468.2 150.1h0M539.7 169.4h0M394.1 157.1h0M555.7 147.1h0M595.8 156.4h0M428.6 150.0h0M412.3 132.8h0M418.7 150.0h0M547.0 169.7h0M465.3 149.1h0M556.7 161.3h0M510.0 125.0h0M563.1 158.0h0M587.2 156.1h0M517.6 165.4h0M487.0 129.5h0M568.0 137.6h0M526.4 169.1h0M599.9 155.1h0M557.0 149.8h0M493.2 133.5h0M543.6 164.0h0M385.3 158.3h0M451.3 147.5h0M514.0 127.5h0M394.7 151.1h0"/>
<path class="g" d="M417.9 163.4h0M430.0 169.2h0M517.1 157.1h0M552.2 168.1h0M593.8 168.4h0M500.4 198.3h0M380.3 162.7h0M413.2 159.5h0M495.6 184.3h0M521.9 149.9h0M435.8 167.0h0M495.0 229.9h0M498.7 218.2h0M510.1 180.8h0M468.7 166.9h0M455.2 115.0h0M395.2 167.6h0M498.6 222.8h0M425.5 159.8h0M423.1 175.8h0M557.4 165.5h0M402.6 161.4h0M460.8 120.2h0M494.3 191.6h0M463.0 180.2h0M533.6 189.7h0M406.1 159.4h0M495.8 212.3h0M388.0 167.6h0M497.0 195.5h0M614.1 174.5h0M500.9 156.7h0M548.9 185.5h0M492.3 154.9h0M459.1 120.7h0M431.2 174.0h0M575.9 172.2h0M506.8 171.1h0M613.4 174.3h0M415.5 169.4h0M559.3 169.6h0M425.6 163.3h0M585.6 168.4h0M424.1 163.5h0M397.4 167.6h0M443.0 208.0h0M489.2 195.2h0M510.9 161.4h0M415.0 168.2h0M506.1 162.5h0M378.5 163.4h0M496.1 234.8h0M396.0 171.3h0M602.7 172.6h0M378.4 162.3h0M375.7 168.7h0M400.0 166.9h0M497.3 212.5h0M482.0 172.7h0M525.7 171.9h0M546.5 157.8h0M554.1 170.3h0M412.2 166.9h0M556.7 166.4h0M446.6 179.5h0M387.8 170.2h0M412.2 180.2h0M529.8 180.9h0M494.6 179.0h0M380.3 165.5h0M463.3 177.4h0M497.0 217.1h0M495.0 207.7h0M545.1 165.7h0M372.6 165.3h0M603.0 172.5h0M556.4 177.7h0M569.6 173.0h0M495.3 208.8h0M442.0 178.7h0M564.4 194.9h0M574.4 168.6h0M408.1 159.4h0M484.6 168.5h0M518.2 163.2h0M493.5 229.3h0M577.6 174.8h0M497.1 202.3h0M501.4 178.7h0M541.2 181.7h0M404.3 169.4h0M536.9 162.5h0M488.9 192.1h0M558.6 161.3h0M567.4 166.4h0M565.0 166.8h0M561.4 169.0h0M489.4 198.2h0M381.9 169.4h0M406.9 170.9h0M426.2 165.9h0M401.1 167.0h0M428.2 168.4h0M557.4 166.7h0M386.2 170.5h0M499.5 138.0h0M500.3 204.2h0M389.4 168.7h0M459.8 119.4h0M439.8 160.4h0M409.0 168.5h0M584.2 170.1h0M503.8 153.7h0M503.0 209.6h0M454.3 113.3h0M518.5 164.7h0M496.4 202.7h0M398.8 164.6h0M432.3 170.2h0M381.1 167.0h0M614.1 173.2h0M527.7 165.0h0M503.3 208.2h0M608.4 173.1h0M496.8 196.1h0M465.9 172.3h0M579.1 167.0h0M563.3 166.5h0M478.7 161.0h0M452.8 164.4h0M556.8 166.3h0M499.5 216.3h0M595.9 170.0h0M389.3 166.2h0M431.1 166.5h0M412.8 180.2h0M557.1 166.6h0M379.9 165.0h0M418.4 147.1h0M526.5 172.3h0M452.6 115.8h0M539.2 157.8h0M548.9 169.9h0M505.8 223.6h0M500.8 230.1h0M568.4 174.6h0M437.1 161.9h0M519.5 167.9h0M432.4 154.7h0M533.2 174.8h0M488.1 176.7h0"/>
<path class="b" d="M506.0 133.8h0M461.9 149.8h0M490.5 161.6h0M476.9 134.2h0M527.6 169.2h0M499.8 171.1h0M501.4 134.0h0M467.0 88.0h0M446.8 146.9h0M390.7 153.6h0M433.8 149.5h0M514.1 137.7h0M403.8 156.9h0M588.4 160.1h0M532.2 144.8h0M582.4 157.7h0M514.9 137.2h0M497.3 128.9h0M490.0 94.0h0M383.0 156.6h0M466.3 153.9h0M398.5 155.3h0M439.3 148.8h0"/>
<path class="g" d="M584.4 172.1h0M494.9 221.3h0M513.3 164.8h0M375.5 167.6h0M494.1 177.0h0M561.0 170.4h0M495.3 213.4h0M499.0 199.8h0M462.8 168.4h0M396.8 173.1h0M457.2 167.9h0M391.2 162.0h0M461.6 113.7h0M512.7 176.7h0M391.3 166.1h0M492.5 171.9h0M586.8 168.2h0M490.5 182.8h0M571.4 166.2h0M396.4 172.8h0M497.6 214.9h0M393.0 166.1h0M529.5 163.2h0M489.2 185.8h0M497.9 185.2h0M491.7 214.7h0M500.4 224.9h0M452.8 183.2h0M479.2 160.4h0M500.2 217.7h0M403.7 177.1h0M447.1 167.3h0M406.1 162.4h0M437.7 162.1h0M495.6 225.2h0M484.5 172.1h0M601.0 175.2h0M502.2 218.1h0M579.8 165.6h0M497.0 217.5h0M478.0 158.3h0M568.0 188.1h0M417.6 176.0h0M429.9 183.3h0M412.2 171.5h0M394.2 159.3h0M501.2 204.0h0M551.7 165.4h0M435.3 171.8h0M495.5 197.7h0M497.0 206.9h0M609.6 175.6h0M441.7 178.5h0M498.1 196.7h0M557.1 167.4h0M422.4 167.2h0M383.3 161.8h0M591.3 172.0h0M419.4 182.5h0M502.1 168.5h0M492.3 206.2h0M451.4 118.1h0M498.0 165.0h0M439.8 179.9h0M535.5 158.7h0M465.8 174.8h0M587.6 171.7h0M380.1 170.9h0M491.2 186.3h0M498.3 177.9h0M390.9 169.2h0M416.4 171.2h0M451.8 118.1h0M392.1 173.5h0M527.4 156.4h0M498.9 192.0h0M501.4 231.4h0M498.0 236.9h0M490.5 154.1h0M545.8 177.3h0M405.6 168.8h0M458.1 114.8h0M389.8 167.2h0M477.9 160.3h0M431.0 184.2h0M506.0 171.0h0M496.3 210.7h0M495.5 207.6h0M427.8 166.1h0M397.4 169.8h0M501.1 227.7h0M402.2 165.6h0M497.2 231.4h0M396.8 159.3h0M493.2 185.8h0M421.8 154.7h0M424.6 173.3h0M492.1 206.8h0M555.4 172.9h0M515.7 156.0h0M593.1 171.1h0M380.5 162.5h0M526.3 152.8h0M610.6 173.9h0M517.3 177.6h0M496.6 212.1h0M607.4 172.6h0M420.1 169.7h0M475.0 176.2h0M488.9 191.5h0M494.5 220.2h0M501.2 192.6h0M595.7 171.0h0M497.3 210.0h0M544.3 172.6h0M412.2 166.4h0M489.8 224.8h0M470.4 160.3h0M399.1 165.9h0M493.8 190.9h0M499.3 218.9h0M420.4 174.6h0M469.9 156.9h0M440.9 181.2h0M493.0 225.1h0M530.5 165.7h0M499.6 225.9h0M454.6 118.1h0M499.3 193.4h0M373.0 173.9h0M607.8 173.5h0M434.8 156.3h0M518.0 157.1h0M496.7 189.7h0M533.5 171.5h0M381.2 167.7h0M569.2 194.9h0M405.0 170.0h0M428.9 169.5h0M495.4 219.5h0M526.4 190.1h0M580.0 174.9h0M571.4 169.2h0M503.6 179.7h0M491.4 201.6h0M497.2 170.1h0M492.7 213.6h0M511.5 172.5h0M466.8 165.7h0M398.8 162.5h0"/>
<path class="b" d="M491.5 124.9h0M380.5 156.0h0M473.2 160.4h0M397.7 157.3h0M548.3 163.8h0M491.0 70.0h0M392.9 153.8h0M552.8 146.7h0M445.7 129.1h0M481.3 158.6h0M459.0 119.9h0M568.3 156.4h0M454.2 158.0h0M386.3 152.2h0M458.0 109.0h0M530.9 140.4h0M381.8 157.5h0M399.3 154.4h0M545.3 171.6h0M548.7 165.4h0M394.0 155.3h0M579.1 154.0h0M386.7 150.9h0M441.6 158.1h0"/>
<path class="g" d="M423.5 169.3h0M481.7 178.1h0M394.0 173.4h0M541.5 173.7h0M447.1 170.6h0M410.8 168.5h0M493.2 180.5h0M493.3 216.8h0M496.0 187.1h0M397.9 170.8h0M498.4 191.6h0M497.0 231.1h0M502.1 187.1h0M396.6 170.2h0M528.4 171.7h0M472.6 174.1h0M494.3 178.8h0M455.4 168.9h0M499.9 221.9h0M409.2 163.0h0M404.7 168.4h0M408.1 173.2h0M417.7 173.5h0M597.0 173.5h0M477.2 166.9h0M375.8 169.5h0M373.4 162.3h0M497.8 225.9h0M389.7 171.6h0M393.8 163.3h0M501.9 156.7h0M611.0 173.0h0M569.6 184.9h0M501.8 183.4h0M413.5 165.7h0M571.7 171.1h0M557.0 163.1h0M500.8 193.0h0M516.8 165.6h0M450.0 154.1h0M566.2 168.5h0M499.6 189.0h0M419.1 170.2h0M495.2 215.3h0M421.1 167.0h0M492.3 166.2h0M552.8 160.5h0M497.7 205.2h0M499.6 211.7h0M580.2 167.7h0M558.8 167.8h0M425.2 163.5h0M373.9 163.8h0M398.6 170.3h0M516.9 168.9h0M555.3 171.5h0M375.1 159.7h0M494.6 136.1h0M407.7 171.1h0M490.0 146.0h0M586.6 173.2h0M522.0 168.5h0M388.6 162.8h0M533.9 160.7h0M474.2 164.0h0M493.1 175.1h0M385.1 168.5h0M497.7 226.5h0M459.6 180.6h0M497.4 229.0h0M581.9 171.9h0M402.7 164.9h0M588.5 172.4h0M492.5 199.3h0M514.7 161.0h0M605.6 173.3h0M583.7 169.3h0M407.8 169.3h0M493.8 196.9h0M546.4 189.2h0M491.8 161.3h0M431.7 184.5h0M592.2 170.6h0M558.9 172.9h0M496.6 201.6h0M449.6 161.2h0M395.1 167.5h0M476.0 159.7h0M598.3 173.6h0M494.6 154.6h0M457.2 161.2h0M495.4 220.6h0M458.0 118.6h0M373.5 165.0h0M450.7 160.3h0M498.1 190.0h0M572.1 165.9h0M489.7 164.5h0M497.8 222.1h0M584.6 169.7h0M393.6 168.2h0M466.1 174.8h0M475.1 180.3h0M580.5 165.2h0M508.3 182.1h0M474.7 154.5h0M380.2 168.8h0M484.9 176.2h0M503.6 185.1h0M499.1 191.8h0M405.0 165.2h0M498.9 197.5h0M483.4 156.4h0M498.7 203.9h0M557.8 156.1h0M496.6 212.5h0M464.9 168.4h0M587.9 172.0h0M395.0 166.7h0M489.1 188.0h0M495.3 214.7h0M605.1 172.5h0M466.3 197.0h0M488.2 184.2h0M491.7 210.8h0M548.1 161.8h0M377.7 169.0h0M414.5 160.3h0M429.5 168.5h0M539.2 188.5h0"/>
<path class="b" d="M575.3 154.7h0M385.3 150.4h0M582.3 155.7h0M440.3 165.5h0M421.5 158.6h0M418.0 145.3h0M546.0 168.5h0M382.8 154.4h0M378.3 153.4h0M507.7 164.9h0M558.8 176.2h0M475.1 161.4h0M480.2 170.8h0M416.8 161.5h0M376.5 154.2h0M484.8 123.5h0M408.8 153.9h0M415.2 153.8h0M587.8 151.6h0M535.0 157.6h0M553.3 155.7h0M463.4 150.8h0M540.1 169.4h0M461.3 153.3h0M490.4 147.6h0M388.4 154.6h0M465.4 169.7h0M403.7 138.6h0M388.4 141.9h0M378.7 150.6h0M437.2 154.6h0"/>
<path class="r" d="M714.8 112.9h0M794.5 79.8h0M736.8 101.8h0M725.7 105.1h0M815.5 87.3h0M809.9 95.1h0M768.3 88.6h0M771.2 74.4h0M753.1 82.4h0M757.1 53.0h0M775.7 61.2h0M780.1 44.9h0M813.5 85.2h0M808.8 86.6h0M780.5 98.1h0M738.4 103.4h0M786.4 83.2h0M770.9 51.0h0M772.5 71.5h0M727.0 109.7h0M835.8 104.2h0M772.2 36.0h0M750.6 111.9h0M725.7 115.4h0M758.9 98.9h0M758.8 57.5h0M769.2 52.7h0M762.6 78.7h0M780.7 81.6h0M768.2 51.9h0M789.5 84.6h0M747.3 105.2h0M787.9 102.7h0M768.2 87.3h0M815.6 100.9h0M752.3 100.4h0M781.5 57.6h0M749.2 87.2h0M767.3 70.2h0M888.0 142.0h0M817.3 100.7h0M853.5 115.8h0M819.0 99.3h0M758.1 104.9h0M766.2 71.9h0M788.6 68.3h0M797.8 84.6h0M722.4 97.4h0M806.3 79.7h0M827.5 104.3h0M770.4 70.0h0M768.7 89.0h0M774.1 36.9h0M757.3 111.5h0M789.6 69.8h0M775.2 81.6h0M760.9 65.5h0M847.8 96.6h0M786.3 94.8h0M793.2 77.3h0M768.0 35.0h0M779.1 54.8h0M756.6 97.4h0M754.7 86.3h0M743.5 98.4h0M783.9 75.3h0M788.6 77.0h0M796.6 55.8h0M723.3 115.6h0M822.8 96.3h0M766.6 94.6h0M777.4 54.7h0M760.7 99.7h0M797.6 77.9h0M758.1 95.3h0M797.6 85.7h0M760.3 104.8h0M734.2 110.1h0M806.3 85.7h0M723.7 97.3h0M742.3 104.5h0M787.5 85.8h0M752.0 119.0h0M774.2 66.0h0M756.2 56.2h0M783.5 95.0h0M794.2 76.6h0M759.9 92.1h0M770.0 41.0h0M749.7 113.4h0M753.6 73.6h0M837.4 100.3h0M803.2 91.8h0M776.0 44.8h0M785.2 96.6h0M759.9 103.6h0M801.9 90.7h0M782.7 66.2h0M798.0 95.2h0M789.2 101.9h0M764.9 102.0h0M776.8 77.3h0M741.0 121.0h0M781.8 99.1h0M769.4 99.0h0M813.8 94.3h0M743.2 85.4h0M761.3 68.8h0M771.9 107.8h0M823.5 102.6h0M798.5 84.0h0M765.0 44.0h0M803.0 112.0h0M774.5 61.3h0M834.0 93.3h0M766.9 77.0h0M751.5 100.5h0M787.3 89.9h0M767.1 100.5h0M753.0 95.0h0M784.6 58.2h0M731.6 96.6h0M773.9 56.6h0M804.4 99.3h0M768.0 48.6h0M831.1 104.9h0M781.2 83.8h0M758.8 71.6h0M780.1 57.1h0M758.5 77.5h0M733.2 107.2h0M757.6 79.5h0M765.0 66.3h0M761.3 47.4h0M800.0 105.0h0"/>
<path class="r" d="M771.9 85.7h0M758.0 79.6h0M841.8 103.7h0M780.2 71.0h0M764.6 100.7h0M788.5 72.8h0M756.2 70.7h0M755.3 40.7h0M772.0 37.0h0M749.9 99.6h0M775.8 42.0h0M757.2 100.9h0M774.7 95.8h0M746.6 84.9h0M792.7 44.9h0M744.0 115.0h0M766.4 83.0h0M762.9 77.2h0M790.4 44.4h0M774.8 75.2h0M771.7 58.1h0M767.7 91.3h0M712.4 69.5h0M767.8 59.2h0M802.1 76.6h0M750.4 108.0h0M758.1 82.3h0M825.4 96.2h0M763.0 29.0h0M753.2 111.6h0M781.3 96.5h0M752.9 72.6h0M783.3 55.1h0M784.9 99.6h0M764.8 83.3h0M766.6 99.7h0M768.1 52.2h0M756.0 94.8h0M765.4 79.5h0M821.4 98.9h0M775.6 66.1h0M758.2 76.9h0M776.7 94.1h0M735.0 103.0h0M742.5 103.0h0M775.5 63.3h0M733.5 99.5h0M825.2 100.9h0M787.0 78.7h0M756.1 111.3h0M780.5 46.9h0M791.1 55.6h0M764.4 72.8h0M743.2 85.4h0M729.2 121.5h0M723.6 107.9h0"/>
<path class="g" d="M714.6 216.4h0M774.1 199.4h0M918.6 172.7h0M924.8 173.2h0M856.5 159.7h0M816.9 114.4h0M873.7 159.3h0M892.8 169.5h0M842.5 164.2h0M703.7 199.0h0M770.3 194.4h0M717.4 217.3h0M787.8 178.3h0M714.2 185.3h0M685.4 205.4h0M854.8 166.7h0M741.2 204.5h0M827.6 151.2h0M685.7 202.6h0M919.0 170.7h0M856.5 161.3h0M867.1 162.4h0M854.2 157.6h0M891.8 168.5h0M709.9 222.4h0M819.0 161.9h0M823.7 160.6h0M829.3 151.2h0M838.0 193.0h0M773.9 176.2h0M902.6 170.1h0M879.1 160.3h0M720.5 196.7h0M873.4 171.6h0M900.7 171.3h0M871.0 171.7h0M724.3 206.0h0M833.5 161.1h0M819.3 161.7h0M899.1 166.0h0M812.1 172.9h0M731.6 216.5h0M709.5 177.0h0M879.3 160.4h0M845.9 169.4h0M844.1 162.1h0M824.2 160.7h0M909.9 174.2h0M856.6 157.9h0M712.0 220.7h0M702.2 199.8h0M748.8 169.6h0M725.5 191.8h0M817.7 114.7h0M707.3 182.1h0M847.6 169.3h0M702.7 227.7h0M798.1 186.5h0M859.0 175.7h0M802.1 179.0h0M827.0 178.2h0M705.9 230.5h0M798.5 172.1h0M898.3 167.4h0M775.0 140.0h0M707.2 188.3h0M718.0 168.0h0"/>
<path class="b" d="M878.7 154.8h0M865.3 151.6h0M850.4 139.6h0M895.0 152.6h0M817.7 110.2h0M843.2 133.2h0M828.4 125.8h0M867.2 149.8h0M874.0 142.0h0M898.9 152.6h0M857.9 138.8h0M884.0 151.3h0"/>
<path class="r" d="M829.3 102.7h0M763.3 100.2h0M820.9 97.5h0M772.0 79.3h0M765.9 82.8h0M770.3 68.1h0M741.5 101.9h0M764.7 97.8h0M736.2 103.2h0M823.5 99.7h0M743.1 107.3h0M774.0 62.5h0M768.2 93.0h0M785.8 76.9h0M787.3 58.4h0M778.6 73.7h0M785.4 72.6h0M854.9 95.5h0M740.8 106.5h0M763.6 67.3h0M767.5 102.1h0M737.3 106.1h0M755.1 74.2h0M747.0 124.6h0M724.7 109.4h0M759.6 74.9h0M753.2 89.7h0"/>
<path class="g" d="M821.4 158.1h0M782.0 130.0h0M818.1 167.7h0M750.5 136.3h0M824.5 117.1h0M893.9 167.5h0M792.4 186.8h0M793.5 181.5h0M904.0 175.4h0M805.6 164.2h0M749.6 209.1h0M809.1 181.1h0M868.9 169.6h0M709.9 203.9h0M762.9 166.7h0M765.3 191.1h0M707.6 198.2h0M731.1 200.5h0M869.0 174.4h0M873.5 166.9h0M876.6 173.1h0M736.4 201.3h0M746.8 215.7h0M750.3 182.0h0M838.8 155.1h0M827.8 116.0h0M845.6 165.9h0M782.2 185.8h0M836.0 172.9h0M852.3 173.1h0M913.9 168.4h0M738.9 192.7h0M769.0 93.0h0M723.4 226.0h0M727.5 215.1h0M716.2 226.3h0M741.1 187.0h0M715.0 216.8h0M854.0 163.5h0M741.5 167.8h0M717.4 182.2h0M822.2 121.0h0M754.6 174.2h0M844.2 158.4h0M820.6 116.0h0M901.1 174.0h0M914.2 170.0h0M824.6 161.3h0M839.0 168.6h0M915.7 171.2h0M822.3 161.4h0M849.8 172.3h0M906.3 175.3h0M810.2 172.5h0M870.6 165.3h0M916.6 171.6h0M756.5 165.5h0M885.9 167.8h0M713.7 188.0h0M707.3 191.6h0M808.9 186.0h0M767.6 168.9h0M885.0 165.7h0M909.9 176.5h0M901.5 169.7h0M820.2 117.3h0M736.1 210.3h0M881.8 160.8h0M824.0 191.0h0M887.8 169.3h0M816.5 155.6h0M786.6 182.5h0M842.6 163.5h0M840.8 172.7h0M829.1 153.4h0M889.7 169.8h0M842.6 162.6h0M722.2 222.6h0M822.6 152.9h0M889.3 168.8h0"/>
<path class="b" d="M818.1 104.8h0M900.9 149.0h0M725.0 196.0h0M851.6 158.5h0M827.3 117.1h0M834.9 164.0h0M837.8 131.8h0M891.0 155.0h0M833.7 135.2h0M911.4 156.1h0M875.6 159.5h0M797.6 165.7h0M879.7 151.6h0M818.2 141.5h0M811.8 169.0h0M796.6 150.9h0M814.3 126.2h0M812.6 125.5h0M908.1 158.0h0M866.6 141.9h0M849.1 151.5h0M812.3 137.4h0M810.0 130.8h0M822.0 159.6h0M813.7 138.6h0M839.9 157.0h0M917.2 159.8h0M866.2 151.4h0"/>
<path class="r" d="M781.2 64.7h0M809.9 96.3h0M798.4 83.4h0M748.9 103.2h0M782.0 44.7h0M789.6 84.0h0M734.4 105.1h0M790.1 72.9h0M790.5 100.9h0M834.9 105.2h0M753.4 99.9h0M777.9 57.4h0M805.5 89.9h0M749.3 102.0h0M810.7 85.9h0M754.5 95.6h0M742.5 103.2h0M789.4 84.0h0M750.9 104.4h0"/>
<path class="g" d="M741.6 208.3h0M813.4 174.5h0M863.7 165.6h0M861.2 169.5h0M766.1 185.8h0M699.4 183.8h0M800.2 178.0h0M849.8 163.3h0M803.7 170.6h0M884.4 166.8h0M890.1 174.3h0M859.0 163.5h0M791.1 174.3h0M802.3 168.1h0M801.3 172.9h0M865.8 168.1h0M845.0 175.3h0M842.0 156.5h0M850.5 167.5h0M896.0 168.5h0M842.0 175.5h0M704.0 225.7h0M822.6 120.2h0M902.4 169.1h0M745.2 188.3h0M846.3 166.2h0M898.0 168.5h0M898.5 169.6h0M749.7 201.9h0M834.7 152.4h0M874.3 168.8h0M823.8 169.1h0M902.3 171.0h0M728.5 214.7h0M765.2 179.7h0M906.3 166.6h0M743.6 145.8h0M849.4 168.1h0M827.5 153.8h0M886.0 167.5h0M845.5 168.4h0M887.8 165.1h0M893.6 165.5h0M908.4 171.0h0M737.5 219.8h0M911.9 172.1h0M883.8 175.3h0M837.8 171.9h0M712.5 178.3h0M848.6 168.9h0M845.1 154.1h0M778.8 168.1h0M717.5 190.0h0M885.1 170.0h0M883.6 173.6h0M824.7 161.2h0M841.5 155.6h0M821.6 120.5h0M735.9 203.7h0M716.5 217.4h0M854.8 166.9h0M766.9 192.8h0M818.0 152.0h0M850.9 168.3h0M812.3 174.9h0M704.2 206.2h0M819.6 168.9h0M736.9 220.0h0M880.0 165.5h0M922.1 174.0h0M761.1 193.6h0M907.2 171.3h0M710.5 186.9h0M809.9 165.8h0M824.5 119.5h0M830.6 172.1h0M858.5 161.0h0M752.6 145.1h0M855.8 158.6h0M864.3 163.0h0M812.9 162.2h0M902.8 169.5h0M788.2 184.0h0M882.6 168.0h0M850.5 175.6h0M758.0 184.7h0"/>
<path class="b" d="M767.0 70.0h0M890.4 149.2h0M768.0 155.7h0M828.1 157.3h0M819.1 139.8h0M825.8 115.9h0M871.2 141.0h0M800.0 120.0h0M808.6 164.2h0M903.9 154.1h0M890.3 151.7h0M870.0 155.1h0M874.7 151.5h0M901.3 158.9h0M760.0 149.3h0M796.1 140.2h0M915.2 158.4h0M800.1 172.4h0M874.1 159.4h0M917.0 159.1h0M825.1 157.9h0M819.5 166.2h0M824.8 133.6h0M729.0 197.0h0M873.6 145.1h0M783.0 90.0h0M862.5 156.1h0M858.8 151.8h0M792.0 88.0h0M883.1 155.0h0"/>
<path class="r" d="M774.0 45.0h0M835.5 105.4h0M728.2 121.2h0M775.1 36.0h0M763.5 90.6h0M765.0 95.2h0M782.2 69.4h0M775.0 64.9h0M771.0 30.0h0M734.7 104.7h0M786.3 63.5h0M726.8 104.8h0M726.5 128.0h0M779.0 78.6h0M768.6 50.2h0M723.1 107.1h0M741.4 99.5h0M769.2 83.3h0M797.5 83.6h0M814.5 92.3h0M812.5 94.0h0M836.4 100.2h0M784.5 73.5h0M789.4 76.3h0M746.6 114.5h0M805.2 94.8h0M750.4 93.0h0M805.0 85.9h0M790.6 78.7h0M723.5 111.6h0M780.6 42.1h0M797.6 81.1h0"/>
<path class="g" d="M725.4 221.4h0M863.5 166.7h0M845.7 164.8h0M779.8 190.8h0M899.9 170.4h0M718.9 190.5h0M897.0 173.8h0M891.7 166.8h0M839.0 166.8h0M881.4 165.3h0M748.4 180.8h0M784.5 173.7h0M709.4 189.4h0M789.0 170.6h0M884.5 172.7h0M748.5 182.4h0M845.6 163.9h0M903.2 170.3h0M706.7 198.8h0M712.5 188.4h0M920.6 173.8h0M713.1 190.1h0M807.8 185.3h0M862.2 163.2h0M900.4 171.1h0M744.5 143.8h0M843.6 169.6h0M854.0 164.6h0M822.0 161.7h0M877.0 169.1h0M916.4 172.5h0M736.8 203.2h0M720.6 183.9h0M898.3 174.6h0M820.9 154.2h0M858.1 164.6h0M902.5 170.8h0M820.0 198.0h0M742.4 202.1h0M817.2 154.4h0M834.9 157.9h0M710.3 226.4h0M839.4 161.2h0M835.7 171.1h0M711.8 199.8h0M720.9 190.7h0M803.5 192.6h0M725.8 213.3h0M879.8 163.0h0M921.3 172.9h0M852.7 174.1h0M859.0 186.0h0M746.9 195.1h0M702.3 201.4h0M721.9 221.1h0M722.8 210.5h0M722.8 216.2h0M875.6 169.9h0M831.6 174.9h0M839.7 163.6h0M816.3 122.5h0M729.6 190.3h0M860.1 169.0h0M900.5 171.0h0M737.3 196.9h0M919.8 173.6h0M829.8 168.7h0M905.1 172.3h0M916.8 173.2h0M880.6 165.8h0M745.6 213.7h0M859.4 172.2h0M907.9 175.8h0M723.5 220.8h0M872.4 168.1h0M733.2 199.6h0M888.2 170.5h0M908.5 167.5h0M768.1 203.7h0"/>
<path class="b" d="M811.0 154.3h0M817.8 169.1h0M805.9 143.0h0M896.9 154.1h0M856.3 143.0h0M814.4 107.3h0M890.0 151.4h0M769.0 164.0h0M868.4 148.9h0M874.0 153.4h0M838.2 152.3h0M812.3 159.1h0M830.4 138.0h0M852.2 150.3h0M862.9 150.1h0M826.9 133.6h0M840.5 144.5h0M815.9 124.9h0M844.9 150.7h0M759.0 121.0h0M811.0 163.6h0M806.3 111.9h0M743.7 128.0h0M853.1 152.5h0"/>
<path class="r" d="M763.3 89.3h0M799.4 84.4h0M777.2 91.4h0M728.3 116.7h0M760.7 20.0h0M732.9 119.1h0M800.0 81.2h0M764.9 76.1h0M824.2 99.2h0M753.2 77.8h0M784.4 78.6h0M787.4 79.7h0M748.1 101.1h0M761.9 110.9h0M783.9 77.0h0M749.1 109.0h0M774.5 50.3h0M810.7 88.7h0M755.6 101.0h0M765.8 81.5h0M752.9 94.7h0"/>
<path class="g" d="M902.1 169.3h0M925.6 171.2h0M782.8 191.9h0M754.6 171.7h0M910.2 166.0h0M843.8 171.4h0M820.7 173.3h0M857.2 166.9h0M903.3 174.7h0M706.5 191.9h0M842.9 170.0h0M693.1 202.5h0M778.0 123.0h0M817.9 169.6h0M823.6 161.3h0M723.9 221.8h0M890.7 170.9h0M851.7 169.8h0M826.4 158.8h0M919.5 171.3h0M894.0 167.8h0M870.2 173.0h0M824.0 152.1h0M745.0 200.4h0M872.8 166.9h0M748.9 209.9h0M718.4 186.9h0M925.7 174.8h0M847.7 166.8h0M873.0 167.8h0M713.7 223.9h0M869.0 164.9h0M858.2 163.4h0M687.0 205.7h0M839.6 153.1h0M770.0 131.0h0M853.1 160.1h0M739.8 187.6h0M757.9 186.6h0M748.4 210.7h0M821.0 118.7h0M793.3 195.4h0M805.2 179.6h0M837.8 169.3h0M819.7 162.7h0M703.1 193.3h0M789.2 188.1h0M815.9 153.4h0M876.7 169.7h0M836.4 178.4h0M821.5 157.2h0M893.2 174.1h0M906.6 169.9h0M714.2 191.2h0M702.0 228.1h0M785.0 187.1h0M812.3 170.2h0M874.5 169.1h0M861.6 163.9h0M771.0 181.2h0M838.7 171.9h0M707.2 223.8h0M766.7 174.4h0M912.6 169.3h0M701.1 198.0h0M894.8 167.0h0M731.7 206.2h0M880.9 168.7h0M856.2 168.8h0M825.0 161.2h0M702.9 200.3h0M836.8 159.2h0M709.2 224.1h0M912.1 170.7h0M859.0 161.4h0M890.0 168.6h0M729.8 216.7h0M832.4 155.6h0M839.8 169.9h0M847.3 173.0h0M724.5 212.6h0M714.7 191.6h0M736.8 213.9h0M912.6 166.4h0M727.6 213.5h0M706.1 220.4h0M701.8 230.7h0M690.6 204.4h0M894.6 172.9h0"/>
<path class="b" d="M825.3 131.3h0M900.4 156.1h0M865.4 152.2h0M883.4 155.3h0M859.6 152.1h0M843.5 149.5h0M771.0 167.0h0M819.3 128.1h0M882.0 140.8h0M797.3 150.9h0M876.8 153.8h0M819.7 152.5h0M859.7 149.8h0M841.3 156.6h0M816.3 159.6h0M878.1 152.9h0M851.8 136.8h0M838.5 152.8h0M920.1 161.2h0M811.9 129.8h0M900.4 155.5h0M855.0 142.7h0M879.2 158.1h0M799.5 164.4h0M811.6 106.0h0"/>
<path class="r" d="M772.8 106.3h0M806.2 91.4h0M762.2 100.7h0M769.6 98.9h0M778.5 88.9h0M764.6 74.6h0M766.3 91.6h0M767.0 28.5h0M758.0 79.8h0M721.3 119.4h0M776.8 59.7h0M788.7 76.0h0M780.1 55.3h0M759.9 106.0h0M802.9 94.1h0M773.8 51.5h0M769.8 87.2h0M756.2 86.5h0M764.2 84.1h0M748.7 91.1h0M745.1 102.5h0M750.6 94.7h0M740.8 62.6h0M795.4 91.5h0M846.0 108.8h0M726.1 103.3h0M755.0 79.4h0"/>
<path class="g" d="M763.0 187.6h0M710.4 226.5h0M866.7 167.0h0M888.3 172.5h0M898.4 164.7h0M888.2 170.2h0M862.7 167.5h0M825.0 116.7h0M700.0 204.2h0M719.1 184.1h0M828.9 161.4h0M765.4 196.6h0M725.7 216.1h0M846.6 167.4h0M913.5 167.5h0M853.5 160.5h0M852.9 160.7h0M829.1 152.5h0M913.4 167.9h0M882.3 169.8h0M711.9 179.9h0M868.9 163.0h0M822.8 117.9h0M765.0 92.0h0M876.5 166.5h0M917.8 173.9h0M921.6 169.0h0M734.1 208.4h0M875.8 171.2h0M838.3 168.1h0M829.4 122.1h0M875.2 165.0h0M712.9 196.8h0M909.7 175.7h0M839.3 166.1h0M822.7 154.0h0M866.5 158.4h0M832.2 150.1h0M820.8 115.6h0M879.6 162.6h0M720.4 218.9h0M753.6 204.1h0M733.1 180.3h0M844.4 164.8h0M819.1 159.3h0M746.0 201.2h0M844.7 158.6h0M720.3 189.9h0M869.5 165.6h0M844.9 163.4h0M896.4 172.9h0M795.5 177.2h0M764.7 174.2h0M910.1 174.1h0M856.6 171.5h0M900.7 172.5h0M708.2 200.5h0M919.6 172.4h0M876.4 170.2h0M923.7 170.6h0M884.1 171.8h0M840.0 173.0h0M722.9 210.5h0M849.0 162.7h0M888.7 173.5h0M878.0 171.6h0M846.5 157.9h0M915.3 173.5h0M856.4 168.8h0M766.9 201.6h0M917.9 172.9h0M739.7 195.7h0M736.6 186.8h0M781.0 147.0h0M849.0 155.9h0M698.7 205.3h0M696.8 202.8h0M859.4 169.1h0M879.6 174.7h0M846.8 158.8h0M851.3 174.8h0M689.1 209.7h0M884.1 164.6h0M869.5 168.6h0M813.6 116.0h0M835.4 177.3h0M709.3 189.3h0M745.1 207.1h0"/>
<path class="b" d="M873.8 152.0h0M881.0 152.3h0M846.6 149.3h0M800.0 133.3h0M750.0 131.0h0M817.7 120.0h0M823.1 109.7h0M849.7 152.6h0M729.0 178.0h0M884.4 155.8h0M869.4 152.7h0M897.7 156.9h0M843.2 132.5h0M805.3 159.4h0M895.8 155.3h0M894.5 145.3h0M892.7 153.2h0M914.7 159.7h0M862.9 155.8h0M909.6 157.5h0"/>
<path class="r" d="M729.9 104.4h0M756.8 103.5h0M779.0 30.0h0M812.6 90.9h0M777.7 58.2h0M723.7 100.3h0M783.5 55.4h0M802.9 92.5h0M781.2 38.1h0M752.1 106.2h0M727.2 115.1h0M778.4 75.4h0M762.6 75.7h0M750.6 93.2h0M777.3 74.4h0M773.0 94.6h0M749.4 99.6h0M773.6 51.6h0M781.2 56.6h0M831.2 101.5h0M833.0 125.5h0M767.7 106.0h0M764.2 112.6h0M730.3 105.9h0M764.3 111.0h0M866.0 142.0h0M744.8 110.2h0M721.7 110.1h0M725.5 103.7h0"/>
<path class="g" d="M746.4 198.8h0M757.4 146.9h0M882.8 170.6h0M823.9 123.0h0M890.5 170.9h0M894.3 169.3h0M840.0 162.4h0M690.9 204.4h0M900.3 172.2h0M764.3 182.2h0M817.0 117.7h0M865.2 158.6h0M823.2 153.1h0M918.5 171.3h0M828.1 116.4h0M701.8 181.2h0M825.6 159.7h0M797.2 166.7h0M744.1 216.8h0M818.0 116.2h0M835.7 158.9h0M779.3 165.9h0M923.3 172.9h0M723.3 185.6h0M900.4 165.7h0M683.4 208.2h0M749.3 147.2h0M739.2 184.2h0M764.1 171.7h0M825.7 115.4h0M739.9 144.3h0M909.8 172.3h0M879.8 167.5h0M705.3 230.7h0M713.0 187.8h0M741.8 192.4h0M816.6 177.7h0M895.8 165.3h0M756.0 98.0h0M880.3 165.4h0M871.3 160.9h0M705.6 197.7h0M707.6 226.4h0M884.1 171.5h0M722.0 218.5h0M905.4 172.4h0M802.0 185.6h0M901.4 168.6h0M849.4 165.6h0M911.4 168.0h0M852.1 167.0h0M873.8 173.3h0M843.8 162.5h0M765.0 133.0h0M800.1 185.3h0M708.2 195.4h0M712.2 227.2h0M900.9 170.7h0M914.6 169.3h0M853.7 167.4h0M866.8 172.8h0M873.7 162.0h0M718.0 190.0h0M802.3 189.3h0M885.5 168.3h0M872.9 167.6h0M864.8 171.2h0M891.9 162.6h0M879.7 168.9h0M718.3 222.7h0M875.6 163.6h0M768.4 172.6h0M857.8 164.0h0M904.9 171.7h0M847.7 165.3h0M752.3 144.2h0M869.7 160.9h0M817.8 160.2h0M868.3 161.6h0M866.0 162.8h0M851.8 161.5h0M904.1 169.1h0M897.0 169.7h0M826.6 118.0h0M823.5 157.3h0M749.7 195.7h0M828.0 172.8h0M905.6 165.2h0M865.6 172.4h0M836.1 167.3h0M738.4 211.1h0"/>
<path class="b" d="M887.9 150.1h0M843.9 154.7h0M884.7 157.1h0M876.0 159.5h0M901.9 158.4h0M838.8 134.0h0M810.7 105.2h0M864.5 151.9h0M839.6 149.4h0M812.7 124.8h0M907.6 157.2h0M838.4 149.2h0M868.9 158.0h0M820.1 161.3h0M865.8 141.3h0"/>
<path class="r" d="M760.0 107.6h0M733.1 117.5h0M751.2 97.7h0M801.3 82.8h0M830.1 105.3h0M761.3 78.6h0M765.7 107.6h0M745.9 105.8h0M766.7 67.3h0M786.4 88.0h0M827.0 108.9h0M715.7 112.7h0M754.4 81.6h0M774.5 78.3h0"/>
<path class="g" d="M729.6 209.3h0M878.5 171.6h0M891.4 172.0h0M744.9 209.2h0M825.7 157.6h0M834.2 177.7h0M824.5 118.7h0M887.1 168.1h0M870.4 170.5h0M716.4 220.7h0M721.4 222.3h0M886.8 172.2h0M843.8 160.9h0M793.3 180.5h0M771.6 199.3h0M892.9 168.9h0M705.9 228.5h0M827.8 165.1h0M838.4 169.8h0M726.8 222.4h0M899.1 172.4h0M827.9 157.1h0M715.0 161.0h0M911.4 172.6h0M865.4 164.6h0M720.8 191.3h0M757.7 129.9h0M877.9 170.8h0M879.8 171.8h0M913.0 170.4h0M829.1 152.9h0M812.6 175.8h0M771.3 173.6h0M771.5 180.4h0M758.8 192.5h0M725.3 190.3h0M825.8 169.5h0M825.2 165.2h0M833.1 159.0h0M902.8 165.3h0M784.6 173.8h0M827.4 153.0h0M733.5 221.5h0M855.2 172.4h0M711.2 224.1h0M904.7 171.1h0M780.8 188.0h0M912.0 170.6h0M794.0 163.5h0M894.4 175.6h0M908.3 169.9h0M700.0 197.9h0M846.0 164.3h0M811.1 166.3h0M744.5 140.7h0M911.0 169.3h0M704.8 230.2h0M900.0 170.4h0M717.0 193.8h0M823.3 117.7h0M704.3 178.7h0M846.7 165.0h0M812.8 148.2h0M850.2 166.7h0M923.4 171.9h0M767.1 184.2h0M871.6 161.4h0M817.8 121.8h0M843.9 169.0h0M866.0 167.6h0M712.5 187.3h0M737.6 174.8h0M819.1 173.2h0M895.6 171.9h0M798.4 178.0h0M851.2 167.3h0M719.5 187.9h0M728.6 219.9h0M738.0 199.2h0M826.6 152.8h0M771.0 191.7h0M839.2 164.9h0M876.9 171.7h0M816.7 116.7h0M761.6 177.1h0M904.7 170.1h0M717.7 218.4h0M907.8 165.6h0M731.7 168.0h0M836.8 163.6h0M749.9 203.8h0M866.4 167.0h0"/>
<path class="b" d="M873.4 141.1h0M872.2 150.6h0M894.8 153.3h0M904.9 151.2h0M835.9 132.4h0M803.1 145.6h0M809.6 158.4h0M892.0 153.9h0M829.2 125.6h0M886.6 149.6h0M891.6 150.0h0M876.0 152.4h0M894.6 144.7h0M837.1 151.6h0M816.8 109.1h0M810.8 131.4h0M899.3 158.9h0M906.0 157.1h0M910.1 157.9h0M900.3 158.6h0M822.9 144.2h0M914.7 160.9h0M763.0 67.0h0M853.1 152.8h0M869.9 150.7h0M866.3 158.2h0M840.2 149.9h0M844.8 149.9h0M818.4 168.4h0"/>
<path class="g" d="M753.5 188.7h0M787.8 179.9h0M823.9 121.5h0M784.6 179.0h0M852.7 166.9h0M856.1 165.1h0M734.3 221.1h0M753.0 143.4h0M846.4 165.5h0M709.7 225.3h0M887.5 167.6h0M706.9 229.8h0M704.3 225.1h0M720.6 224.0h0M790.5 190.5h0M756.4 211.3h0M868.8 170.8h0M910.2 169.1h0M722.8 214.8h0M918.1 168.3h0M690.3 202.5h0M901.9 165.1h0M875.0 170.7h0M719.4 186.8h0M711.8 190.0h0M896.7 171.4h0M813.7 168.1h0M880.4 164.7h0M742.9 201.9h0M829.1 176.7h0M874.2 162.3h0M853.6 168.0h0M837.3 165.7h0M854.9 175.7h0M843.4 170.2h0M858.2 165.9h0M692.3 202.5h0M715.2 223.0h0M764.8 200.0h0M727.8 222.0h0M845.8 167.9h0M714.2 199.2h0M857.7 167.6h0M886.1 171.4h0M740.9 199.5h0M722.0 215.0h0M822.9 124.7h0M833.8 160.1h0M710.8 223.9h0M763.1 144.8h0M858.0 162.3h0M881.2 167.1h0M691.6 208.6h0M802.0 172.3h0M697.7 201.6h0M716.6 186.2h0M904.6 174.7h0M823.3 147.2h0M718.8 189.1h0M758.6 165.6h0M856.9 174.5h0M838.8 154.1h0M916.9 169.8h0M813.1 180.2h0M819.4 156.7h0M744.3 191.3h0M823.5 166.4h0M830.6 166.9h0M876.8 172.2h0M772.5 175.2h0M836.4 167.5h0M802.1 176.7h0M870.0 171.7h0M819.1 124.5h0M810.8 162.5h0M843.5 161.5h0M820.4 159.3h0M845.7 167.9h0M819.9 124.7h0M736.8 211.4h0M852.3 163.8h0M711.9 193.8h0M827.1 121.5h0M819.8 157.3h0M896.0 170.8h0M891.4 162.6h0M877.0 165.2h0M729.4 216.9h0M726.4 224.6h0M699.2 183.1h0M865.7 169.0h0M838.3 178.0h0M756.0 139.7h0M922.2 175.0h0M892.9 165.2h0M855.4 159.1h0M912.5 169.8h0M760.1 197.0h0M775.2 184.8h0M873.5 175.9h0M840.4 155.7h0M781.6 183.5h0M767.3 167.2h0M860.2 170.5h0M851.3 171.2h0M709.7 189.9h0M904.4 169.0h0M717.1 181.1h0M800.0 148.0h0M746.7 191.9h0M819.0 117.8h0M767.5 186.7h0M839.6 166.5h0M798.9 185.3h0"/>
<path class="b" d="M858.0 135.5h0M842.8 146.9h0M920.9 162.3h0M853.7 153.4h0M846.7 150.2h0M889.3 151.6h0M791.6 162.2h0M795.2 143.1h0M857.3 148.4h0M896.5 160.4h0M858.6 151.2h0M867.0 139.0h0M919.4 161.3h0M893.0 154.2h0M865.9 151.9h0M841.9 148.3h0M877.0 154.2h0M903.2 156.5h0M814.5 138.6h0M716.0 145.0h0M816.1 142.5h0"/>
<path class="g" d="M868.8 171.1h0M858.9 171.7h0M759.6 132.7h0M727.0 221.7h0M923.8 174.9h0M876.0 163.4h0M688.6 208.5h0M872.0 172.6h0M891.6 173.5h0M767.0 174.2h0M865.9 171.1h0M888.2 168.5h0M718.2 199.0h0M796.0 140.0h0M702.5 206.0h0M729.5 216.7h0M847.8 164.8h0M749.4 202.1h0M893.3 164.2h0M824.7 117.3h0M691.9 205.9h0M870.5 175.7h0M881.6 168.0h0M894.0 172.1h0M747.4 140.6h0M728.6 196.7h0M737.0 139.0h0M870.5 165.7h0M817.4 181.8h0M833.2 165.3h0M898.8 176.3h0M900.2 176.4h0M764.6 179.8h0M822.8 152.8h0M824.3 154.8h0M825.7 165.2h0M835.9 168.6h0M824.5 169.1h0M704.7 192.4h0M762.6 175.6h0M786.3 187.1h0M852.3 162.0h0M821.9 118.4h0M798.1 187.1h0M835.4 175.8h0M872.8 167.4h0M870.2 164.0h0M829.4 162.9h0M699.5 203.2h0M826.7 175.7h0M738.6 191.5h0M860.8 165.9h0M723.7 194.9h0M714.4 186.7h0M779.5 168.3h0M845.2 165.2h0M839.6 173.2h0M819.0 120.0h0M838.7 168.4h0M887.8 173.7h0M891.7 169.2h0M707.9 202.8h0M760.0 89.0h0M785.6 174.2h0M720.4 185.2h0M757.7 167.5h0M731.2 194.3h0M778.5 179.9h0M905.4 173.3h0M857.2 164.0h0M867.7 163.3h0M853.1 166.1h0M857.0 156.3h0M693.9 208.4h0M831.0 159.3h0M858.4 165.5h0M818.4 179.4h0M758.3 141.7h0M876.1 164.4h0M738.8 197.0h0M776.0 134.0h0M896.6 169.6h0M853.8 163.2h0M891.2 169.1h0M692.4 198.8h0M720.0 211.9h0M846.1 168.3h0M728.0 191.9h0M700.8 199.1h0M880.3 162.1h0M796.7 176.4h0M922.6 169.9h0M711.5 223.0h0M824.5 120.1h0M761.1 185.5h0M784.8 165.5h0M826.4 161.9h0M818.7 116.6h0M859.8 159.6h0M877.6 162.6h0M693.2 205.5h0M745.1 190.4h0M910.6 176.5h0M820.2 121.2h0M751.4 179.5h0"/>
<path class="b" d="M813.5 125.7h0M872.0 153.6h0M885.7 152.2h0M850.6 152.7h0M839.4 153.5h0M723.0 174.0h0M861.9 148.4h0M879.4 140.2h0M859.3 151.8h0M847.5 134.6h0M851.9 156.9h0M871.2 156.6h0M899.7 156.9h0M761.0 94.0h0M750.0 162.0h0M885.6 152.4h0M887.3 151.8h0M708.0 185.5h0M878.4 143.9h0M881.2 150.3h0M903.0 157.4h0M790.7 158.6h0M891.8 156.6h0M845.6 155.2h0M874.8 151.1h0M785.0 82.0h0M836.5 132.5h0M830.6 160.0h0M898.7 152.5h0M884.6 153.4h0"/>
<path class="g" d="M863.3 161.3h0M763.8 187.3h0M712.0 222.2h0M841.6 162.0h0M855.9 161.0h0M706.8 186.9h0M825.8 117.2h0M810.5 169.1h0M837.2 158.6h0M896.2 168.3h0M856.2 165.4h0M862.8 164.8h0M746.1 204.1h0M762.3 182.6h0M837.6 173.4h0M746.1 216.0h0M862.8 171.4h0M838.9 168.1h0M712.0 223.0h0M729.2 218.5h0M892.2 176.2h0M866.0 166.1h0M853.8 166.7h0M866.2 168.5h0M824.6 160.9h0M830.8 174.0h0M843.1 161.1h0M714.4 215.8h0M706.7 197.7h0M921.3 174.3h0M875.4 163.5h0M736.5 206.5h0M758.1 145.8h0M914.5 174.4h0M852.9 165.2h0M838.8 167.1h0M739.6 172.1h0M918.3 175.1h0M912.0 173.7h0M821.4 159.6h0M738.6 201.2h0M747.6 190.3h0M749.7 181.2h0M719.2 186.4h0M867.9 169.0h0M731.1 216.8h0M813.0 169.0h0M885.8 167.9h0M926.2 172.1h0M821.9 176.6h0M876.1 172.0h0M814.2 164.9h0M827.3 172.4h0M854.5 172.8h0M814.5 169.4h0M823.8 163.2h0M829.0 158.5h0M740.0 177.3h0M889.9 169.7h0M746.4 145.0h0M872.5 165.9h0M781.4 176.0h0M922.0 168.5h0M816.2 159.4h0M824.0 159.6h0M907.7 167.1h0M851.4 163.2h0M689.5 204.5h0M783.1 193.7h0M755.4 189.0h0M916.0 169.2h0M697.2 198.7h0M749.4 146.6h0M696.3 196.8h0M875.5 169.7h0M729.1 214.9h0M873.0 173.5h0M834.3 149.0h0M818.4 160.8h0M750.0 169.5h0M837.2 162.0h0M758.3 205.1h0M878.2 171.6h0M864.4 165.0h0M826.4 176.0h0M898.4 167.6h0M864.9 162.7h0M877.7 164.4h0M849.5 162.3h0M834.3 169.6h0M862.1 168.9h0M897.0 171.4h0M883.1 166.2h0M782.0 181.9h0M723.5 190.8h0M810.4 173.5h0M904.7 168.0h0M836.3 170.8h0M874.5 175.0h0M847.1 167.1h0M810.8 168.9h0M831.7 159.1h0M907.6 173.4h0M715.9 217.5h0M833.2 164.6h0M824.4 158.4h0M809.5 160.6h0M842.0 190.0h0M898.3 171.6h0M849.5 169.8h0"/>
<path class="b" d="M877.5 140.9h0M893.1 152.1h0M827.7 132.4h0M837.0 137.3h0M910.0 157.6h0M799.3 154.6h0M881.4 153.1h0M853.6 147.7h0M861.3 135.7h0M823.1 115.1h0M840.2 155.1h0M919.4 158.3h0M876.0 153.0h0M887.5 143.4h0M867.4 150.3h0M893.8 150.0h0M826.9 134.2h0M848.6 155.3h0M892.3 150.9h0M918.5 160.1h0M837.9 145.4h0M877.4 154.3h0M839.9 150.8h0M860.5 154.4h0M796.9 127.0h0"/>
<path class="g" d="M868.2 166.4h0M820.9 151.3h0M900.4 170.7h0M688.5 212.9h0M860.7 166.1h0M805.0 202.0h0M839.4 156.3h0M853.5 164.7h0M746.2 202.6h0M894.3 166.9h0M863.8 160.8h0M774.0 122.0h0M847.6 160.7h0M892.6 172.9h0M923.2 172.2h0M762.7 178.9h0M821.4 119.4h0M790.0 150.0h0M824.5 171.0h0M761.0 179.9h0M819.5 158.2h0M883.4 166.9h0M732.0 204.4h0M823.4 162.2h0M697.0 194.9h0M744.7 203.3h0M721.6 211.5h0M687.5 206.2h0M862.4 159.9h0M786.5 181.6h0M722.0 226.6h0M827.4 161.5h0M830.6 161.5h0M882.8 164.0h0M864.7 172.3h0M907.5 171.6h0M854.8 160.6h0M921.6 169.6h0M894.1 171.0h0M923.6 172.6h0M909.8 171.8h0M722.5 186.4h0M749.8 203.0h0M809.1 177.7h0M741.8 188.9h0M849.0 164.7h0M757.0 141.8h0M815.5 151.3h0M790.2 194.1h0M897.7 171.6h0M888.7 167.3h0M882.8 165.3h0M853.5 164.4h0M750.8 144.9h0M758.0 173.4h0M842.5 158.5h0M833.6 161.5h0M905.7 170.3h0M915.6 170.6h0M894.7 166.1h0M856.9 159.4h0M831.7 153.6h0M873.7 167.0h0M819.8 174.4h0M851.0 172.1h0M823.0 116.7h0M853.0 162.9h0M854.3 155.8h0M834.6 155.5h0M866.4 165.8h0M842.0 169.5h0M879.2 164.1h0M758.7 188.6h0M770.7 194.8h0M714.6 219.2h0M882.4 163.2h0M863.3 173.2h0M732.7 216.2h0M754.1 135.6h0M751.5 189.1h0M914.8 167.4h0M745.2 172.2h0M817.6 160.0h0M884.7 169.2h0M756.4 147.7h0M909.5 166.0h0M901.6 170.7h0M741.9 177.9h0M787.7 197.6h0M753.3 174.7h0M921.6 174.8h0M870.3 169.7h0M899.6 164.1h0M832.3 156.6h0M915.6 174.0h0M752.3 205.8h0M773.9 183.7h0M888.0 168.3h0M817.7 118.6h0M837.1 160.9h0M826.6 160.0h0M768.0 107.0h0M881.4 168.7h0M844.9 156.9h0M701.3 187.5h0M807.1 170.9h0M869.6 158.6h0M849.7 172.3h0M926.4 170.9h0M858.8 166.9h0"/>
<path class="b" d="M881.9 154.3h0M819.1 166.5h0M874.1 157.1h0M830.4 125.3h0M890.2 152.2h0M869.5 154.9h0M848.7 154.0h0M863.7 155.0h0M808.8 159.0h0M895.5 160.3h0M875.4 154.3h0M860.2 150.5h0M843.1 139.5h0M848.2 145.5h0M845.4 158.2h0M839.0 155.8h0M856.8 147.8h0M887.0 151.8h0M898.2 158.2h0M880.4 144.1h0M858.0 146.9h0M871.8 151.7h0M847.8 147.3h0M841.2 151.7h0M872.4 155.9h0"/>
<path class="g" d="M792.3 193.0h0M837.6 173.0h0M713.9 230.1h0M815.9 171.4h0M909.2 169.0h0M823.6 170.0h0M843.9 163.3h0M923.5 172.7h0M789.2 186.1h0M858.2 158.9h0M702.2 228.7h0M877.5 169.1h0M845.8 168.7h0M764.9 177.3h0M723.0 222.2h0M847.6 160.1h0M711.8 192.4h0M783.5 171.7h0M719.5 227.4h0M874.2 172.2h0M870.3 165.5h0M820.3 166.6h0M785.0 146.0h0M807.1 177.5h0M683.9 205.1h0M855.4 166.0h0M865.5 169.1h0M806.0 152.0h0M833.2 170.9h0M726.6 192.5h0M838.1 163.0h0M790.0 190.3h0M882.2 172.5h0M823.3 163.1h0M701.3 201.6h0M859.6 165.4h0M687.8 203.7h0M732.4 222.0h0M905.1 172.7h0M837.2 167.6h0M738.2 175.2h0M842.4 165.6h0M877.0 171.4h0M811.9 182.9h0M695.6 210.2h0M815.5 159.7h0M881.3 164.0h0M889.5 165.5h0M742.0 190.1h0M816.9 149.5h0M718.6 222.1h0M870.5 173.1h0M819.3 115.5h0M882.6 169.8h0M722.4 221.1h0M861.5 162.6h0M721.7 223.2h0M876.1 168.5h0M849.6 167.5h0M773.2 176.1h0M862.8 169.1h0M795.2 184.1h0M806.8 165.0h0M885.7 165.5h0M877.0 162.3h0M915.8 173.5h0M786.9 176.8h0M703.1 198.2h0M913.2 166.5h0M914.7 175.2h0M827.2 153.2h0M715.7 193.5h0M815.0 164.4h0M701.3 197.0h0M826.4 157.2h0M825.2 114.6h0M899.6 173.2h0M724.5 181.5h0M826.0 160.8h0M707.7 179.5h0M719.0 189.6h0M839.6 163.8h0M906.2 176.5h0M844.7 165.9h0M919.5 173.4h0M827.3 164.8h0M710.2 192.9h0M907.9 167.9h0M731.2 193.7h0M751.7 203.4h0M747.6 142.4h0M915.9 170.5h0M892.3 171.5h0M880.6 165.2h0M842.7 165.0h0M899.1 165.4h0M860.7 173.9h0M878.7 169.1h0M846.0 165.9h0M845.6 168.5h0M828.5 164.4h0M852.5 166.6h0M716.5 194.0h0M872.4 163.3h0M713.8 214.2h0M722.1 177.7h0M791.1 169.9h0M897.5 167.0h0"/>
<path class="b" d="M907.8 156.9h0M852.4 139.5h0M893.3 155.7h0M845.8 153.8h0M795.9 136.1h0M792.9 133.2h0M863.3 151.1h0M762.0 166.0h0M830.5 154.4h0M798.8 126.0h0M756.0 165.0h0M880.3 150.3h0M884.0 145.1h0M890.4 149.0h0M738.0 153.0h0M700.0 184.0h0M836.7 135.1h0M806.0 112.0h0M904.4 149.2h0M891.2 154.9h0M872.5 158.2h0M811.4 151.4h0M843.4 150.6h0"/>
<path fill="#4a74c2" d="M88 353.4v33.8h1v-33.8zM89 352.9v34.3h1v-34.3zM90 344.3v42.9h1v-42.9zM91 344.9v42.3h1v-42.3zM92 341.1v46.1h1v-46.1zM93 328.9v58.3h1v-58.3zM94 331.1v56.1h1v-56.1zM95 324.2v63h1v-63zM96 324.1v63.1h1v-63.1zM97 310.4v76.8h1v-76.8zM98 317.3v69.9h1v-69.9zM99 310.4v76.8h1v-76.8zM100 317v70.2h1v-70.2zM101 323.5v63.7h1v-63.7zM102 320.3v66.9h1v-66.9zM103 320.9v66.3h1v-66.3zM104 320.2v67h1v-67zM105 313.9v73.3h1v-73.3zM106 313v74.2h1v-74.2zM107 318v69.2h1v-69.2zM108 322.5v64.7h1v-64.7zM109 316.1v71.1h1v-71.1zM110 320.2v67h1v-67zM111 310v77.2h1v-77.2zM112 310.2v77h1v-77zM113 301v86.2h1v-86.2zM114 297.7v89.5h1v-89.5zM115 327.6v59.6h1v-59.6zM116 311.3v75.9h1v-75.9zM117 297.7v89.5h3v-89.5zM120 327.9v59.3h1v-59.3zM121 312.7v74.5h1v-74.5zM122 297.7v89.5h2v-89.5zM124 314v73.2h1v-73.2zM125 297.7v89.5h4v-89.5zM129 323.8v63.4h1v-63.4zM130 297.7v89.5h1v-89.5zM131 301.8v85.4h1v-85.4zM132 297.7v89.5h6v-89.5zM138 302.6v84.6h1v-84.6zM139 297.7v89.5h4v-89.5zM143 327.8v59.4h1v-59.4zM144 297.7v89.5h1v-89.5zM145 303.4v83.8h1v-83.8zM146 297.7v89.5h2v-89.5zM148 320.3v66.9h1v-66.9zM149 297.7v89.5h1v-89.5zM150 326.9v60.3h1v-60.3zM151 297.7v89.5h2v-89.5zM153 312.5v74.7h1v-74.7zM154 297.7v89.5h2v-89.5zM156 309.3v77.9h1v-77.9zM157 297.7v89.5h9v-89.5zM166 310v77.2h1v-77.2zM167 297.7v89.5h2v-89.5zM169 301.5v85.7h1v-85.7zM170 297.7v89.5h1v-89.5zM171 313.2v74h1v-74zM172 297.7v89.5h3v-89.5zM175 310.4v76.8h1v-76.8zM176 297.7v89.5h2v-89.5zM178 320.7v66.5h1v-66.5zM179 297.7v89.5h3v-89.5zM182 311.1v76.1h1v-76.1zM183 309.4v77.8h1v-77.8zM184 308.7v78.5h1v-78.5zM185 318.3v68.9h1v-68.9zM186 297.7v89.5h5v-89.5zM191 306.4v80.8h1v-80.8zM192 297.7v89.5h2v-89.5zM194 310.6v76.6h1v-76.6zM195 297.7v89.5h15v-89.5zM260 385.4v1.8h1v-1.8zM263 386v1.2h1v-1.2zM277 360.4v26.8h1v-26.8zM278 372.3v14.9h1v-14.9zM279 369.3v17.9h1v-17.9zM280 370v17.2h1v-17.2zM281 369.4v17.8h1v-17.8zM282 373.4v13.8h1v-13.8zM283 370.9v16.3h1v-16.3zM284 375.1v12.1h1v-12.1zM285 370.8v16.4h1v-16.4zM286 360v27.2h1v-27.2zM287 364.6v22.6h1v-22.6zM296 385.6v1.6h1v-1.6zM337 386.2v1h1v-1zM348 384.5v2.7h1v-2.7zM361 385.4v1.8h1v-1.8zM371 386v1.2h1v-1.2zM379 377.3v9.9h1v-9.9zM380 378.9v8.3h1v-8.3zM381 385v2.2h1v-2.2zM395 384.2v3h1v-3zM401 384.6v2.6h1v-2.6zM414 383.9v3.3h1v-3.3zM424 384.3v2.9h1v-2.9zM427 385.1v2.1h1v-2.1zM431 381.5v5.7h1v-5.7zM432 385.9v1.3h1v-1.3zM433 386.6v.6h1v-.6zM435 385v2.2h1v-2.2zM436 386.4v.8h1v-.8zM437 379.7v7.5h1v-7.5zM438 380.2v7h1v-7zM440 386.8v.4h1v-.4zM441 380v7.2h1v-7.2zM442 386.7v.5h1v-.5zM445 386.1v1.1h1v-1.1zM446 385.8v1.4h1v-1.4zM449 386.1v1.1h1v-1.1zM451 385.9v1.3h1v-1.3zM453 386.5v.7h1v-.7zM454 380.5v6.7h1v-6.7zM455 384.5v2.7h1v-2.7zM461 383.6v3.6h1v-3.6zM464 386.5v.7h1v-.7zM465 386v1.2h1v-1.2zM467 379.8v7.4h1v-7.4zM468 386.3v.9h1v-.9zM470 386.4v.8h1v-.8zM471 385.3v1.9h1v-1.9zM472 386.7v.5h1v-.5zM473 386.4v.8h1v-.8zM474 386v1.2h1v-1.2zM475 386.6v.6h1v-.6zM476 386.2v1h1v-1zM478 381.3v5.9h1v-5.9zM479 385.1v2.1h1v-2.1zM480 386.3v.9h1v-.9zM481 382.8v4.4h1v-4.4zM485 385.3v1.9h1v-1.9zM486 386.5v.7h1v-.7zM487 379.7v7.5h1v-7.5zM488 386.2v1h2v-1zM490 379v8.2h1v-8.2zM491 384.6v2.6h1v-2.6zM492 385.3v1.9h1v-1.9zM493 385.1v2.1h1v-2.1zM494 386.6v.6h1v-.6zM495 385.9v1.3h1v-1.3zM496 379.8v7.4h1v-7.4zM497 386.1v1.1h1v-1.1zM498 386.2v1h1v-1zM502 386.2v1h2v-1zM504 386v1.2h1v-1.2zM505 384.7v2.5h1v-2.5zM506 386.6v.6h1v-.6zM507 386.2v1h1v-1zM508 381v6.2h1v-6.2zM509 385.7v1.5h1v-1.5zM510 385.5v1.7h1v-1.7zM511 386.7v.5h1v-.5zM512 386.6v.6h1v-.6zM513 385v2.2h1v-2.2zM514 386.3v.9h1v-.9zM515 386.2v1h1v-1zM516 386.5v.7h1v-.7zM517 384.8v2.4h1v-2.4zM518 385.6v1.6h1v-1.6zM519 380.6v6.6h1v-6.6zM521 378.3v8.9h1v-8.9zM524 382.8v4.4h1v-4.4zM525 386.8v.4h1v-.4zM526 386.3v.9h1v-.9zM527 385.1v2.1h1v-2.1zM528 380.6v6.6h1v-6.6zM529 384.7v2.5h1v-2.5zM530 385.3v1.9h1v-1.9zM531 385.9v1.3h1v-1.3zM532 384.6v2.6h1v-2.6zM533 383.9v3.3h1v-3.3zM534 378.4v8.8h1v-8.8zM536 385.6v1.6h1v-1.6zM538 383.9v3.3h1v-3.3zM539 385.2v2h1v-2zM540 381.5v5.7h1v-5.7zM541 381v6.2h1v-6.2zM542 333.9v53.3h1v-53.3zM543 325.8v61.4h1v-61.4zM544 344.3v42.9h1v-42.9zM545 342.2v45h1v-45zM546 335.4v51.8h1v-51.8zM547 338.3v48.9h1v-48.9zM548 334.2v53h1v-53zM549 340.3v46.9h1v-46.9zM550 339.2v48h1v-48zM551 348.1v39.1h1v-39.1zM552 333.5v53.7h1v-53.7zM553 350.9v36.3h1v-36.3zM554 340.7v46.5h1v-46.5zM555 346.4v40.8h1v-40.8zM556 342.1v45.1h1v-45.1zM557 342v45.2h1v-45.2zM558 346.2v41h1v-41zM559 348.8v38.4h1v-38.4zM560 336.2v51h1v-51zM561 340.9v46.3h1v-46.3zM562 338.5v48.7h1v-48.7zM563 347.6v39.6h1v-39.6zM564 342.3v44.9h1v-44.9zM565 354.2v33h1v-33zM566 342v45.2h1v-45.2zM567 334.9v52.3h1v-52.3zM568 338.4v48.8h1v-48.8zM569 335.4v51.8h1v-51.8zM570 344.6v42.6h1v-42.6zM571 339.1v48.1h1v-48.1zM572 326.2v61h1v-61zM573 346.1v41.1h1v-41.1zM574 337.4v49.8h1v-49.8zM575 357.2v30h1v-30zM576 349.8v37.4h1v-37.4zM577 352.2v35h1v-35zM578 353.5v33.7h1v-33.7zM579 343.2v44h1v-44zM580 354.6v32.6h1v-32.6zM581 355.1v32.1h1v-32.1zM582 339.6v47.6h1v-47.6zM583 334.4v52.8h1v-52.8zM584 375.5v11.7h1v-11.7zM586 380v7.2h1v-7.2zM587 381.1v6.1h1v-6.1zM588 368.9v18.3h1v-18.3zM589 381.5v5.7h1v-5.7zM590 358.9v28.3h1v-28.3zM591 360.7v26.5h1v-26.5zM592 367v20.2h1v-20.2zM593 363.4v23.8h1v-23.8zM594 372.7v14.5h1v-14.5zM595 352.7v34.5h1v-34.5zM596 353.9v33.3h1v-33.3zM597 355.4v31.8h1v-31.8zM598 366.3v20.9h1v-20.9zM599 358.2v29h1v-29zM600 357.5v29.7h1v-29.7zM601 362.2v25h1v-25zM602 368.8v18.4h1v-18.4zM603 359.4v27.8h1v-27.8zM604 371.6v15.6h1v-15.6zM605 361.7v25.5h1v-25.5zM606 344.9v42.3h1v-42.3zM607 360.4v26.8h1v-26.8zM608 352.8v34.4h1v-34.4zM609 363.8v23.4h1v-23.4zM610 365.7v21.5h1v-21.5zM611 363.3v23.9h1v-23.9zM612 357.5v29.7h1v-29.7zM613 363.5v23.7h1v-23.7zM614 350.1v37.1h1v-37.1zM615 370.2v17h1v-17zM616 359.7v27.5h1v-27.5zM617 376.2v11h1v-11zM618 370.7v16.5h1v-16.5zM619 359v28.2h1v-28.2zM620 377.1v10.1h1v-10.1zM621 365.8v21.4h1v-21.4zM622 357.5v29.7h1v-29.7zM623 360.2v27h1v-27zM624 369v18.2h1v-18.2zM625 359.9v27.3h1v-27.3zM626 366.6v20.6h1v-20.6zM627 352.6v34.6h1v-34.6zM628 344.4v42.8h1v-42.8zM629 363.9v23.3h1v-23.3zM630 360.4v26.8h1v-26.8zM631 349.4v37.8h1v-37.8zM632 368.7v18.5h1v-18.5zM633 353.1v34.1h1v-34.1zM634 365.6v21.6h1v-21.6zM635 357.2v30h1v-30zM636 338.8v48.4h1v-48.4zM637 356.9v30.3h1v-30.3zM638 358.5v28.7h1v-28.7zM639 353.4v33.8h1v-33.8zM640 372.9v14.3h1v-14.3zM641 379.3v7.9h1v-7.9zM642 374.2v13h1v-13zM643 378.6v8.6h1v-8.6zM644 382.8v4.4h1v-4.4zM645 381.5v5.7h1v-5.7zM646 378.1v9.1h1v-9.1zM647 377.7v9.5h1v-9.5zM648 373.7v13.5h1v-13.5zM649 381.9v5.3h1v-5.3zM650 377.5v9.7h1v-9.7zM651 381v6.2h1v-6.2zM652 380.2v7h1v-7zM653 384.9v2.3h1v-2.3zM654 378.1v9.1h1v-9.1zM655 384.2v3h1v-3zM656 384.9v2.3h1v-2.3zM657 385.6v1.6h1v-1.6zM658 386.6v.6h1v-.6zM659 386.4v.8h1v-.8zM660 382.2v5h1v-5zM661 381.3v5.9h1v-5.9zM662 385.7v1.5h1v-1.5zM663 382.1v5.1h1v-5.1zM664 383.8v3.4h1v-3.4zM665 386.2v1h1v-1zM666 383v4.2h1v-4.2zM667 385.2v2h1v-2zM668 383.9v3.3h1v-3.3zM669 384.7v2.5h1v-2.5zM670 385.3v1.9h1v-1.9zM671 384.4v2.8h2v-2.8zM673 381.5v5.7h1v-5.7zM674 384v3.2h1v-3.2zM675 382.4v4.8h1v-4.8zM677 385.2v2h1v-2zM678 385.1v2.1h1v-2.1zM679 386.7v.5h1v-.5zM680 385.8v1.4h1v-1.4zM681 384.3v2.9h1v-2.9zM682 385.4v1.8h1v-1.8zM685 385.3v1.9h1v-1.9zM686 384.2v3h1v-3zM687 380v7.2h1v-7.2zM688 384.6v2.6h1v-2.6zM690 384.4v2.8h1v-2.8zM691 384.3v2.9h1v-2.9zM692 382.7v4.5h1v-4.5zM693 385.8v1.4h1v-1.4zM694 382.4v4.8h1v-4.8zM696 384v3.2h1v-3.2zM697 381.6v5.6h1v-5.6zM698 382.3v4.9h1v-4.9zM699 385.7v1.5h1v-1.5zM700 384.6v2.6h1v-2.6zM701 385.3v1.9h1v-1.9zM702 386.6v.6h1v-.6zM703 385.4v1.8h1v-1.8zM705 382.2v5h1v-5zM706 379.8v7.4h1v-7.4zM707 386.2v1h1v-1zM708 383.4v3.8h1v-3.8zM709 384.6v2.6h2v-2.6zM711 383.3v3.9h1v-3.9zM731 385.8v1.4h1v-1.4zM732 382.9v4.3h1v-4.3zM733 384.9v2.3h1v-2.3zM734 385.7v1.5h1v-1.5zM735 385.2v2h1v-2zM736 382.2v5h1v-5zM737 382.1v5.1h1v-5.1zM738 380.1v7.1h1v-7.1zM739 385.4v1.8h1v-1.8zM740 382.4v4.8h1v-4.8zM741 383.3v3.9h1v-3.9zM742 383v4.2h1v-4.2zM743 383.7v3.5h1v-3.5zM744 382.6v4.6h1v-4.6zM745 381.7v5.5h1v-5.5zM746 385.1v2.1h1v-2.1zM747 385.5v1.7h1v-1.7zM748 382.3v4.9h1v-4.9zM749 380.7v6.5h1v-6.5zM750 385.4v1.8h1v-1.8zM751 382.7v4.5h1v-4.5zM752 384.5v2.7h1v-2.7zM753 382.7v4.5h1v-4.5zM754 384.9v2.3h2v-2.3zM757 384v3.2h1v-3.2zM758 384.2v3h1v-3zM759 385.5v1.7h1v-1.7zM760 382.8v4.4h1v-4.4zM761 384.4v2.8h1v-2.8zM762 385.4v1.8h1v-1.8zM763 384.3v2.9h1v-2.9zM764 381.3v5.9h1v-5.9zM765 379.7v7.5h1v-7.5zM766 384.8v2.4h1v-2.4zM767 383.9v3.3h1v-3.3zM768 383.6v3.6h1v-3.6zM769 382.8v4.4h1v-4.4zM770 378.6v8.6h1v-8.6zM771 372.8v14.4h1v-14.4zM773 378v9.2h1v-9.2zM774 375.5v11.7h1v-11.7zM775 376.5v10.7h1v-10.7zM776 366v21.2h1v-21.2zM777 366.4v20.8h1v-20.8zM778 378.4v8.8h1v-8.8zM779 378.7v8.5h1v-8.5zM780 374.6v12.6h1v-12.6zM781 380.7v6.5h1v-6.5zM782 383v4.2h1v-4.2zM783 383.1v4.1h1v-4.1zM784 382.6v4.6h1v-4.6zM785 382.2v5h1v-5zM786 380.5v6.7h1v-6.7zM787 384.8v2.4h1v-2.4zM788 383.6v3.6h1v-3.6zM789 381.9v5.3h1v-5.3zM790 385.2v2h1v-2zM791 382.8v4.4h1v-4.4zM792 384.5v2.7h1v-2.7zM793 383.2v4h1v-4zM794 383.6v3.6h1v-3.6zM795 383.5v3.7h1v-3.7zM801 383.8v3.4h1v-3.4zM814 383.1v4.1h1v-4.1zM890 385.9v1.3h1v-1.3zM891 385.6v1.6h1v-1.6zM892 380.3v6.9h1v-6.9zM893 375v12.2h1v-12.2zM894 384.1v3.1h1v-3.1zM895 386.8v.4h1v-.4zM896 385.9v1.3h1v-1.3zM897 384.8v2.4h1v-2.4zM898 385.8v1.4h1v-1.4zM900 385.7v1.5h1v-1.5zM901 385.4v1.8h1v-1.8zM903 382.3v4.9h1v-4.9zM904 386v1.2h1v-1.2zM905 385.1v2.1h1v-2.1zM906 385.7v1.5h1v-1.5zM907 386.5v.7h1v-.7zM909 386.2v1h1v-1zM911 385.6v1.6h1v-1.6zM913 385.9v1.3h2v-1.3zM915 385.8v1.4h1v-1.4zM916 386.6v.6h1v-.6zM917 386v1.2h2v-1.2zM919 386.4v.8h1v-.8zM921 385.3v1.9h1v-1.9zM922 385.5v1.7h1v-1.7zM923 383.3v3.9h1v-3.9zM926 385.9v1.3h1v-1.3zM928 385.9v1.3h1v-1.3zM929 386.4v.8h1v-.8zM930 386.8v.4h1v-.4zM931 384.9v2.3h1v-2.3zM932 385.8v1.4h1v-1.4zM933 384.4v2.8h1v-2.8zM935 377.1v10.1h1v-10.1zM936 383.2v4h1v-4zM937 381.5v5.7h1v-5.7zM938 381.9v5.3h1v-5.3zM939 378.6v8.6h1v-8.6zM940 383.3v3.9h1v-3.9zM941 384.6v2.6h1v-2.6zM942 382v5.2h1v-5.2zM943 381.6v5.6h1v-5.6zM944 383v4.2h1v-4.2zM945 351.5v35.7h1v-35.7z"/>
<path fill="#e08242" d="M88 349.8v3.6h1v-3.6zM89 344.8v8.1h1v-8.1zM90 342.1v2.2h1v-2.2zM91 342.4v2.5h1v-2.5zM92 336.7v4.4h1v-4.4zM93 327.4v1.5h1v-1.5zM94 328.6v2.5h1v-2.5zM95 321.4v2.8h1v-2.8zM96 318.5v5.6h1v-5.6zM97 309.1v1.3h1v-1.3zM98 315.7v1.6h1v-1.6zM99 307.5v2.9h1v-2.9zM100 307.6v9.4h1v-9.4zM101 320.6v2.9h1v-2.9zM103 320v.9h1v-.9zM104 301.8v18.4h1v-18.4zM105 307.2v6.7h1v-6.7zM106 306v7h1v-7zM107 316.1v1.9h1v-1.9zM108 321.8v.7h1v-.7zM109 307.9v8.2h1v-8.2zM110 312.6v7.6h1v-7.6zM111 307.4v2.6h1v-2.6zM112 302.3v7.9h1v-7.9zM113 300.1v.9h1v-.9zM115 297.7v29.9h1v-29.9zM120 297.7v30.2h1v-30.2zM121 297.7v15h1v-15zM124 297.7v16.3h1v-16.3zM129 297.7v26.1h1v-26.1zM138 297.7v4.9h1v-4.9zM143 297.7v30.1h1v-30.1zM145 297.7v5.7h1v-5.7zM150 297.7v29.2h1v-29.2zM153 297.7v14.8h1v-14.8zM166 297.7v12.3h1v-12.3zM171 297.7v15.5h1v-15.5zM178 297.7v23h1v-23zM182 297.7v13.4h1v-13.4zM183 297.7v11.7h1v-11.7zM184 297.7v11h1v-11zM185 297.7v20.6h1v-20.6zM191 297.7v8.7h1v-8.7zM194 297.7v12.9h1v-12.9zM210 297.7v89.5h5v-89.5zM215 314.2v73h1v-73zM216 297.7v89.5h3v-89.5zM219 315.5v71.7h1v-71.7zM220 297.7v89.5h4v-89.5zM224 314.6v72.6h1v-72.6zM225 297.7v89.5h8v-89.5zM233 303.7v83.5h1v-83.5zM234 297.7v89.5h11v-89.5zM245 302.1v85.1h1v-85.1zM246 319.8v67.4h1v-67.4zM247 297.7v89.5h4v-89.5zM251 317.3v69.9h1v-69.9zM252 297.7v89.5h2v-89.5zM254 306.2v81h1v-81zM255 297.7v89.5h5v-89.5zM260 297.7v87.7h1v-87.7zM261 297.7v89.5h2v-89.5zM263 297.7v88.3h1v-88.3zM264 297.7v89.5h1v-89.5zM265 313.1v74.1h1v-74.1zM266 313.7v73.5h1v-73.5zM267 314.3v72.9h1v-72.9zM268 313v74.2h1v-74.2zM269 314.5v72.7h1v-72.7zM270 313.7v73.5h1v-73.5zM271 314.6v72.6h1v-72.6zM272 313.9v73.3h1v-73.3zM273 297.7v89.5h4v-89.5zM277 297.7v62.7h1v-62.7zM278 297.7v74.6h1v-74.6zM279 312.7v56.6h1v-56.6zM280 297.7v72.3h1v-72.3zM281 297.7v71.7h1v-71.7zM282 297.7v75.7h1v-75.7zM283 297.7v73.2h1v-73.2zM284 304.9v70.2h1v-70.2zM285 297.7v73.1h1v-73.1zM286 303.4v56.6h1v-56.6zM287 297.7v66.9h1v-66.9zM288 297.7v89.5h8v-89.5zM296 300.7v84.9h1v-84.9zM297 297.7v89.5h5v-89.5zM302 301.9v85.3h1v-85.3zM303 297.7v89.5h4v-89.5zM307 302.5v84.7h1v-84.7zM308 297.7v89.5h1v-89.5zM309 305.7v81.5h1v-81.5zM310 297.7v89.5h13v-89.5zM323 308.2v79h1v-79zM324 297.7v89.5h4v-89.5zM328 303.7v83.5h1v-83.5zM329 297.7v89.5h8v-89.5zM337 297.7v88.5h1v-88.5zM338 297.7v89.5h3v-89.5zM341 312.1v75.1h1v-75.1zM342 305.2v82h1v-82zM343 313.6v73.6h1v-73.6zM344 297.7v89.5h4v-89.5zM348 297.7v86.8h1v-86.8zM349 297.7v89.5h11v-89.5zM360 311.9v75.3h1v-75.3zM361 297.7v87.7h1v-87.7zM362 297.7v89.5h6v-89.5zM368 311.3v75.9h1v-75.9zM369 297.7v89.5h2v-89.5zM371 297.7v88.3h1v-88.3zM372 297.7v89.5h2v-89.5zM374 319.6v67.6h1v-67.6zM375 306.1v81.1h1v-81.1zM376 297.7v89.5h1v-89.5zM377 313.2v74h1v-74zM378 312.2v75h1v-75zM379 297.7v79.6h1v-79.6zM380 297.7v81.2h1v-81.2zM381 297.7v87.3h1v-87.3zM382 297.7v89.5h2v-89.5zM384 320.1v67.1h1v-67.1zM385 297.7v89.5h5v-89.5zM390 307.4v79.8h1v-79.8zM391 297.7v89.5h2v-89.5zM393 301.3v85.9h1v-85.9zM394 297.7v89.5h1v-89.5zM395 297.7v86.5h1v-86.5zM396 305v82.2h1v-82.2zM397 297.7v89.5h2v-89.5zM399 306.5v80.7h1v-80.7zM400 305.5v81.7h1v-81.7zM401 297.7v86.9h1v-86.9zM402 297.7v89.5h1v-89.5zM403 306.7v80.5h1v-80.5zM404 309.1v78.1h1v-78.1zM405 297.7v89.5h2v-89.5zM407 306.5v80.7h1v-80.7zM408 297.7v89.5h3v-89.5zM411 311.1v76.1h1v-76.1zM412 297.7v89.5h2v-89.5zM414 297.7v86.2h1v-86.2zM415 297.7v89.5h8v-89.5zM423 301.9v85.3h1v-85.3zM424 303v81.3h1v-81.3zM425 297.7v89.5h2v-89.5zM427 297.7v87.4h1v-87.4zM428 297.7v89.5h2v-89.5zM430 311.2v76h1v-76zM431 303.2v78.3h1v-78.3zM432 303.2v82.7h1v-82.7zM433 297.7v88.9h1v-88.9zM434 305.4v81.8h1v-81.8zM435 305.9v79.1h1v-79.1zM436 308.8v77.6h1v-77.6zM437 317.9v61.8h1v-61.8zM438 302v78.2h1v-78.2zM439 306v81.2h1v-81.2zM440 322.2v64.6h1v-64.6zM441 299v81h1v-81zM442 302.2v84.5h1v-84.5zM443 303.7v83.5h1v-83.5zM444 307v80.2h1v-80.2zM445 308.1v78h1v-78zM446 301.6v84.2h1v-84.2zM447 302.5v84.7h1v-84.7zM448 318.3v68.9h1v-68.9zM449 301.2v84.9h1v-84.9zM450 310.9v76.3h1v-76.3zM451 300.9v85h1v-85zM452 298.4v88.8h1v-88.8zM453 303.8v82.7h1v-82.7zM454 304.1v76.4h1v-76.4zM455 301.7v82.8h1v-82.8zM456 312.5v74.7h1v-74.7zM457 324v63.2h1v-63.2zM458 302v85.2h1v-85.2zM459 319.6v67.6h1v-67.6zM460 309.7v77.5h1v-77.5zM461 319.3v64.3h1v-64.3zM462 307.9v79.3h1v-79.3zM463 309.6v77.6h1v-77.6zM464 311.3v75.2h1v-75.2zM465 305.7v80.3h1v-80.3zM466 303.3v83.9h1v-83.9zM467 298v81.8h1v-81.8zM468 300.8v85.5h1v-85.5zM469 309.5v77.7h1v-77.7zM470 302.5v83.9h1v-83.9zM471 313.7v71.6h1v-71.6zM472 319.2v67.5h1v-67.5zM473 303v83.4h1v-83.4zM474 315.5v70.5h1v-70.5zM475 300.6v86h1v-86zM476 308.8v77.4h1v-77.4zM477 305.5v81.7h1v-81.7zM478 319.8v61.5h1v-61.5zM479 301.9v83.2h1v-83.2zM480 316.8v69.5h1v-69.5zM481 310.8v72h1v-72zM482 324.4v62.8h1v-62.8zM483 309.6v77.6h1v-77.6zM484 307.4v79.8h1v-79.8zM485 305.4v79.9h1v-79.9zM486 308.3v78.2h1v-78.2zM487 309.2v70.5h1v-70.5zM488 301.8v84.4h1v-84.4zM489 309.5v76.7h1v-76.7zM490 303.6v75.4h1v-75.4zM491 311.3v73.3h1v-73.3zM492 307.4v77.9h1v-77.9zM493 306.3v78.8h1v-78.8zM494 321v65.6h1v-65.6zM495 303.1v82.8h1v-82.8zM496 306.6v73.2h1v-73.2zM497 299v87.1h1v-87.1zM498 309v77.2h1v-77.2zM499 306.6v80.6h1v-80.6zM500 311.8v75.4h1v-75.4zM501 300.5v86.7h1v-86.7zM502 320.8v65.4h1v-65.4zM503 305.9v80.3h1v-80.3zM504 305.8v80.2h1v-80.2zM505 320.3v64.4h1v-64.4zM506 307.7v78.9h1v-78.9zM507 314.9v71.3h1v-71.3zM508 310.7v70.3h1v-70.3zM509 306.3v79.4h1v-79.4zM510 305v80.5h1v-80.5zM511 316.2v70.5h1v-70.5zM512 304.5v82.1h1v-82.1zM513 323.6v61.4h1v-61.4zM514 310.9v75.4h1v-75.4zM515 311.2v75h1v-75zM516 318.3v68.2h1v-68.2zM517 304.6v80.2h1v-80.2zM518 310v75.6h1v-75.6zM519 315.7v64.9h1v-64.9zM520 307.4v79.8h1v-79.8zM521 321.5v56.8h1v-56.8zM522 299v88.2h1v-88.2zM523 297.7v89.5h1v-89.5zM524 307.2v75.6h1v-75.6zM525 307.6v79.2h1v-79.2zM526 311.8v74.5h1v-74.5zM527 306.3v78.8h1v-78.8zM528 318.1v62.5h1v-62.5zM529 329v55.7h1v-55.7zM530 328.9v56.4h1v-56.4zM531 324v61.9h1v-61.9zM532 321.3v63.3h1v-63.3zM533 319.5v64.4h1v-64.4zM534 323.4v55h1v-55zM535 309.3v77.9h1v-77.9zM536 328.5v57.1h1v-57.1zM537 340.4v46.8h1v-46.8zM538 335.6v48.3h1v-48.3zM539 326.1v59.1h1v-59.1zM540 327.7v53.8h1v-53.8zM541 325.6v55.4h1v-55.4zM542 312.3v21.6h1v-21.6zM543 303.5v22.3h1v-22.3zM544 310.1v34.2h1v-34.2zM545 307.3v34.9h1v-34.9zM546 304v31.4h1v-31.4zM547 297.7v40.6h1v-40.6zM548 311.9v22.3h1v-22.3zM549 317.1v23.2h1v-23.2zM550 301v38.2h1v-38.2zM551 327.2v20.9h1v-20.9zM552 297.7v35.8h1v-35.8zM553 319v31.9h1v-31.9zM554 305.9v34.8h1v-34.8zM555 297.7v48.7h1v-48.7zM556 302.6v39.5h1v-39.5zM557 308.8v33.2h1v-33.2zM558 315.1v31.1h1v-31.1zM559 308.1v40.7h1v-40.7zM560 314.8v21.4h1v-21.4zM561 312.4v28.5h1v-28.5zM562 312v26.5h1v-26.5zM563 314.2v33.4h1v-33.4zM564 297.7v44.6h1v-44.6zM565 311v43.2h1v-43.2zM566 297.7v44.3h1v-44.3zM567 297.7v37.2h1v-37.2zM568 306.1v32.3h1v-32.3zM569 308.3v27.1h1v-27.1zM570 297.7v46.9h1v-46.9zM571 307.9v31.2h1v-31.2zM572 307.8v18.4h1v-18.4zM573 313.7v32.4h1v-32.4zM574 297.7v39.7h1v-39.7zM575 314.9v42.3h1v-42.3zM576 304.1v45.7h1v-45.7zM577 310.9v41.3h1v-41.3zM578 309v44.5h1v-44.5zM579 302.9v40.3h1v-40.3zM580 308v46.6h1v-46.6zM581 297.7v57.4h1v-57.4zM582 297.7v41.9h1v-41.9zM583 304.2v30.2h1v-30.2zM584 326.7v48.8h1v-48.8zM585 330.6v56.6h1v-56.6zM586 322v58h1v-58zM587 343.3v37.8h1v-37.8zM588 352.1v16.8h1v-16.8zM589 343.8v37.7h1v-37.7zM590 297.7v61.2h1v-61.2zM591 297.7v63h1v-63zM592 299v68h1v-68zM593 306.4v57h1v-57zM594 304.1v68.6h1v-68.6zM595 307.3v45.4h1v-45.4zM596 307.6v46.3h1v-46.3zM597 321.8v33.6h1v-33.6zM598 297.7v68.6h1v-68.6zM599 312v46.2h1v-46.2zM600 304.2v53.3h1v-53.3zM601 297.7v64.5h1v-64.5zM602 297.7v71.1h1v-71.1zM603 306.8v52.6h1v-52.6zM604 297.7v73.9h1v-73.9zM605 315.9v45.8h1v-45.8zM606 309.5v35.4h1v-35.4zM607 325.4v35h1v-35zM608 324.7v28.1h1v-28.1zM609 297.7v66.1h1v-66.1zM610 307.8v57.9h1v-57.9zM611 310.7v52.6h1v-52.6zM612 310.8v46.7h1v-46.7zM613 318.6v44.9h1v-44.9zM614 308.8v41.3h1v-41.3zM615 297.7v72.5h1v-72.5zM616 306.9v52.8h1v-52.8zM617 303.5v72.7h1v-72.7zM618 300.2v70.5h1v-70.5zM619 324.5v34.5h1v-34.5zM620 316.8v60.3h1v-60.3zM621 297.7v68.1h1v-68.1zM622 315.3v42.2h1v-42.2zM623 303.7v56.5h1v-56.5zM624 306.1v62.9h1v-62.9zM625 306.4v53.5h1v-53.5zM626 298.5v68.1h1v-68.1zM627 304.9v47.7h1v-47.7zM628 316.1v28.3h1v-28.3zM629 310.1v53.8h1v-53.8zM630 307v53.4h1v-53.4zM631 299.7v49.7h1v-49.7zM632 311.1v57.6h1v-57.6zM633 314.4v38.7h1v-38.7zM634 312.1v53.5h1v-53.5zM635 308.1v49.1h1v-49.1zM636 311.2v27.6h1v-27.6zM637 308.1v48.8h1v-48.8zM638 314v44.5h1v-44.5zM639 304v49.4h1v-49.4zM640 329.8v43.1h1v-43.1zM641 320.2v59.1h1v-59.1zM642 330.9v43.3h1v-43.3zM643 326v52.6h1v-52.6zM644 324.2v58.6h1v-58.6zM645 325.3v56.2h1v-56.2zM646 341.1v37h1v-37zM647 326.1v51.6h1v-51.6zM648 327.8v45.9h1v-45.9zM649 336.8v45.1h1v-45.1zM650 324.5v53h1v-53zM651 332.5v48.5h1v-48.5zM652 325.3v54.9h1v-54.9zM653 328.7v56.2h1v-56.2zM654 324.6v53.5h1v-53.5zM655 340.9v43.3h1v-43.3zM656 342.3v42.6h1v-42.6zM657 346v39.6h1v-39.6zM658 326.6v60h1v-60zM659 343.7v42.7h1v-42.7zM660 328v54.2h1v-54.2zM661 332.6v48.7h1v-48.7zM662 328.3v57.4h1v-57.4zM663 328.5v53.6h1v-53.6zM664 329.2v54.6h1v-54.6zM665 331.8v54.4h1v-54.4zM666 319.1v63.9h1v-63.9zM667 338.9v46.3h1v-46.3zM668 326.6v57.3h1v-57.3zM669 325.2v59.5h1v-59.5zM670 322.3v63h1v-63zM671 345.9v38.5h1v-38.5zM672 336.7v47.7h1v-47.7zM673 329.4v52.1h1v-52.1zM674 338.8v45.2h1v-45.2zM675 348v34.4h1v-34.4zM676 321.7v65.5h1v-65.5zM677 342.2v43h1v-43zM678 343.1v42h1v-42zM679 339.2v47.5h1v-47.5zM680 378.5v7.3h1v-7.3zM681 377.3v7h1v-7zM683 377.4v9.8h1v-9.8zM684 377.1v10.1h1v-10.1zM685 375.3v10h1v-10zM686 373.9v10.3h1v-10.3zM687 376.2v3.8h1v-3.8zM688 382.2v2.4h1v-2.4zM689 371.6v15.6h1v-15.6zM690 376.3v8.1h1v-8.1zM691 349.8v34.5h1v-34.5zM693 376.1v9.7h1v-9.7zM694 373.8v8.6h1v-8.6zM695 355.3v31.9h1v-31.9zM696 374.8v9.2h1v-9.2zM697 379.2v2.4h1v-2.4zM698 372.8v9.5h1v-9.5zM699 381.4v4.3h1v-4.3zM700 373.1v11.5h1v-11.5zM701 370.2v15.1h1v-15.1zM702 378.6v8h1v-8zM703 373.8v11.6h1v-11.6zM704 378v9.2h1v-9.2zM705 377.1v5.1h1v-5.1zM706 351.7v28.1h1v-28.1zM707 374.2v12h1v-12zM709 373.6v11h1v-11zM710 379.8v4.8h1v-4.8zM711 372.3v11h1v-11zM716 386.2v1h1v-1zM730 382.2v5h1v-5zM731 378v7.8h1v-7.8zM732 372.5v10.4h1v-10.4zM733 367.9v17h1v-17zM734 373.4v12.3h1v-12.3zM735 379.7v5.5h1v-5.5zM736 377.5v4.7h1v-4.7zM737 367.8v14.3h1v-14.3zM738 375.4v4.7h1v-4.7zM739 379.4v6h1v-6zM740 361.2v21.2h1v-21.2zM741 380.4v2.9h1v-2.9zM742 379.8v3.2h1v-3.2zM743 370.6v13.1h1v-13.1zM744 364.5v18.1h1v-18.1zM745 375.9v5.8h1v-5.8zM747 371.6v13.9h1v-13.9zM748 369.4v12.9h1v-12.9zM749 365.9v14.8h1v-14.8zM750 374.1v11.3h1v-11.3zM751 367.6v15.1h1v-15.1zM752 370.9v13.6h1v-13.6zM753 366v16.7h1v-16.7zM754 374.6v10.3h1v-10.3zM755 378.8v6.1h1v-6.1zM756 379v8.2h1v-8.2zM757 382.5v1.5h1v-1.5zM758 373.9v10.3h1v-10.3zM759 380.7v4.8h1v-4.8zM760 369.1v13.7h1v-13.7zM761 378.6v5.8h1v-5.8zM762 381.5v3.9h1v-3.9zM763 383.2v1.1h1v-1.1zM764 360.4v20.9h1v-20.9zM765 370v9.7h1v-9.7zM766 378.4v6.4h1v-6.4zM767 374.9v9h1v-9zM768 372.5v11.1h1v-11.1zM769 373.3v9.5h1v-9.5zM770 359.7v18.9h1v-18.9zM771 356.4v16.4h1v-16.4zM772 356.7v30.5h1v-30.5zM773 373.9v4.1h1v-4.1zM774 365.7v9.8h1v-9.8zM775 348.8v27.7h1v-27.7zM776 350.4v15.6h1v-15.6zM777 351.3v15.1h1v-15.1zM778 377v1.4h1v-1.4zM779 355.9v22.8h1v-22.8zM781 371.4v9.3h1v-9.3zM782 377.6v5.4h1v-5.4zM783 371.4v11.7h1v-11.7zM784 381.1v1.5h1v-1.5zM785 369.2v13h1v-13zM786 373.5v7h1v-7zM787 375.8v9h1v-9zM788 377.1v6.5h1v-6.5zM789 376.9v5h1v-5zM790 379v6.2h1v-6.2zM791 374.2v8.6h1v-8.6zM792 378.1v6.4h1v-6.4zM793 381.9v1.3h1v-1.3zM794 377.3v6.3h1v-6.3zM796 374.3v12.9h1v-12.9zM797 385.5v1.7h1v-1.7zM798 375.8v11.4h1v-11.4zM799 383.2v4h1v-4zM800 384.8v2.4h1v-2.4zM801 379.7v4.1h1v-4.1zM802 384.7v2.5h1v-2.5zM803 385.8v1.4h1v-1.4zM804 382.3v4.9h1v-4.9zM805 385.8v1.4h1v-1.4zM806 384.1v3.1h1v-3.1zM807 382.4v4.8h1v-4.8zM809 385.8v1.4h1v-1.4zM810 384.5v2.7h1v-2.7zM811 385.4v1.8h1v-1.8zM813 386.3v.9h1v-.9zM814 382.7v.4h1v-.4zM815 378.1v9.1h1v-9.1zM816 376.3v10.9h1v-10.9zM818 384.1v3.1h1v-3.1zM820 386.2v1h1v-1zM821 373.9v13.3h1v-13.3zM822 380.4v6.8h1v-6.8zM823 386v1.2h1v-1.2zM824 380.8v6.4h1v-6.4zM825 384v3.2h1v-3.2zM826 374.7v12.5h1v-12.5zM827 375.6v11.6h1v-11.6zM828 386v1.2h1v-1.2zM830 386.3v.9h1v-.9zM831 374.2v13h1v-13zM832 385.1v2.1h1v-2.1zM833 383.2v4h1v-4zM834 383.4v3.8h1v-3.8zM867 385.3v1.9h1v-1.9zM869 385.6v1.6h1v-1.6zM870 385.2v2h1v-2zM871 386.5v.7h1v-.7zM873 383.8v3.4h1v-3.4zM874 386.4v.8h1v-.8zM875 383.7v3.5h1v-3.5zM876 385.6v1.6h2v-1.6zM878 385v2.2h1v-2.2zM879 385.1v2.1h1v-2.1zM880 385v2.2h1v-2.2zM881 385.8v1.4h1v-1.4zM883 385.5v1.7h1v-1.7zM884 386.8v.4h1v-.4zM885 386v1.2h1v-1.2zM886 383v4.2h1v-4.2zM887 386.7v.5h1v-.5zM888 384.7v2.5h1v-2.5zM889 382.5v4.7h1v-4.7zM890 341.2v44.7h1v-44.7zM891 362.9v22.7h1v-22.7zM892 349.2v31.1h1v-31.1zM893 327.9v47.1h1v-47.1zM894 353.2v30.9h1v-30.9zM895 366.8v20h1v-20zM896 355.4v30.5h1v-30.5zM897 333.7v51.1h1v-51.1zM898 357.5v28.3h1v-28.3zM899 341.8v45.4h1v-45.4zM900 339.2v46.5h1v-46.5zM901 351.9v33.5h1v-33.5zM902 345.7v41.5h1v-41.5zM903 328v54.3h1v-54.3zM904 352.7v33.3h1v-33.3zM905 337.6v47.5h1v-47.5zM906 332.1v53.6h1v-53.6zM907 355.5v31h1v-31zM908 354.1v33.1h1v-33.1zM909 357.8v28.4h1v-28.4zM910 361.3v25.9h1v-25.9zM911 344.7v40.9h1v-40.9zM912 348.2v39h1v-39zM913 347.7v38.2h1v-38.2zM914 332.9v53h1v-53zM915 357v28.8h1v-28.8zM916 348v38.6h1v-38.6zM917 336.6v49.4h1v-49.4zM918 355.3v30.7h1v-30.7zM919 365.3v21.1h1v-21.1zM920 340.3v46.9h1v-46.9zM921 349.7v35.6h1v-35.6zM922 371.6v13.9h1v-13.9zM923 344.6v38.7h1v-38.7zM924 348v39.2h1v-39.2zM925 333.1v54.1h1v-54.1zM926 355.8v30.1h1v-30.1zM927 364.9v22.3h1v-22.3zM928 356.1v29.8h1v-29.8zM929 346.7v39.7h1v-39.7zM930 328.2v58.6h1v-58.6zM931 334.9v50h1v-50zM932 351.2v34.6h1v-34.6zM933 365v19.4h1v-19.4zM934 354.7v32.5h1v-32.5zM935 363.9v13.2h1v-13.2zM936 362.9v20.3h1v-20.3zM937 368.5v13h1v-13zM938 371.9v10h1v-10zM939 366.6v12h1v-12zM940 371.1v12.2h1v-12.2zM941 371.6v13h1v-13zM942 370.1v11.9h1v-11.9zM943 365.8v15.8h1v-15.8zM944 372.1v10.9h1v-10.9zM945 342.9v8.6h1v-8.6z"/>
<path fill="#a6a6a6" d="M88 297.7v52.1h1v-52.1zM89 297.7v47.1h1v-47.1zM90 297.7v44.4h1v-44.4zM91 297.7v44.7h1v-44.7zM92 297.7v39h1v-39zM93 297.7v29.7h1v-29.7zM94 297.7v30.9h1v-30.9zM95 297.7v23.7h1v-23.7zM96 297.7v20.8h1v-20.8zM97 297.7v11.4h1v-11.4zM98 297.8v17.9h1v-17.9zM99 297.7v9.8h1v-9.8zM100 297.7v9.9h1v-9.9zM101 297.8v22.8h1v-22.8zM102 297.7v22.6h1v-22.6zM103 297.8v22.2h1v-22.2zM104 297.8v4h1v-4zM105 297.7v9.5h1v-9.5zM106 297.7v8.3h1v-8.3zM107 297.7v18.4h1v-18.4zM108 297.7v24.1h1v-24.1zM109 297.7v10.2h1v-10.2zM110 297.7v14.9h1v-14.9zM111 297.7v9.7h1v-9.7zM112 297.7v4.6h1v-4.6zM113 297.7v2.4h1v-2.4zM116 297.7v13.6h1v-13.6zM131 297.7v4.1h1v-4.1zM148 297.7v22.6h1v-22.6zM156 297.7v11.6h1v-11.6zM169 297.7v3.8h1v-3.8zM175 297.7v12.7h1v-12.7zM215 297.7v16.5h1v-16.5zM219 297.7v17.8h1v-17.8zM224 297.7v16.9h1v-16.9zM233 297.7v6h1v-6zM245 297.7v4.4h1v-4.4zM246 297.7v22.1h1v-22.1zM251 297.7v19.6h1v-19.6zM254 297.7v8.5h1v-8.5zM265 297.7v15.4h1v-15.4zM266 297.7v16h1v-16zM267 297.7v16.6h1v-16.6zM268 297.7v15.3h1v-15.3zM269 297.7v16.8h1v-16.8zM270 297.7v16h1v-16zM271 297.7v16.9h1v-16.9zM272 297.7v16.2h1v-16.2zM279 297.7v15h1v-15zM284 297.7v7.2h1v-7.2zM286 297.7v5.7h1v-5.7zM296 297.7v3h1v-3zM302 297.7v4.2h1v-4.2zM307 297.7v4.8h1v-4.8zM309 297.7v8h1v-8zM323 297.7v10.5h1v-10.5zM328 297.7v6h1v-6zM341 297.7v14.4h1v-14.4zM342 297.7v7.5h1v-7.5zM343 297.7v15.9h1v-15.9zM360 297.7v14.2h1v-14.2zM368 297.7v13.6h1v-13.6zM374 297.7v21.9h1v-21.9zM375 297.7v8.4h1v-8.4zM377 297.7v15.5h1v-15.5zM378 297.7v14.5h1v-14.5zM384 297.7v22.4h1v-22.4zM390 297.7v9.7h1v-9.7zM393 297.7v3.6h1v-3.6zM396 297.7v7.3h1v-7.3zM399 297.7v8.8h1v-8.8zM400 297.7v7.8h1v-7.8zM403 297.7v9h1v-9zM404 297.7v11.4h1v-11.4zM407 297.7v8.8h1v-8.8zM411 297.7v13.4h1v-13.4zM423 297.7v4.2h1v-4.2zM424 297.7v5.3h1v-5.3zM430 297.8v13.4h1v-13.4zM431 297.7v5.5h2v-5.5zM434 297.7v7.7h1v-7.7zM435 297.8v8.1h1v-8.1zM436 297.8v11h1v-11zM437 297.7v20.2h1v-20.2zM438 297.7v4.3h1v-4.3zM439 297.8v8.2h1v-8.2zM440 297.7v24.5h1v-24.5zM441 297.7v1.3h1v-1.3zM442 297.7v4.5h1v-4.5zM443 297.7v6h1v-6zM444 297.7v9.3h1v-9.3zM445 297.8v10.3h1v-10.3zM446 297.7v3.9h1v-3.9zM447 297.7v4.8h1v-4.8zM448 297.9v20.4h1v-20.4zM449 297.8v3.4h1v-3.4zM450 298.1v12.8h1v-12.8zM451 297.7v3.2h1v-3.2zM452 298v.4h1v-.4zM453 297.7v6.1h1v-6.1zM454 297.7v6.4h1v-6.4zM455 297.7v4h1v-4zM456 297.7v14.8h1v-14.8zM457 297.9v26.1h1v-26.1zM458 297.7v4.3h1v-4.3zM459 297.7v21.9h1v-21.9zM460 297.9v11.8h1v-11.8zM461 297.7v21.6h1v-21.6zM462 297.7v10.2h1v-10.2zM463 298v11.6h1v-11.6zM464 297.7v13.6h1v-13.6zM465 297.7v8h1v-8zM466 297.7v5.6h1v-5.6zM468 297.8v3h1v-3zM469 297.9v11.6h1v-11.6zM470 297.8v4.7h1v-4.7zM471 297.7v16h1v-16zM472 297.7v21.5h1v-21.5zM473 297.7v5.3h1v-5.3zM474 297.8v17.7h1v-17.7zM475 297.7v2.9h1v-2.9zM476 297.8v11h1v-11zM477 297.7v7.8h1v-7.8zM478 297.8v22h1v-22zM479 297.7v4.2h1v-4.2zM480 297.7v19.1h1v-19.1zM481 297.8v13h1v-13zM482 297.9v26.5h1v-26.5zM483 298v11.6h1v-11.6zM484 297.7v9.7h1v-9.7zM485 297.7v7.7h1v-7.7zM486 297.7v10.6h1v-10.6zM487 297.7v11.5h1v-11.5zM488 297.7v4.1h1v-4.1zM489 297.7v11.8h1v-11.8zM490 297.8v5.8h1v-5.8zM491 297.7v13.6h1v-13.6zM492 297.7v9.7h1v-9.7zM493 297.7v8.6h1v-8.6zM494 297.7v23.3h1v-23.3zM495 297.7v5.4h1v-5.4zM496 297.8v8.8h1v-8.8zM497 297.7v1.3h1v-1.3zM498 297.8v11.2h1v-11.2zM499 298v8.6h1v-8.6zM500 297.8v14h1v-14zM501 297.7v2.8h1v-2.8zM502 297.7v23.1h1v-23.1zM503 297.7v8.2h1v-8.2zM504 297.8v8h1v-8zM505 297.7v22.6h1v-22.6zM506 297.7v10h1v-10zM507 297.7v17.2h1v-17.2zM508 297.7v13h1v-13zM509 297.7v8.6h1v-8.6zM510 297.7v7.3h1v-7.3zM511 297.7v18.5h1v-18.5zM512 297.7v6.8h1v-6.8zM513 297.7v25.9h1v-25.9zM514 297.7v13.2h1v-13.2zM515 297.8v13.4h1v-13.4zM516 297.7v20.6h1v-20.6zM517 297.7v6.9h1v-6.9zM518 297.7v12.3h1v-12.3zM519 297.7v18h1v-18zM520 298v9.4h1v-9.4zM521 297.7v23.8h1v-23.8zM522 298v1h1v-1zM524 297.7v9.5h1v-9.5zM525 297.7v9.9h1v-9.9zM526 297.7v14.1h1v-14.1zM527 297.7v8.6h1v-8.6zM528 297.7v20.4h1v-20.4zM529 297.8v31.2h1v-31.2zM530 297.7v31.2h1v-31.2zM531 297.7v26.3h1v-26.3zM532 297.7v23.6h1v-23.6zM533 297.7v21.8h1v-21.8zM534 297.7v25.7h1v-25.7zM535 297.7v11.6h1v-11.6zM536 297.7v30.8h1v-30.8zM537 297.7v42.7h1v-42.7zM538 297.7v37.9h1v-37.9zM539 297.7v28.4h1v-28.4zM540 297.7v30h1v-30zM541 297.7v27.9h1v-27.9zM542 297.7v14.6h1v-14.6zM543 297.7v5.8h1v-5.8zM544 297.7v12.4h1v-12.4zM545 297.7v9.6h1v-9.6zM546 297.8v6.2h1v-6.2zM548 297.7v14.2h1v-14.2zM549 297.8v19.3h1v-19.3zM550 297.8v3.2h1v-3.2zM551 297.7v29.5h1v-29.5zM553 297.7v21.3h1v-21.3zM554 297.7v8.2h1v-8.2zM556 297.7v4.9h1v-4.9zM557 297.7v11.1h1v-11.1zM558 297.7v17.4h1v-17.4zM559 297.7v10.4h1v-10.4zM560 297.7v17.1h1v-17.1zM561 297.7v14.7h1v-14.7zM562 297.7v14.3h1v-14.3zM563 297.7v16.5h1v-16.5zM565 297.7v13.3h1v-13.3zM568 297.7v8.4h1v-8.4zM569 297.7v10.6h1v-10.6zM571 297.7v10.2h1v-10.2zM572 297.8v10h1v-10zM573 297.7v16h1v-16zM575 297.7v17.2h1v-17.2zM576 297.7v6.4h1v-6.4zM577 297.7v13.2h1v-13.2zM578 297.7v11.3h1v-11.3zM579 297.7v5.2h1v-5.2zM580 297.7v10.3h1v-10.3zM583 297.7v6.5h1v-6.5zM584 297.8v28.9h1v-28.9zM585 297.7v32.9h1v-32.9zM586 297.7v24.3h1v-24.3zM587 297.7v45.6h1v-45.6zM588 297.7v54.4h1v-54.4zM589 297.7v46.1h1v-46.1zM592 297.7v1.3h1v-1.3zM593 297.7v8.7h1v-8.7zM594 297.7v6.4h1v-6.4zM595 297.8v9.5h1v-9.5zM596 297.7v9.9h1v-9.9zM597 297.7v24.1h1v-24.1zM599 297.7v14.3h1v-14.3zM600 297.7v6.5h1v-6.5zM603 297.7v9.1h1v-9.1zM605 297.7v18.2h1v-18.2zM606 297.7v11.8h1v-11.8zM607 297.7v27.7h1v-27.7zM608 297.7v27h1v-27zM610 297.7v10.1h1v-10.1zM611 297.7v13h1v-13zM612 297.7v13.1h1v-13.1zM613 297.7v20.9h1v-20.9zM614 297.8v11h1v-11zM616 297.7v9.2h1v-9.2zM617 297.7v5.8h1v-5.8zM618 297.7v2.5h1v-2.5zM619 297.7v26.8h1v-26.8zM620 297.7v19.1h1v-19.1zM622 297.8v17.5h1v-17.5zM623 297.7v6h1v-6zM624 297.7v8.4h1v-8.4zM625 297.7v8.7h1v-8.7zM626 297.7v.8h1v-.8zM627 297.7v7.2h1v-7.2zM628 297.8v18.3h1v-18.3zM629 297.7v12.4h1v-12.4zM630 297.7v9.3h1v-9.3zM631 297.7v2h1v-2zM632 297.7v13.4h1v-13.4zM633 297.8v16.6h1v-16.6zM634 297.7v14.4h1v-14.4zM635 297.7v10.4h1v-10.4zM636 297.7v13.5h1v-13.5zM637 297.7v10.4h1v-10.4zM638 297.7v16.3h1v-16.3zM639 297.7v6.3h1v-6.3zM640 297.7v32.1h1v-32.1zM641 297.7v22.5h1v-22.5zM642 297.7v33.2h1v-33.2zM643 297.7v28.3h1v-28.3zM644 297.7v26.5h1v-26.5zM645 297.7v27.6h1v-27.6zM646 297.7v43.4h1v-43.4zM647 297.7v28.4h1v-28.4zM648 297.7v30.1h1v-30.1zM649 297.7v39.1h1v-39.1zM650 297.7v26.8h1v-26.8zM651 297.7v34.8h1v-34.8zM652 297.7v27.6h1v-27.6zM653 297.7v31h1v-31zM654 297.7v26.9h1v-26.9zM655 297.7v43.2h1v-43.2zM656 297.7v44.6h1v-44.6zM657 297.7v48.3h1v-48.3zM658 297.7v28.9h1v-28.9zM659 297.7v46h1v-46zM660 297.7v30.3h1v-30.3zM661 297.7v34.9h1v-34.9zM662 297.7v30.6h1v-30.6zM663 297.7v30.8h1v-30.8zM664 297.8v31.4h1v-31.4zM665 297.7v34.1h1v-34.1zM666 297.7v21.4h1v-21.4zM667 297.7v41.2h1v-41.2zM668 297.7v28.9h1v-28.9zM669 297.7v27.5h1v-27.5zM670 297.7v24.6h1v-24.6zM671 297.7v48.2h1v-48.2zM672 297.7v39h1v-39zM673 297.7v31.7h1v-31.7zM674 297.7v41.1h1v-41.1zM675 297.7v50.3h1v-50.3zM676 297.7v24h1v-24zM677 297.7v44.5h1v-44.5zM678 297.7v45.4h1v-45.4zM679 297.7v41.5h1v-41.5zM680 297.7v80.8h1v-80.8zM681 297.7v79.6h1v-79.6zM682 297.7v87.7h1v-87.7zM683 297.7v79.7h1v-79.7zM684 297.7v79.4h1v-79.4zM685 297.8v77.5h1v-77.5zM686 297.7v76.2h1v-76.2zM687 297.7v78.5h1v-78.5zM688 297.7v84.5h1v-84.5zM689 297.8v73.8h1v-73.8zM690 297.7v78.6h1v-78.6zM691 297.7v52.1h1v-52.1zM692 297.7v85h1v-85zM693 297.7v78.4h1v-78.4zM694 297.7v76.1h1v-76.1zM695 298v57.3h1v-57.3zM696 297.7v77.1h1v-77.1zM697 297.7v81.5h1v-81.5zM698 297.7v75.1h1v-75.1zM699 297.7v83.7h1v-83.7zM700 297.7v75.4h1v-75.4zM701 297.7v72.5h1v-72.5zM702 297.7v80.9h1v-80.9zM703 297.7v76.1h1v-76.1zM704 297.7v80.3h1v-80.3zM705 297.7v79.4h1v-79.4zM706 297.7v54h1v-54zM707 297.7v76.5h1v-76.5zM708 297.7v85.7h1v-85.7zM709 297.7v75.9h1v-75.9zM710 297.7v82.1h1v-82.1zM711 297.7v74.6h1v-74.6zM712 297.7v89.5h4v-89.5zM716 297.7v88.5h1v-88.5zM717 297.7v89.5h13v-89.5zM730 297.7v84.5h1v-84.5zM731 297.7v80.3h1v-80.3zM732 297.7v74.8h1v-74.8zM733 297.7v70.2h1v-70.2zM734 297.7v75.7h1v-75.7zM735 297.7v82h1v-82zM736 297.7v79.8h1v-79.8zM737 297.7v70.1h1v-70.1zM738 297.8v77.6h1v-77.6zM739 297.7v81.7h1v-81.7zM740 297.7v63.5h1v-63.5zM741 297.7v82.7h1v-82.7zM742 297.7v82.1h1v-82.1zM743 297.7v72.9h1v-72.9zM744 297.7v66.8h1v-66.8zM745 297.8v78.1h1v-78.1zM746 297.7v87.4h1v-87.4zM747 297.7v73.9h1v-73.9zM748 297.7v71.7h1v-71.7zM749 297.7v68.2h1v-68.2zM750 297.7v76.4h1v-76.4zM751 297.7v69.9h1v-69.9zM752 297.7v73.2h1v-73.2zM753 297.7v68.3h1v-68.3zM754 297.7v76.9h1v-76.9zM755 297.7v81.1h1v-81.1zM756 297.7v81.3h1v-81.3zM757 297.7v84.8h1v-84.8zM758 297.7v76.2h1v-76.2zM759 297.8v82.9h1v-82.9zM760 297.7v71.4h1v-71.4zM761 297.8v80.8h1v-80.8zM762 297.8v83.7h1v-83.7zM763 297.7v85.5h1v-85.5zM764 297.7v62.7h1v-62.7zM765 297.7v72.3h1v-72.3zM766 297.7v80.7h1v-80.7zM767 297.7v77.2h1v-77.2zM768 297.8v74.7h1v-74.7zM769 297.8v75.5h1v-75.5zM770 297.7v62h1v-62zM771 297.7v58.7h1v-58.7zM772 297.7v59h1v-59zM773 297.7v76.2h1v-76.2zM774 297.7v68h1v-68zM775 297.7v51.1h1v-51.1zM776 297.7v52.7h1v-52.7zM777 297.7v53.6h1v-53.6zM778 297.7v79.3h1v-79.3zM779 297.8v58.1h1v-58.1zM780 297.7v76.9h1v-76.9zM781 297.7v73.7h1v-73.7zM782 297.7v79.9h1v-79.9zM783 297.7v73.7h1v-73.7zM784 297.7v83.4h1v-83.4zM785 297.7v71.5h1v-71.5zM786 297.7v75.8h1v-75.8zM787 297.7v78.1h1v-78.1zM788 297.7v79.4h1v-79.4zM789 297.7v79.2h1v-79.2zM790 297.7v81.3h1v-81.3zM791 297.7v76.5h1v-76.5zM792 297.7v80.4h1v-80.4zM793 297.7v84.2h1v-84.2zM794 297.7v79.6h1v-79.6zM795 297.7v85.8h1v-85.8zM796 297.7v76.6h1v-76.6zM797 297.7v87.8h1v-87.8zM798 297.7v78.1h1v-78.1zM799 297.7v85.5h1v-85.5zM800 297.7v87.1h1v-87.1zM801 297.7v82h1v-82zM802 297.7v87h1v-87zM803 297.7v88.1h1v-88.1zM804 297.7v84.6h1v-84.6zM805 297.7v88.1h1v-88.1zM806 297.7v86.4h1v-86.4zM807 297.7v84.7h1v-84.7zM808 297.7v89.5h1v-89.5zM809 297.7v88.1h1v-88.1zM810 297.7v86.8h1v-86.8zM811 297.7v87.7h1v-87.7zM812 297.7v89.5h1v-89.5zM813 297.7v88.6h1v-88.6zM814 297.8v84.9h1v-84.9zM815 297.7v80.4h1v-80.4zM816 297.7v78.6h1v-78.6zM817 297.7v89.5h1v-89.5zM818 297.7v86.4h1v-86.4zM819 297.7v89.5h1v-89.5zM820 297.7v88.5h1v-88.5zM821 297.7v76.2h1v-76.2zM822 297.7v82.7h1v-82.7zM823 297.7v88.3h1v-88.3zM824 297.7v83.1h1v-83.1zM825 297.7v86.3h1v-86.3zM826 297.7v77h1v-77zM827 297.7v77.9h1v-77.9zM828 297.7v88.3h1v-88.3zM829 297.7v89.5h1v-89.5zM830 297.7v88.6h1v-88.6zM831 297.7v76.5h1v-76.5zM832 297.7v87.4h1v-87.4zM833 297.7v85.5h1v-85.5zM834 297.7v85.7h1v-85.7zM835 297.7v89.5h32v-89.5zM867 297.7v87.6h1v-87.6zM868 298v89.2h1v-89.2zM869 297.7v87.9h1v-87.9zM870 297.7v87.5h1v-87.5zM871 297.7v88.8h1v-88.8zM872 297.7v89.5h1v-89.5zM873 297.7v86.1h1v-86.1zM874 297.7v88.7h1v-88.7zM875 297.7v86h1v-86zM876 297.7v87.9h2v-87.9zM878 297.7v87.3h1v-87.3zM879 297.7v87.4h1v-87.4zM880 297.7v87.3h1v-87.3zM881 297.7v88.1h1v-88.1zM882 297.7v89.5h1v-89.5zM883 297.7v87.8h1v-87.8zM884 297.7v89.1h1v-89.1zM885 297.7v88.3h1v-88.3zM886 297.7v85.3h1v-85.3zM887 297.7v89h1v-89zM888 297.7v87h1v-87zM889 297.7v84.8h1v-84.8zM890 297.7v43.5h1v-43.5zM891 297.7v65.2h1v-65.2zM892 297.7v51.5h1v-51.5zM893 297.7v30.2h1v-30.2zM894 297.7v55.5h1v-55.5zM895 297.7v69.1h1v-69.1zM896 297.7v57.7h1v-57.7zM897 297.8v35.9h1v-35.9zM898 297.7v59.8h1v-59.8zM899 297.8v44h1v-44zM900 297.7v41.5h1v-41.5zM901 297.8v54.1h1v-54.1zM902 297.7v48h1v-48zM903 297.7v30.3h1v-30.3zM904 297.7v55h1v-55zM905 297.7v39.9h1v-39.9zM906 297.7v34.4h1v-34.4zM907 297.7v57.8h1v-57.8zM908 297.7v56.4h1v-56.4zM909 297.7v60.1h1v-60.1zM910 298v63.3h1v-63.3zM911 297.7v47h1v-47zM912 297.7v50.5h1v-50.5zM913 297.7v50h1v-50zM914 297.7v35.2h1v-35.2zM915 297.7v59.3h1v-59.3zM916 297.7v50.3h1v-50.3zM917 297.7v38.9h1v-38.9zM918 297.8v57.5h1v-57.5zM919 297.7v67.6h1v-67.6zM920 297.7v42.6h1v-42.6zM921 297.7v52h1v-52zM922 297.7v73.9h1v-73.9zM923 297.7v46.9h1v-46.9zM924 297.8v50.2h1v-50.2zM925 297.9v35.2h1v-35.2zM926 297.7v58.1h1v-58.1zM927 297.7v67.2h1v-67.2zM928 297.7v58.4h1v-58.4zM929 297.7v49h1v-49zM930 297.8v30.4h1v-30.4zM931 297.7v37.2h1v-37.2zM932 297.7v53.5h1v-53.5zM933 297.8v67.2h1v-67.2zM934 297.7v57h1v-57zM935 297.7v66.2h1v-66.2zM936 297.7v65.2h1v-65.2zM937 297.7v70.8h1v-70.8zM938 297.7v74.2h1v-74.2zM939 297.7v68.9h1v-68.9zM940 297.7v73.4h1v-73.4zM941 297.7v73.9h1v-73.9zM942 297.7v72.4h1v-72.4zM943 297.7v68.1h1v-68.1zM944 297.7v74.4h1v-74.4zM945 297.7v45.2h1v-45.2z"/>
<path fill="#4a74c2" d="M97 505.9v7.1h1v-7.1zM98 507.9v5.1h1v-5.1zM99 510v3h1v-3zM100 511.6v1.4h1v-1.4zM101 511.9v1.1h1v-1.1zM102 505.5v7.5h1v-7.5zM104 512v1h1v-1zM105 509.2v3.8h1v-3.8zM106 510.7v2.3h1v-2.3zM680 509.8v3.2h1v-3.2zM681 511.1v1.9h1v-1.9zM682 512.5v.5h1v-.5zM683 509.9v3.1h1v-3.1zM684 511.2v1.8h1v-1.8zM685 508.6v4.4h1v-4.4zM686 512.4v.6h1v-.6zM687 511v2h1v-2zM688 510v3h1v-3zM689 512.2v.8h1v-.8zM690 512.5v.5h1v-.5zM691 509.5v3.5h1v-3.5zM692 510.3v2.7h1v-2.7zM694 510.7v2.3h1v-2.3zM695 509.4v3.6h1v-3.6zM696 509.5v3.5h1v-3.5zM698 510v3h1v-3zM699 508.5v4.5h1v-4.5zM700 509.5v3.5h1v-3.5zM701 512v1h1v-1zM703 511.7v1.3h1v-1.3zM704 512.3v.7h1v-.7zM705 512.2v.8h1v-.8zM712 481.7v31.3h1v-31.3zM713 476.6v36.4h1v-36.4zM714 477.3v35.7h1v-35.7zM715 488.1v24.9h1v-24.9zM716 488.3v24.7h1v-24.7zM717 474.9v38.1h1v-38.1zM718 480.1v32.9h1v-32.9zM719 469.5v43.5h1v-43.5zM720 487.8v25.2h1v-25.2zM721 464.3v48.7h1v-48.7zM722 463.7v49.3h1v-49.3zM723 465.2v47.8h1v-47.8zM724 467.7v45.3h1v-45.3zM725 472.4v40.6h1v-40.6zM726 462.3v50.7h1v-50.7zM727 464.4v48.6h1v-48.6zM728 474.1v38.9h1v-38.9zM729 467v46h1v-46zM730 472.1v40.9h1v-40.9zM731 489.4v23.6h1v-23.6zM732 489.5v23.5h1v-23.5zM733 488.6v24.4h1v-24.4zM734 494.4v18.6h1v-18.6zM735 491.7v21.3h1v-21.3zM736 497.1v15.9h1v-15.9zM737 499.4v13.6h1v-13.6zM738 489.3v23.7h1v-23.7zM739 497.3v15.7h1v-15.7zM740 498.5v14.5h1v-14.5zM741 500.2v12.8h1v-12.8zM742 499.6v13.4h1v-13.4zM743 501.3v11.7h1v-11.7zM744 508.4v4.6h1v-4.6zM745 492.4v20.6h1v-20.6zM746 499.4v13.6h1v-13.6zM747 509v4h1v-4zM748 507.9v5.1h1v-5.1zM749 497.7v15.3h1v-15.3zM750 504.7v8.3h1v-8.3zM751 511.2v1.8h1v-1.8zM753 509.4v3.6h1v-3.6zM754 505.3v7.7h1v-7.7zM755 511.5v1.5h1v-1.5zM756 498.8v14.2h1v-14.2zM757 505.1v7.9h1v-7.9zM760 504.7v8.3h1v-8.3zM761 511.8v1.2h1v-1.2zM762 504.1v8.9h1v-8.9zM763 506.8v6.2h1v-6.2zM764 505.7v7.3h1v-7.3zM765 510.6v2.4h1v-2.4zM766 510.1v2.9h1v-2.9zM767 506.6v6.4h1v-6.4zM768 505.6v7.4h1v-7.4zM769 508.7v4.3h1v-4.3zM830 502.4v10.6h1v-10.6zM831 503.5v9.5h1v-9.5zM832 496.2v16.8h1v-16.8zM833 484.6v28.4h1v-28.4zM834 468.6v44.4h1v-44.4zM835 449.4v63.6h1v-63.6zM836 460v53h1v-53zM837 472.4v40.6h1v-40.6zM838 487.1v25.9h1v-25.9zM839 477.1v35.9h1v-35.9zM840 471.6v41.4h1v-41.4zM841 422.1v90.9h1v-90.9zM842 417.4v95.6h1v-95.6zM843 418.5v94.5h1v-94.5zM844 418.9v94.1h1v-94.1zM845 418.8v94.2h1v-94.2zM846 418.6v94.4h1v-94.4zM847 419.1v93.9h1v-93.9zM848 419.5v93.5h1v-93.5zM849 417.4v95.6h1v-95.6zM850 418v95h1v-95zM851 441.9v71.1h1v-71.1zM852 417.9v95.1h1v-95.1zM853 419.9v93.1h1v-93.1zM854 417.9v95.1h2v-95.1zM856 417.4v95.6h1v-95.6zM857 417.7v95.3h1v-95.3zM858 418.1v94.9h1v-94.9zM859 418.3v94.7h1v-94.7zM860 418v95h1v-95zM861 420v93h1v-93zM862 417.4v95.6h1v-95.6zM863 417.9v95.1h1v-95.1zM864 418.5v94.5h1v-94.5zM865 417.4v95.6h2v-95.6zM867 420v93h1v-93zM868 474.5v38.5h1v-38.5zM869 479.1v33.9h1v-33.9zM870 474v39h1v-39zM871 475v38h1v-38zM872 476.8v36.2h1v-36.2zM873 476.4v36.6h1v-36.6zM874 474.8v38.2h1v-38.2zM875 469.6v43.4h1v-43.4zM876 449.7v63.3h1v-63.3zM877 464v49h1v-49zM878 461.1v51.9h1v-51.9zM879 448v65h1v-65zM880 440.6v72.4h1v-72.4zM881 449.1v63.9h1v-63.9zM882 453.5v59.5h1v-59.5zM883 467.7v45.3h1v-45.3zM884 461.9v51.1h1v-51.1zM885 462.9v50.1h1v-50.1zM886 469v44h1v-44zM887 472.4v40.6h1v-40.6zM888 475.9v37.1h1v-37.1zM889 464.8v48.2h1v-48.2zM890 479.5v33.5h1v-33.5zM891 481.8v31.2h1v-31.2zM892 471.4v41.6h1v-41.6zM893 474.5v38.5h1v-38.5zM894 480.6v32.4h1v-32.4zM895 473.9v39.1h1v-39.1zM896 470.1v42.9h1v-42.9zM897 479.3v33.7h1v-33.7zM898 474.5v38.5h1v-38.5zM899 470v43h1v-43zM901 511.6v1.4h1v-1.4zM903 508.7v4.3h2v-4.3zM906 510.4v2.6h1v-2.6zM907 511.2v1.8h1v-1.8zM908 500.6v12.4h1v-12.4zM909 485.9v27.1h1v-27.1zM910 489.2v23.8h1v-23.8zM911 492.5v20.5h1v-20.5zM912 499.3v13.7h1v-13.7zM913 486.6v26.4h1v-26.4zM914 490.6v22.4h1v-22.4zM915 483.8v29.2h1v-29.2zM916 483v30h1v-30zM917 495.1v17.9h1v-17.9zM918 494.9v18.1h1v-18.1zM919 495.4v17.6h1v-17.6zM920 492.7v20.3h1v-20.3zM921 506.6v6.4h1v-6.4zM922 495v18h1v-18zM923 476.7v36.3h1v-36.3zM924 491.6v21.4h1v-21.4zM925 499.4v13.6h1v-13.6zM926 489.7v23.3h1v-23.3zM927 479.6v33.4h1v-33.4zM928 486.6v26.4h1v-26.4zM929 484.9v28.1h1v-28.1zM930 500.7v12.3h1v-12.3zM931 495.5v17.5h1v-17.5zM932 501.4v11.6h1v-11.6zM933 505.9v7.1h1v-7.1zM934 505.6v7.4h1v-7.4zM935 505.7v7.3h1v-7.3zM937 509.3v3.7h1v-3.7zM940 509.3v3.7h1v-3.7zM943 511.7v1.3h1v-1.3zM945 509.9v3.1h1v-3.1z"/>
<path fill="#e08242" d="M168 504.6v8.4h1v-8.4zM169 506.7v6.3h1v-6.3zM170 505.8v7.2h1v-7.2zM171 507.7v5.3h1v-5.3zM172 504.6v8.4h1v-8.4zM173 508.6v4.4h1v-4.4zM174 510.2v2.8h1v-2.8zM175 512v1h1v-1zM176 504v9h1v-9zM177 498.7v14.3h1v-14.3zM210 509.3v3.7h1v-3.7zM211 511.9v1.1h1v-1.1zM212 510.5v2.5h1v-2.5zM213 508.2v4.8h1v-4.8zM214 510.5v2.5h1v-2.5zM215 508.4v4.6h1v-4.6zM216 508.1v4.9h1v-4.9zM217 508v5h1v-5zM219 509.2v3.8h1v-3.8zM220 506v7h1v-7zM221 506.2v6.8h1v-6.8zM223 509.3v3.7h1v-3.7zM224 509.9v3.1h1v-3.1zM225 506.9v6.1h1v-6.1zM226 508.5v4.5h1v-4.5zM227 506.7v6.3h1v-6.3zM228 507.6v5.4h1v-5.4zM229 512.1v.9h1v-.9zM231 508.1v4.9h2v-4.9zM233 503.2v9.8h1v-9.8zM234 505.1v7.9h1v-7.9zM236 508.6v4.4h1v-4.4zM237 510.3v2.7h1v-2.7zM238 507v6h1v-6zM239 507.5v5.5h1v-5.5zM240 511.6v1.4h1v-1.4zM242 510.6v2.4h1v-2.4zM244 512.3v.7h1v-.7zM246 512.5v.5h1v-.5zM247 511.4v1.6h1v-1.6zM248 510.5v2.5h1v-2.5zM251 512.2v.8h1v-.8zM252 511.3v1.7h1v-1.7zM253 512.3v.7h1v-.7zM254 510.8v2.2h1v-2.2zM258 511.1v1.9h1v-1.9zM259 512.4v.6h1v-.6zM261 510v3h1v-3zM262 512.4v.6h1v-.6zM263 511.3v1.7h1v-1.7zM434 505.9v7.1h1v-7.1zM435 498.5v14.5h1v-14.5zM436 503.3v9.7h1v-9.7zM437 500.2v12.8h1v-12.8zM438 500.1v12.9h1v-12.9zM439 503.1v9.9h1v-9.9zM440 502.2v10.8h1v-10.8zM442 512.3v.7h1v-.7zM444 512v1h1v-1zM445 510.9v2.1h1v-2.1zM446 511.5v1.5h1v-1.5zM447 512.3v.7h1v-.7zM453 512.3v.7h1v-.7zM456 512v1h1v-1zM457 512.1v.9h1v-.9zM458 512.4v.6h1v-.6zM459 512.2v.8h1v-.8zM460 511.9v1.1h1v-1.1zM461 512.2v.8h1v-.8zM464 511.7v1.3h1v-1.3zM465 511v2h1v-2zM466 512.2v.8h1v-.8zM467 512.5v.5h2v-.5zM471 511.6v1.4h1v-1.4zM472 512.5v.5h1v-.5zM473 511.4v1.6h1v-1.6zM474 511.8v1.2h1v-1.2zM476 511.8v1.2h1v-1.2zM477 512.4v.6h1v-.6zM478 510.3v2.7h1v-2.7zM482 512.5v.5h1v-.5zM483 512.6v.4h1v-.4zM485 511.1v1.9h1v-1.9zM486 512.3v.7h1v-.7zM490 512.3v.7h1v-.7zM492 511.3v1.7h1v-1.7zM493 512.3v.7h1v-.7zM497 512.3v.7h1v-.7zM501 512.4v.6h1v-.6zM502 511.4v1.6h1v-1.6zM503 511.8v1.2h1v-1.2zM505 508.6v4.4h1v-4.4zM506 508.4v4.6h1v-4.6zM508 506.7v6.3h1v-6.3zM509 512.4v.6h1v-.6zM510 508v5h1v-5zM511 510.2v2.8h1v-2.8zM512 508.8v4.2h1v-4.2zM513 503.6v9.4h1v-9.4zM514 508.8v4.2h1v-4.2zM515 505.1v7.9h1v-7.9zM516 505.5v7.5h1v-7.5zM517 511.5v1.5h1v-1.5zM520 510.2v2.8h1v-2.8zM521 510.4v2.6h1v-2.6zM522 508.6v4.4h1v-4.4zM523 510v3h1v-3zM524 506.4v6.6h1v-6.6zM525 506.5v6.5h1v-6.5zM527 510.5v2.5h1v-2.5zM528 509.9v3.1h1v-3.1zM529 511.5v1.5h1v-1.5zM531 511.5v1.5h1v-1.5zM532 512.5v.5h1v-.5zM533 509.8v3.2h1v-3.2zM534 504.6v8.4h1v-8.4zM535 508.3v4.7h1v-4.7zM536 507.7v5.3h1v-5.3zM537 511.1v1.9h1v-1.9zM538 505.9v7.1h1v-7.1zM540 477.8v35.2h1v-35.2zM541 493.6v19.4h1v-19.4zM542 489.3v23.7h1v-23.7zM543 483.5v29.5h1v-29.5zM544 494.1v18.9h1v-18.9zM545 485v28h1v-28zM546 493.2v19.8h1v-19.8zM547 483.5v29.5h1v-29.5zM592 507.1v5.9h1v-5.9zM593 506.6v6.4h1v-6.4zM596 509.6v3.4h1v-3.4zM597 509.3v3.7h1v-3.7zM599 507.1v5.9h1v-5.9zM600 507.4v5.6h1v-5.6zM603 506v7h1v-7zM605 508.5v4.5h1v-4.5zM606 510.9v2.1h1v-2.1zM607 499.7v13.3h1v-13.3zM608 509.4v3.6h1v-3.6zM609 509.3v3.7h1v-3.7zM610 506.2v6.8h1v-6.8zM611 502.9v10.1h1v-10.1zM612 512.5v.5h1v-.5zM614 510.4v2.6h1v-2.6zM615 510.2v2.8h1v-2.8zM617 511.4v1.6h1v-1.6zM618 510.4v2.6h1v-2.6zM619 504.7v8.3h1v-8.3zM620 505.6v7.4h1v-7.4zM623 510.2v2.8h1v-2.8zM625 512.2v.8h1v-.8zM627 506.1v6.9h1v-6.9zM630 504.3v8.7h1v-8.7zM631 504.4v8.6h1v-8.6zM632 510.8v2.2h1v-2.2zM633 505.3v7.7h1v-7.7zM635 507v6h1v-6zM636 512.1v.9h1v-.9zM637 511.5v1.5h1v-1.5zM639 511.9v1.1h1v-1.1zM640 418.8v94.2h1v-94.2zM641 418.9v94.1h1v-94.1zM642 418.1v94.9h1v-94.9zM643 418.3v94.7h1v-94.7zM644 418.4v94.6h1v-94.6zM645 418.6v94.4h1v-94.4zM646 418.2v94.8h1v-94.8zM647 419.1v93.9h1v-93.9zM648 418.5v94.5h1v-94.5zM649 418.6v94.4h1v-94.4zM650 418.1v94.9h1v-94.9zM651 417.6v95.4h1v-95.4zM652 418.5v94.5h1v-94.5zM653 460.3v52.7h1v-52.7zM654 478.5v34.5h1v-34.5zM655 457.5v55.5h1v-55.5zM656 488.3v24.7h1v-24.7zM657 480.9v32.1h1v-32.1zM658 478.6v34.4h1v-34.4zM667 483.9v29.1h1v-29.1zM668 486.2v26.8h1v-26.8zM669 490.3v22.7h1v-22.7zM670 486.1v26.9h1v-26.9zM671 492.7v20.3h1v-20.3zM672 492.8v20.2h1v-20.2zM673 488.6v24.4h1v-24.4zM674 486.6v26.4h1v-26.4zM675 490.5v22.5h1v-22.5zM676 482.7v30.3h1v-30.3zM677 489v24h1v-24zM678 482.1v30.9h1v-30.9zM679 486.1v26.9h1v-26.9z"/>
<path fill="#a6a6a6" d="M434 501.5v4.4h1v-4.4zM435 489.8v8.7h1v-8.7zM436 499.2v4.1h1v-4.1zM437 496.3v3.9h1v-3.9zM438 495.3v4.8h1v-4.8zM439 494.3v8.8h1v-8.8zM440 500.2v2h1v-2zM586 494.4v18.6h1v-18.6zM587 498.1v14.9h1v-14.9zM588 459.9v53.1h1v-53.1zM589 478.1v34.9h1v-34.9zM590 468.6v44.4h1v-44.4zM706 488.7v24.3h1v-24.3zM707 498.1v14.9h1v-14.9zM708 486.1v26.9h1v-26.9zM709 500v13h1v-13zM710 501.2v11.8h1v-11.8zM711 489v24h1v-24zM713 472.9v3.7h1v-3.7zM714 473.7v3.6h1v-3.6zM715 485.1v3h1v-3zM717 473.8v1.1h1v-1.1zM718 474.5v5.6h1v-5.6zM719 463.7v5.8h1v-5.8zM720 485.9v1.9h1v-1.9zM721 463.2v1.1h1v-1.1zM722 462.5v1.2h1v-1.2zM723 456.7v8.5h1v-8.5zM724 464.2v3.5h1v-3.5zM725 471.3v1.1h1v-1.1zM726 460.6v1.7h1v-1.7zM727 461.2v3.2h1v-3.2zM729 465.3v1.7h1v-1.7zM730 467.8v4.3h1v-4.3zM731 483.7v5.7h1v-5.7zM732 483.7v5.8h1v-5.8zM733 486.5v2.1h1v-2.1zM734 492.7v1.7h1v-1.7zM735 482.3v9.4h1v-9.4zM736 490.7v6.4h1v-6.4zM737 489.1v10.3h1v-10.3zM738 477.3v12h1v-12zM740 489.7v8.8h1v-8.8zM741 488.7v11.5h1v-11.5zM742 491.6v8h1v-8zM743 500.2v1.1h1v-1.1zM744 494.9v13.5h1v-13.5zM746 490.7v8.7h1v-8.7zM747 507.7v1.3h1v-1.3zM748 501.9v6h1v-6zM749 484.8v12.9h1v-12.9zM750 501.1v3.6h1v-3.6zM751 501.8v9.4h1v-9.4zM752 504.7v8.3h1v-8.3zM753 503v6.4h1v-6.4zM755 496.9v14.6h1v-14.6zM756 491v7.8h1v-7.8zM757 498v7.1h1v-7.1zM758 502.8v10.2h1v-10.2zM759 503.5v9.5h1v-9.5zM760 503.5v1.2h1v-1.2zM761 508.6v3.2h1v-3.2zM762 497.7v6.4h1v-6.4zM763 496.2v10.6h1v-10.6zM764 494.8v10.9h1v-10.9zM765 503.2v7.4h1v-7.4zM766 496.8v13.3h1v-13.3zM767 495.9v10.7h1v-10.7zM768 503v2.6h1v-2.6zM770 496.6v16.4h1v-16.4zM771 489.8v23.2h1v-23.2zM772 496.2v16.8h1v-16.8zM773 493.2v19.8h1v-19.8zM774 499.6v13.4h1v-13.4zM775 506.6v6.4h2v-6.4zM777 501.7v11.3h1v-11.3zM778 507.9v5.1h1v-5.1zM779 501.6v11.4h1v-11.4zM805 500.4v12.6h1v-12.6zM808 499.5v13.5h1v-13.5zM809 507v6h1v-6zM834 461.1v7.5h1v-7.5zM835 441.5v7.9h1v-7.9zM836 446.9v13.1h1v-13.1zM837 460v12.4h1v-12.4zM838 463.2v23.9h1v-23.9zM839 461.3v15.8h1v-15.8zM840 462.9v8.7h1v-8.7zM868 452.5v22h1v-22zM869 457.6v21.5h1v-21.5zM870 452v22h1v-22zM871 453.1v21.9h1v-21.9zM872 450.9v25.9h1v-25.9zM873 451.3v25.1h1v-25.1zM874 451.2v23.6h1v-23.6zM875 468.1v1.5h1v-1.5zM876 442.4v7.3h1v-7.3zM877 459.8v4.2h1v-4.2zM878 451.5v9.6h1v-9.6zM879 437.1v10.9h1v-10.9zM880 436.7v3.9h1v-3.9zM881 448.5v.6h1v-.6zM882 451.5v2h1v-2zM883 457.6v10.1h1v-10.1zM884 457.6v4.3h1v-4.3zM885 460.3v2.6h1v-2.6zM909 484.2v1.7h1v-1.7zM910 487.4v1.8h1v-1.8zM911 486.9v5.6h1v-5.6zM912 496.4v2.9h1v-2.9zM913 484.9v1.7h1v-1.7zM914 489.1v1.5h1v-1.5zM915 482v1.8h1v-1.8zM917 493.5v1.6h1v-1.6zM919 493.7v1.7h1v-1.7zM920 489.2v3.5h1v-3.5zM921 501.3v5.3h1v-5.3zM924 485v6.6h1v-6.6zM925 493.4v6h1v-6zM926 489.1v.6h1v-.6zM927 474.2v5.4h1v-5.4zM929 480.6v4.3h1v-4.3zM930 496.1v4.6h1v-4.6zM931 492.3v3.2h1v-3.2zM932 421.6v79.8h1v-79.8zM933 423.6v82.3h1v-82.3zM934 420.7v84.9h1v-84.9zM935 421.5v84.2h1v-84.2zM936 421.8v91.2h1v-91.2zM937 420.9v88.4h1v-88.4zM938 419.5v93.5h1v-93.5zM939 423v90h1v-90zM940 418.2v91.1h1v-91.1zM941 421.9v91.1h1v-91.1zM942 418.8v94.2h1v-94.2zM943 419.5v92.2h1v-92.2zM944 418.5v94.5h1v-94.5zM945 423.2v86.7h1v-86.7z"/>
<path fill="#f4bc42" d="M88 507.3v5.7h1v-5.7zM89 503.3v9.7h1v-9.7zM90 512v1h1v-1zM91 505.3v7.7h1v-7.7zM92 512.6v.4h1v-.4zM93 512.4v.6h1v-.6zM94 503.5v9.5h1v-9.5zM95 505.2v7.8h1v-7.8zM96 505.4v7.6h1v-7.6zM115 511.1v1.9h1v-1.9zM116 511.7v1.3h1v-1.3zM117 511.5v1.5h1v-1.5zM119 510.9v2.1h1v-2.1zM120 510.8v2.2h2v-2.2zM122 511.7v1.3h1v-1.3zM123 512.5v.5h1v-.5zM124 511.4v1.6h1v-1.6zM127 511.4v1.6h1v-1.6zM128 512.2v.8h1v-.8zM152 511.6v1.4h1v-1.4zM153 512.5v.5h1v-.5zM154 512v1h1v-1zM155 511.9v1.1h1v-1.1zM158 512.5v.5h1v-.5zM159 509.8v3.2h1v-3.2zM160 510.9v2.1h1v-2.1zM163 511.3v1.7h2v-1.7zM165 512v1h1v-1zM179 493.7v19.3h1v-19.3zM210 507.7v1.6h1v-1.6zM211 508.9v3h1v-3zM212 508.8v1.7h1v-1.7zM214 503.5v7h1v-7zM215 506.9v1.5h1v-1.5zM216 505.8v2.3h1v-2.3zM218 511.6v1.4h1v-1.4zM219 508.5v.7h1v-.7zM220 505.4v.6h1v-.6zM222 509.8v3.2h1v-3.2zM224 509.3v.6h1v-.6zM225 505.7v1.2h1v-1.2zM226 506.5v2h1v-2zM227 503.7v3h1v-3zM228 505.2v2.4h1v-2.4zM229 510.6v1.5h1v-1.5zM231 507.4v.7h1v-.7zM232 506.9v1.2h1v-1.2zM233 500v3.2h1v-3.2zM235 512.5v.5h1v-.5zM236 506.1v2.5h1v-2.5zM237 508.2v2.1h1v-2.1zM238 503.7v3.3h1v-3.3zM239 504.1v3.4h1v-3.4zM240 511.2v.4h1v-.4zM242 509.6v1h1v-1zM243 512.1v.9h1v-.9zM245 511.6v1.4h1v-1.4zM246 512v.5h1v-.5zM247 510.7v.7h1v-.7zM249 511.2v1.8h1v-1.8zM251 510.9v1.3h1v-1.3zM252 510.3v1h1v-1zM256 511.5v1.5h1v-1.5zM258 510.5v.6h1v-.6zM262 511.5v.9h1v-.9zM263 510.5v.8h1v-.8zM264 510.2v2.8h1v-2.8zM275 511.5v1.5h1v-1.5zM276 512.4v.6h1v-.6zM278 510.2v2.8h1v-2.8zM280 511.7v1.3h1v-1.3zM281 512.6v.4h1v-.4zM282 511.6v1.4h1v-1.4zM284 511.3v1.7h1v-1.7zM285 512.2v.8h1v-.8zM286 512.1v.9h1v-.9zM287 511.7v1.3h1v-1.3zM288 512.6v.4h1v-.4zM289 510.5v2.5h1v-2.5zM290 512.6v.4h1v-.4zM292 511.7v1.3h1v-1.3zM294 511.3v1.7h1v-1.7zM295 512.1v.9h1v-.9zM296 511.1v1.9h1v-1.9zM297 511.5v1.5h1v-1.5zM303 512v1h1v-1zM304 512.5v.5h1v-.5zM308 511.2v1.8h1v-1.8zM312 512.2v.8h1v-.8zM313 511.9v1.1h1v-1.1zM316 511.5v1.5h2v-1.5zM319 511.4v1.6h1v-1.6zM320 511.2v1.8h1v-1.8zM322 511.7v1.3h1v-1.3zM324 511.8v1.2h1v-1.2zM325 512.3v.7h1v-.7zM326 512v1h1v-1zM328 512.5v.5h1v-.5zM332 512.3v.7h1v-.7zM333 511.5v1.5h1v-1.5zM441 510.8v2.2h1v-2.2zM442 511.7v.6h1v-.6zM443 511.4v1.6h1v-1.6zM444 510.4v1.6h1v-1.6zM446 510.9v.6h1v-.6zM447 508.8v3.5h1v-3.5zM450 511.5v1.5h1v-1.5zM451 512.2v.8h1v-.8zM452 511.3v1.7h1v-1.7zM453 510.3v2h1v-2zM455 511.7v1.3h1v-1.3zM457 510.6v1.5h1v-1.5zM458 511.2v1.2h1v-1.2zM459 510.5v1.7h1v-1.7zM460 509.5v2.4h1v-2.4zM462 512v1h1v-1zM463 512.5v.5h1v-.5zM464 509.9v1.8h1v-1.8zM465 510.1v.9h1v-.9zM466 510.8v1.4h1v-1.4zM468 511.3v1.2h1v-1.2zM469 511.1v1.9h1v-1.9zM470 512.4v.6h1v-.6zM471 510.8v.8h1v-.8zM473 510.6v.8h1v-.8zM474 511.3v.5h1v-.5zM477 510.5v1.9h1v-1.9zM478 509.7v.6h1v-.6zM479 512.2v.8h1v-.8zM480 512v1h1v-1zM482 510.8v1.7h1v-1.7zM483 509.6v3h1v-3zM485 509.1v2h1v-2zM486 510.9v1.4h1v-1.4zM487 510.9v2.1h1v-2.1zM490 510.7v1.6h1v-1.6zM491 510.3v2.7h1v-2.7zM492 508.6v2.7h1v-2.7zM494 511.6v1.4h1v-1.4zM495 512.2v.8h1v-.8zM497 511.3v1h1v-1zM498 512.3v.7h1v-.7zM499 511.4v1.6h1v-1.6zM500 512.3v.7h1v-.7zM502 509.5v1.9h1v-1.9zM503 509.4v2.4h1v-2.4zM504 511.4v1.6h1v-1.6zM505 503.1v5.5h1v-5.5zM506 506.6v1.8h1v-1.8zM507 506.2v6.8h1v-6.8zM508 500.5v6.2h1v-6.2zM509 510.3v2.1h1v-2.1zM510 503.2v4.8h1v-4.8zM511 505.6v4.6h1v-4.6zM513 496.9v6.7h1v-6.7zM514 506.8v2h1v-2zM515 498.7v6.4h1v-6.4zM516 504.1v1.4h1v-1.4zM518 511.5v1.5h1v-1.5zM520 505.8v4.4h1v-4.4zM522 505.9v2.7h1v-2.7zM525 500.9v5.6h1v-5.6zM526 510.8v2.2h1v-2.2zM527 506.9v3.6h1v-3.6zM529 507.8v3.7h1v-3.7zM530 504.8v8.2h1v-8.2zM531 505.5v6h1v-6zM532 511.6v.9h1v-.9zM533 507.5v2.3h1v-2.3zM534 500.4v4.2h1v-4.2zM535 505.4v2.9h1v-2.9zM537 506.3v4.8h1v-4.8zM538 502.9v3h1v-3zM539 510.7v2.3h1v-2.3zM540 465.3v12.5h1v-12.5zM541 485.5v8.1h1v-8.1zM542 477.4v11.9h1v-11.9zM543 461.8v21.7h1v-21.7zM544 486.3v7.8h1v-7.8zM545 475.4v9.6h1v-9.6zM546 492.1v1.1h1v-1.1zM547 476.3v7.2h1v-7.2zM548 505v8h1v-8zM549 511.7v1.3h1v-1.3zM550 504.2v8.8h1v-8.8zM551 512.3v.7h1v-.7zM552 504.3v8.7h1v-8.7zM553 504.5v8.5h1v-8.5zM554 507.6v5.4h1v-5.4zM556 506.2v6.8h1v-6.8zM557 507.9v5.1h1v-5.1zM558 508.9v4.1h1v-4.1zM560 512.5v.5h1v-.5zM562 510.5v2.5h1v-2.5zM564 509.5v3.5h1v-3.5zM566 506.3v6.7h1v-6.7zM567 509.8v3.2h1v-3.2zM568 510.8v2.2h1v-2.2zM569 509.5v3.5h1v-3.5zM570 509.8v3.2h1v-3.2zM571 511.6v1.4h1v-1.4zM572 507.5v5.5h1v-5.5zM574 507.7v5.3h1v-5.3zM575 509.8v3.2h1v-3.2zM576 506.8v6.2h1v-6.2zM577 507.9v5.1h1v-5.1zM578 509.9v3.1h1v-3.1zM579 510.8v2.2h1v-2.2zM580 512.3v.7h1v-.7zM581 512.6v.4h1v-.4zM582 509.1v3.9h1v-3.9zM583 512.3v.7h1v-.7zM584 507.2v5.8h1v-5.8zM585 508.7v4.3h1v-4.3zM591 507.9v5.1h1v-5.1zM592 502.1v5h1v-5zM596 506.7v2.9h1v-2.9zM601 509.6v3.4h1v-3.4zM602 508.9v4.1h1v-4.1zM603 504.2v1.8h1v-1.8zM604 509.7v3.3h1v-3.3zM607 493v6.7h1v-6.7zM608 503.2v6.2h1v-6.2zM609 508.5v.8h1v-.8zM610 501.2v5h1v-5zM611 501.1v1.8h1v-1.8zM613 512.1v.9h1v-.9zM614 496.3v14.1h1v-14.1zM615 505.8v4.4h1v-4.4zM616 511.9v1.1h1v-1.1zM617 509.1v2.3h1v-2.3zM618 504.2v6.2h1v-6.2zM619 492v12.7h1v-12.7zM620 500.4v5.2h1v-5.2zM621 509.2v3.8h1v-3.8zM622 508.2v4.8h1v-4.8zM623 506.4v3.8h1v-3.8zM624 509.2v3.8h1v-3.8zM625 506.7v5.5h1v-5.5zM631 496.7v7.7h1v-7.7zM632 503.2v7.6h1v-7.6zM633 502.1v3.2h1v-3.2zM634 504v9h1v-9zM635 500.4v6.6h1v-6.6zM636 509.5v2.6h1v-2.6zM637 505.1v6.4h1v-6.4zM638 511.5v1.5h1v-1.5zM659 509.9v3.1h1v-3.1zM660 496.1v16.9h1v-16.9zM661 494.8v18.2h1v-18.2zM662 491.9v21.1h1v-21.1zM663 493.1v19.9h1v-19.9zM664 497.4v15.6h1v-15.6zM665 491.2v21.8h1v-21.8zM666 489v24h1v-24zM667 447v36.9h1v-36.9zM668 461.5v24.7h1v-24.7zM669 454.2v36.1h1v-36.1zM670 449v37.1h1v-37.1zM671 466.1v26.6h1v-26.6zM672 467.4v25.4h1v-25.4zM673 463.9v24.7h1v-24.7zM674 444.3v42.3h1v-42.3zM675 466.9v23.6h1v-23.6zM676 449.4v33.3h1v-33.3zM677 462v27h1v-27zM678 442.3v39.8h1v-39.8zM679 462.3v23.8h1v-23.8zM680 428.1v81.7h1v-81.7zM681 434.3v76.8h1v-76.8zM682 431.3v81.2h1v-81.2zM683 429.3v80.6h1v-80.6zM684 425v86.2h1v-86.2zM685 424.1v84.5h1v-84.5zM686 422.9v89.5h1v-89.5zM687 434.4v76.6h1v-76.6zM688 430.4v79.6h1v-79.6zM689 425.6v86.6h1v-86.6zM690 430.4v82.1h1v-82.1zM691 432.9v76.6h1v-76.6zM692 429.6v80.7h1v-80.7zM693 426v87h1v-87zM694 419.5v91.2h1v-91.2zM695 422.4v87h1v-87zM696 421.4v88.1h1v-88.1zM697 421.1v91.9h1v-91.9zM698 422.8v87.2h1v-87.2zM699 421v87.5h1v-87.5zM700 430v79.5h1v-79.5zM701 422.9v89.1h1v-89.1zM702 425.7v87.3h1v-87.3zM703 423.9v87.8h1v-87.8zM704 426.2v86.1h1v-86.1zM705 424.1v88.1h1v-88.1zM706 422.8v65.9h1v-65.9zM707 419.6v78.5h1v-78.5zM708 425v61.1h1v-61.1zM709 425.4v74.6h1v-74.6zM710 425v76.2h1v-76.2zM711 421.9v67.1h1v-67.1zM712 417.4v64.3h1v-64.3zM713 420.3v52.6h1v-52.6zM714 422.3v51.4h1v-51.4zM715 420.1v65h1v-65zM716 425.7v62.6h1v-62.6zM717 429.1v44.7h1v-44.7zM718 427.5v47h1v-47zM719 422.1v41.6h1v-41.6zM720 435.4v50.5h1v-50.5zM721 422.4v40.8h1v-40.8zM722 424.5v38h1v-38zM723 419.2v37.5h1v-37.5zM724 422v42.2h1v-42.2zM725 425v46.3h1v-46.3zM726 430.8v29.8h1v-29.8zM727 428.5v32.7h1v-32.7zM728 433.6v40.5h1v-40.5zM729 422.7v42.6h1v-42.6zM730 436.3v31.5h1v-31.5zM731 436.7v47h1v-47zM732 440v43.7h1v-43.7zM733 434.7v51.8h1v-51.8zM734 442.1v50.6h1v-50.6zM735 443.5v38.8h1v-38.8zM736 433.3v57.4h1v-57.4zM737 440.7v48.4h1v-48.4zM738 439v38.3h1v-38.3zM739 442.6v54.7h1v-54.7zM740 441.8v47.9h1v-47.9zM741 437.1v51.6h1v-51.6zM742 438.9v52.7h1v-52.7zM743 438.5v61.7h1v-61.7zM744 435.5v59.4h1v-59.4zM745 447.5v44.9h1v-44.9zM746 439.3v51.4h1v-51.4zM747 435v72.7h1v-72.7zM748 440.6v61.3h1v-61.3zM749 438.5v46.3h1v-46.3zM750 417.4v83.7h1v-83.7zM751 440.6v61.2h1v-61.2zM752 435.5v69.2h1v-69.2zM753 424.7v78.3h1v-78.3zM754 441.5v63.8h1v-63.8zM755 430.4v66.5h1v-66.5zM756 435.4v55.6h1v-55.6zM757 438.6v59.4h1v-59.4zM758 430.3v72.5h1v-72.5zM759 430v73.5h1v-73.5zM760 426.5v77h1v-77zM761 442v66.6h1v-66.6zM762 420.7v77h1v-77zM763 434.4v61.8h1v-61.8zM764 428.4v66.4h1v-66.4zM765 424.3v78.9h1v-78.9zM766 424.5v72.3h1v-72.3zM767 421.8v74.1h1v-74.1zM768 422.5v80.5h1v-80.5zM769 432.9v75.8h1v-75.8zM770 431.8v64.8h1v-64.8zM771 425.5v64.3h1v-64.3zM772 426.3v69.9h1v-69.9zM773 424.8v68.4h1v-68.4zM774 427.3v72.3h1v-72.3zM775 452v54.6h1v-54.6zM776 463.9v42.7h1v-42.7zM777 439.7v62h1v-62zM778 436.7v71.2h1v-71.2zM779 437.3v64.3h1v-64.3zM834 448.9v12.2h1v-12.2zM836 429.7v17.2h1v-17.2zM839 435.7v25.6h1v-25.6zM840 439.3v23.6h1v-23.6zM841 417.8v4.3h1v-4.3zM851 418.9v23h1v-23zM868 444v8.5h1v-8.5zM869 452.9v4.7h1v-4.7zM870 443.1v8.9h1v-8.9zM871 444.3v8.8h1v-8.8zM872 446.2v4.7h1v-4.7zM873 448.2v3.1h1v-3.1zM874 447.2v4h1v-4zM875 462.8v5.3h1v-5.3zM876 431.3v11.1h1v-11.1zM877 453.4v6.4h1v-6.4zM878 436.6v14.9h1v-14.9zM879 429.2v7.9h1v-7.9zM880 419v17.7h1v-17.7zM881 421.5v27h1v-27zM882 442.9v8.6h1v-8.6zM884 442.2v15.4h1v-15.4zM885 444.7v15.6h1v-15.6zM886 468.3v.7h1v-.7zM888 473.4v2.5h1v-2.5zM889 463.7v1.1h1v-1.1zM890 476.6v2.9h1v-2.9zM891 473.1v8.7h1v-8.7zM892 465.1v6.3h1v-6.3zM893 464.8v9.7h1v-9.7zM894 472.7v7.9h1v-7.9zM895 472.5v1.4h1v-1.4zM896 466.1v4h1v-4zM897 472.3v7h1v-7zM899 464.8v5.2h1v-5.2zM900 509.3v3.7h1v-3.7zM901 508.1v3.5h1v-3.5zM902 510.6v2.4h1v-2.4zM903 499.9v8.8h1v-8.8zM904 506.5v2.2h1v-2.2zM905 511v2h1v-2zM906 504.7v5.7h1v-5.7zM907 507v4.2h1v-4.2zM908 492.8v7.8h1v-7.8zM909 483.2v1h1v-1zM910 485.1v2.3h1v-2.3zM911 486v.9h1v-.9zM912 491.3v5.1h1v-5.1zM913 479.3v5.6h1v-5.6zM914 487.9v1.2h1v-1.2zM915 480.9v1.1h1v-1.1zM916 478.9v4.1h1v-4.1zM917 492.7v.8h1v-.8zM918 490.5v4.4h1v-4.4zM921 496.5v4.8h1v-4.8zM922 490.4v4.6h1v-4.6zM923 473.6v3.1h1v-3.1zM924 480v5h1v-5zM925 492.4v1h1v-1zM926 486.6v2.5h1v-2.5zM927 472.3v1.9h1v-1.9zM928 480.6v6h1v-6zM929 478.1v2.5h1v-2.5zM930 493.3v2.8h1v-2.8zM931 486.5v5.8h1v-5.8z"/>
<path fill="#6a9bd2" d="M88 498.2v9.1h1v-9.1zM89 495.7v7.6h1v-7.6zM90 501.1v10.9h1v-10.9zM91 501.2v4.1h1v-4.1zM92 507.2v5.4h1v-5.4zM94 494.3v9.2h1v-9.2zM96 500.1v5.3h1v-5.3zM198 496.5v16.5h1v-16.5zM210 506.6v1.1h1v-1.1zM211 508.3v.6h1v-.6zM212 507.7v1.1h1v-1.1zM213 507v1.2h1v-1.2zM214 502.1v1.4h1v-1.4zM215 504.9v2h1v-2zM216 504.8v1h1v-1zM217 506.4v1.6h1v-1.6zM218 471.5v40.1h1v-40.1zM219 506.7v1.8h1v-1.8zM222 493.8v16h1v-16zM223 507.3v2h1v-2zM224 478.8v30.5h1v-30.5zM225 488.7v17h1v-17zM226 505.8v.7h1v-.7zM227 500.7v3h1v-3zM229 509.7v.9h1v-.9zM230 510.7v2.3h1v-2.3zM231 505.4v2h1v-2zM232 506.4v.5h1v-.5zM233 499.2v.8h1v-.8zM234 489.3v15.8h1v-15.8zM235 511.9v.6h1v-.6zM236 505.7v.4h1v-.4zM237 507v1.2h1v-1.2zM238 472.3v31.4h1v-31.4zM239 502.1v2h1v-2zM273 507.7v5.3h1v-5.3zM274 495.8v17.2h1v-17.2zM275 498.9v12.6h1v-12.6zM276 496.6v15.8h1v-15.8zM277 494.4v18.6h1v-18.6zM278 492.1v18.1h1v-18.1zM279 482.1v30.9h1v-30.9zM280 498.1v13.6h1v-13.6zM281 508.4v4.2h1v-4.2zM282 504.1v7.5h1v-7.5zM283 470.7v42.3h1v-42.3zM284 487v24.3h1v-24.3zM286 505.2v6.9h1v-6.9zM287 511.3v.4h1v-.4zM288 486.5v26.1h1v-26.1zM289 493.6v16.9h1v-16.9zM290 499.9v12.7h1v-12.7zM297 490.5v21h1v-21zM303 490.8v21.2h1v-21.2zM329 488.7v24.3h1v-24.3zM336 507.3v5.7h1v-5.7zM337 483.1v29.9h1v-29.9zM338 492.4v20.6h1v-20.6zM339 504v9h1v-9zM341 499.2v13.8h1v-13.8zM343 489.6v23.4h1v-23.4zM344 509.4v3.6h1v-3.6zM345 489.4v23.6h1v-23.6zM346 497.3v15.7h1v-15.7zM347 487.8v25.2h1v-25.2zM348 500.6v12.4h1v-12.4zM349 491.9v21.1h1v-21.1zM350 494v19h1v-19zM351 502.1v10.9h1v-10.9zM352 499v14h1v-14zM353 460.7v52.3h1v-52.3zM354 473.4v39.6h1v-39.6zM355 463.4v49.6h1v-49.6zM356 456.6v56.4h1v-56.4zM357 454.4v58.6h1v-58.6zM358 466.6v46.4h1v-46.4zM359 470.9v42.1h1v-42.1zM360 465.9v47.1h1v-47.1zM361 472.6v40.4h1v-40.4zM362 465.5v47.5h1v-47.5zM363 457.1v55.9h1v-55.9zM364 473.8v39.2h1v-39.2zM365 462.4v50.6h1v-50.6zM366 443v70h1v-70zM367 450.2v62.8h1v-62.8zM368 438.9v74.1h1v-74.1zM369 442.6v70.4h1v-70.4zM370 443.7v69.3h1v-69.3zM371 442.7v70.3h1v-70.3zM372 441.3v71.7h1v-71.7zM373 445.7v67.3h1v-67.3zM374 439.7v73.3h1v-73.3zM375 430.9v82.1h1v-82.1zM376 440.4v72.6h1v-72.6zM377 445.9v67.1h1v-67.1zM378 439.5v73.5h1v-73.5zM379 450v63h1v-63zM380 452v61h1v-61zM381 437.9v75.1h1v-75.1zM382 435.1v77.9h1v-77.9zM383 447.2v65.8h1v-65.8zM384 435.9v77.1h1v-77.1zM385 427.3v85.7h1v-85.7zM386 441.1v71.9h1v-71.9zM387 480.2v32.8h1v-32.8zM388 472.5v40.5h1v-40.5zM389 476v37h1v-37zM390 489v24h1v-24zM391 475.4v37.6h1v-37.6zM392 463.2v49.8h1v-49.8zM393 475v38h1v-38zM394 481.8v31.2h1v-31.2zM395 460.7v52.3h1v-52.3zM396 477.8v35.2h1v-35.2zM397 472.3v40.7h1v-40.7zM398 483.4v29.6h1v-29.6zM399 474v39h1v-39zM400 475v38h1v-38zM401 473.4v39.6h1v-39.6zM402 473.9v39.1h1v-39.1zM403 480.3v32.7h1v-32.7zM404 476.4v36.6h1v-36.6zM405 443.6v69.4h1v-69.4zM406 444.8v68.2h1v-68.2zM407 444.1v68.9h1v-68.9zM408 441.5v71.5h1v-71.5zM409 448.6v64.4h1v-64.4zM410 444.7v68.3h1v-68.3zM411 447.5v65.5h1v-65.5zM412 448.8v64.2h1v-64.2zM413 448.6v64.4h1v-64.4zM414 451.5v61.5h1v-61.5zM415 465.5v47.5h1v-47.5zM416 454.1v58.9h1v-58.9zM417 466.8v46.2h1v-46.2zM418 468.3v44.7h1v-44.7zM419 461.8v51.2h1v-51.2zM420 461.7v51.3h1v-51.3zM421 448.9v64.1h1v-64.1zM422 469.9v43.1h1v-43.1zM423 459.9v53.1h1v-53.1zM424 463.1v49.9h1v-49.9zM425 468.1v44.9h1v-44.9zM426 464.2v48.8h1v-48.8zM427 466.2v46.8h1v-46.8zM428 456.9v56.1h1v-56.1zM429 463v50h1v-50zM430 477v36h1v-36zM431 452.5v60.5h1v-60.5zM432 469.9v43.1h1v-43.1zM433 457.7v55.3h1v-55.3zM434 443.2v58.3h1v-58.3zM435 435.1v54.7h1v-54.7zM436 443.9v55.3h1v-55.3zM437 426.5v69.8h1v-69.8zM438 438.1v57.2h1v-57.2zM439 433.5v60.8h1v-60.8zM440 436.1v64.1h1v-64.1zM441 427.9v82.9h1v-82.9zM442 441.7v70h1v-70zM443 431.1v80.3h1v-80.3zM444 419.1v91.3h1v-91.3zM445 437.6v73.3h1v-73.3zM446 453.2v57.7h1v-57.7zM447 438v70.8h1v-70.8zM448 439.2v73.8h1v-73.8zM449 437.6v75.4h1v-75.4zM450 428.3v83.2h1v-83.2zM451 429.6v82.6h1v-82.6zM452 441.2v70.1h1v-70.1zM453 425.8v84.5h1v-84.5zM454 427.2v85.8h1v-85.8zM455 421.5v90.2h1v-90.2zM456 426.2v85.8h1v-85.8zM457 439.8v70.8h1v-70.8zM458 425.3v85.9h1v-85.9zM459 423.9v86.6h1v-86.6zM460 430.9v78.6h1v-78.6zM461 428.4v83.8h1v-83.8zM462 448.5v63.5h1v-63.5zM463 438.8v73.7h1v-73.7zM464 426.5v83.4h1v-83.4zM465 418.8v91.3h1v-91.3zM466 425.8v85h1v-85zM467 427.5v85h1v-85zM468 430.5v80.8h1v-80.8zM469 419.1v92h1v-92zM470 448.6v63.8h1v-63.8zM471 444.2v66.6h1v-66.6zM472 420.7v91.8h1v-91.8zM473 433.6v77h1v-77zM474 425.7v85.6h1v-85.6zM475 424.2v88.8h1v-88.8zM476 425.4v86.4h1v-86.4zM477 434.1v76.4h1v-76.4zM478 432.1v77.6h1v-77.6zM479 437.5v74.7h1v-74.7zM480 442.1v69.9h1v-69.9zM481 428v85h1v-85zM482 418.8v92h1v-92zM483 418.4v91.2h1v-91.2zM484 444.3v68.7h1v-68.7zM485 418.1v91h1v-91zM486 419.2v91.7h1v-91.7zM487 442.2v68.7h1v-68.7zM488 443.7v69.3h1v-69.3zM489 434.9v78.1h1v-78.1zM490 434.7v76h1v-76zM491 422v88.3h1v-88.3zM492 418.5v90.1h1v-90.1zM493 425.1v87.2h1v-87.2zM494 429.4v82.2h1v-82.2zM495 418.1v94.1h1v-94.1zM496 442.4v70.6h1v-70.6zM497 426.2v85.1h1v-85.1zM498 434.2v78.1h1v-78.1zM499 439.8v71.6h1v-71.6zM500 448.8v63.5h1v-63.5zM501 429v83.4h1v-83.4zM502 438.4v71.1h1v-71.1zM503 418.7v90.7h1v-90.7zM504 427.4v84h1v-84zM505 452.7v50.4h1v-50.4zM506 455v51.6h1v-51.6zM507 453.3v52.9h1v-52.9zM508 445.2v55.3h1v-55.3zM509 466.4v43.9h1v-43.9zM510 448.5v54.7h1v-54.7zM511 457.2v48.4h1v-48.4zM512 452.7v56.1h1v-56.1zM513 435.8v61.1h1v-61.1zM514 463.4v43.4h1v-43.4zM515 458.4v40.3h1v-40.3zM516 446.9v57.2h1v-57.2zM517 463.1v48.4h1v-48.4zM518 448.3v63.2h1v-63.2zM519 475.4v37.6h1v-37.6zM520 459.4v46.4h1v-46.4zM521 468.3v42.1h1v-42.1zM522 445.6v60.3h1v-60.3zM523 451.7v58.3h1v-58.3zM524 449v57.4h1v-57.4zM525 442v58.9h1v-58.9zM526 451.4v59.4h1v-59.4zM527 441.3v65.6h1v-65.6zM528 456.9v53h1v-53zM529 446.9v60.9h1v-60.9zM530 429.5v75.3h1v-75.3zM531 433v72.5h1v-72.5zM532 453.9v57.7h1v-57.7zM533 437.5v70h1v-70zM534 440.4v60h1v-60zM535 439.9v65.5h1v-65.5zM536 434.2v73.5h1v-73.5zM537 438.8v67.5h1v-67.5zM538 457.6v45.3h1v-45.3zM539 442.2v68.5h1v-68.5zM540 451.5v13.8h1v-13.8zM541 474.1v11.4h1v-11.4zM542 468v9.4h1v-9.4zM543 450.9v10.9h1v-10.9zM544 482.8v3.5h1v-3.5zM545 455.8v19.6h1v-19.6zM546 469.9v22.2h1v-22.2zM547 462.8v13.5h1v-13.5zM548 497.1v7.9h1v-7.9zM549 480.7v31h1v-31zM550 477.4v26.8h1v-26.8zM551 487.1v25.2h1v-25.2zM552 486.9v17.4h1v-17.4zM553 476.7v27.8h1v-27.8zM554 465.4v42.2h1v-42.2zM555 474.6v38.4h1v-38.4zM556 479.1v27.1h1v-27.1zM557 476.8v31.1h1v-31.1zM558 459.7v49.2h1v-49.2zM559 498.4v14.6h1v-14.6zM560 492.4v20.1h1v-20.1zM561 507.1v5.9h1v-5.9zM562 501.2v9.3h1v-9.3zM563 500.3v12.7h1v-12.7zM564 498v11.5h1v-11.5zM565 494.5v18.5h1v-18.5zM566 496.2v10.1h1v-10.1zM567 492.9v16.9h1v-16.9zM568 506.7v4.1h1v-4.1zM569 497.1v12.4h1v-12.4zM570 504.2v5.6h1v-5.6zM571 497.8v13.8h1v-13.8zM572 503.9v3.6h1v-3.6zM573 501.2v11.8h1v-11.8zM574 495.5v12.2h1v-12.2zM575 506.1v3.7h1v-3.7zM576 499.1v7.7h1v-7.7zM577 490.2v17.7h1v-17.7zM578 500.8v9.1h1v-9.1zM579 488.1v22.7h1v-22.7zM580 499v13.3h1v-13.3zM581 511.8v.8h1v-.8zM582 493.7v15.4h1v-15.4zM583 510.4v1.9h1v-1.9zM584 482.7v24.5h1v-24.5zM585 495v13.7h1v-13.7zM586 454.9v39.5h1v-39.5zM587 450.4v47.7h1v-47.7zM588 432.1v27.8h1v-27.8zM589 432.6v45.5h1v-45.5zM590 437.5v31.1h1v-31.1zM591 478.9v29h1v-29zM593 481.6v25h1v-25zM594 491.2v21.8h1v-21.8zM595 484.8v28.2h1v-28.2zM596 492v14.7h1v-14.7zM597 445.2v64.1h1v-64.1zM598 460.7v52.3h1v-52.3zM599 478.7v28.4h1v-28.4zM600 448.1v59.3h1v-59.3zM601 469.8v39.8h1v-39.8zM602 469.9v39h1v-39zM603 451.4v52.8h1v-52.8zM604 493.9v15.8h1v-15.8zM605 466.3v42.2h1v-42.2zM606 471v39.9h1v-39.9zM607 465.3v27.7h1v-27.7zM608 482.9v20.3h1v-20.3zM609 465.1v43.4h1v-43.4zM610 461v40.2h1v-40.2zM611 491.5v9.6h1v-9.6zM612 473.5v39h1v-39zM613 469.6v42.5h1v-42.5zM614 452.1v44.2h1v-44.2zM615 451v54.8h1v-54.8zM616 465.4v46.5h1v-46.5zM617 448v61.1h1v-61.1zM618 454.6v49.6h1v-49.6zM619 448.5v43.5h1v-43.5zM620 458v42.4h1v-42.4zM621 466.3v42.9h1v-42.9zM622 482.7v25.5h1v-25.5zM623 492.9v13.5h1v-13.5zM624 481.6v27.6h1v-27.6zM625 456.4v50.3h1v-50.3zM626 501.1v11.9h1v-11.9zM627 456.8v49.3h1v-49.3zM628 463.7v49.3h1v-49.3zM629 466.8v46.2h1v-46.2zM630 488.3v16h1v-16zM631 463v33.7h1v-33.7zM632 476.9v26.3h1v-26.3zM633 447.8v54.3h1v-54.3zM634 479v25h1v-25zM635 461.7v38.7h1v-38.7zM636 474.2v35.3h1v-35.3zM637 462.3v42.8h1v-42.8zM638 488v23.5h1v-23.5zM639 481.6v30.3h1v-30.3zM659 497.9v12h1v-12zM660 485.2v10.9h1v-10.9zM661 483.2v11.6h1v-11.6zM662 489.8v2.1h1v-2.1zM663 430v63.1h1v-63.1zM664 423.4v74h1v-74zM665 421.7v69.5h1v-69.5zM666 428.5v60.5h1v-60.5zM667 428.9v18.1h1v-18.1zM668 423.1v38.4h1v-38.4zM669 422v32.2h1v-32.2zM670 425.8v23.2h1v-23.2zM671 422.9v43.2h1v-43.2zM672 434.4v33h1v-33zM673 423.8v40.1h1v-40.1zM674 424.1v20.2h1v-20.2zM675 420.5v46.4h1v-46.4zM676 429.2v20.2h1v-20.2zM677 421.5v40.5h1v-40.5zM678 422.6v19.7h1v-19.7zM679 418.6v43.7h1v-43.7zM680 424.9v3.2h1v-3.2zM681 423.3v11h1v-11zM682 428.1v3.2h1v-3.2zM683 424.5v4.8h1v-4.8zM684 422.5v2.5h1v-2.5zM685 423.7v.4h1v-.4zM686 420v2.9h1v-2.9zM687 427v7.4h1v-7.4zM688 429.7v.7h1v-.7zM689 423.4v2.2h1v-2.2zM690 426.2v4.2h1v-4.2zM691 421.6v11.3h1v-11.3zM692 421.2v8.4h1v-8.4zM693 422.4v3.6h1v-3.6zM694 418.8v.7h1v-.7zM695 417.4v5h1v-5zM696 420.3v1.1h1v-1.1zM699 417.8v3.2h1v-3.2zM700 429.5v.5h1v-.5zM701 420.8v2.1h1v-2.1zM704 422.2v4h1v-4zM705 421.8v2.3h1v-2.3zM818 497.1v15.9h1v-15.9zM875 458.8v4h1v-4zM876 427.4v3.9h1v-3.9zM877 450.6v2.8h1v-2.8zM878 435.4v1.2h1v-1.2zM879 417.6v11.6h1v-11.6zM880 417.4v1.6h1v-1.6zM881 419.1v2.4h1v-2.4zM882 442.1v.8h1v-.8zM883 456.8v.8h1v-.8zM884 433.4v8.8h1v-8.8zM885 441.3v3.4h1v-3.4zM886 445.1v23.2h1v-23.2zM887 461.1v11.3h1v-11.3zM888 444v29.4h1v-29.4zM889 442.2v21.5h1v-21.5zM890 466.6v10h1v-10zM891 453.6v19.5h1v-19.5zM892 444.9v20.2h1v-20.2zM894 459.6v13.1h1v-13.1zM895 448v24.5h1v-24.5zM896 438.7v27.4h1v-27.4zM897 451.8v20.5h1v-20.5zM898 455.5v19h1v-19zM900 484.8v24.5h1v-24.5zM901 473.2v34.9h1v-34.9zM902 479.4v31.2h1v-31.2zM903 477v22.9h1v-22.9zM904 483.9v22.6h1v-22.6zM905 478.5v32.5h1v-32.5zM906 489.1v15.6h1v-15.6zM907 477.3v29.7h1v-29.7zM908 474.1v18.7h1v-18.7zM909 464.2v19h1v-19zM910 436.3v48.8h1v-48.8zM911 469.1v16.9h1v-16.9zM912 448.2v43.1h1v-43.1zM913 460.3v19h1v-19zM914 467.9v20h1v-20zM915 451.5v29.4h1v-29.4zM916 451v27.9h1v-27.9zM917 460.6v32.1h1v-32.1zM918 469.8v20.7h1v-20.7zM919 464.2v29.5h1v-29.5zM920 451.6v37.6h1v-37.6zM921 462.7v33.8h1v-33.8zM922 461.1v29.3h1v-29.3zM923 428.7v44.9h1v-44.9zM924 437.7v42.3h1v-42.3zM925 466.4v26h1v-26zM926 456.4v30.2h1v-30.2zM927 448.4v23.9h1v-23.9zM928 444.4v36.2h1v-36.2zM929 442.3v35.8h1v-35.8zM930 463.7v29.6h1v-29.6zM931 462.3v24.2h1v-24.2z"/>
<path fill="#7cab55" d="M115 434.3v76.8h1v-76.8zM116 431.1v80.6h1v-80.6zM117 434.8v76.7h1v-76.7zM118 435v78h1v-78zM119 432.4v78.5h1v-78.5zM120 438.9v71.9h1v-71.9zM121 436.3v74.5h1v-74.5zM122 433.7v78h1v-78zM123 441.7v70.8h1v-70.8zM124 437.7v73.7h1v-73.7zM125 441v72h1v-72zM126 436.7v76.3h1v-76.3zM127 430.5v80.9h1v-80.9zM128 429.4v82.8h1v-82.8zM129 443.2v69.8h1v-69.8zM130 431.8v81.2h1v-81.2zM131 476.5v36.5h1v-36.5zM132 474.1v38.9h1v-38.9zM133 475v38h2v-38zM135 484.9v28.1h1v-28.1zM136 473.5v39.5h1v-39.5zM137 475.9v37.1h1v-37.1zM138 443.8v69.2h1v-69.2zM139 438.6v74.4h1v-74.4zM140 437.4v75.6h1v-75.6zM141 422.4v90.6h1v-90.6zM142 424.6v88.4h1v-88.4zM143 427.2v85.8h1v-85.8zM144 425.7v87.3h1v-87.3zM145 418.4v94.6h1v-94.6zM146 425.1v87.9h1v-87.9zM147 418.6v94.4h1v-94.4zM148 418.4v94.6h1v-94.6zM149 422.7v90.3h1v-90.3zM150 422.5v90.5h1v-90.5zM151 418.9v94.1h1v-94.1zM152 435.1v76.5h1v-76.5zM153 434.6v77.9h1v-77.9zM154 437v75h1v-75zM155 422.7v89.2h1v-89.2zM156 444.9v68.1h1v-68.1zM157 428.4v84.6h1v-84.6zM158 437.2v75.3h1v-75.3zM159 440.7v69.1h1v-69.1zM160 432.6v78.3h1v-78.3zM161 430.4v82.6h1v-82.6zM162 431.2v81.8h1v-81.8zM163 429.3v82h1v-82zM164 438.7v72.6h1v-72.6zM165 432.2v79.8h1v-79.8zM166 446.6v66.4h1v-66.4zM167 446.9v66.1h1v-66.1zM273 500v7.7h1v-7.7zM275 489.5v9.4h1v-9.4zM276 487.1v9.5h1v-9.5zM277 488.9v5.5h1v-5.5zM278 483.6v8.5h1v-8.5zM279 480.6v1.5h1v-1.5zM280 478.5v19.6h1v-19.6zM281 505.9v2.5h1v-2.5zM282 489v15.1h1v-15.1zM283 467.9v2.8h1v-2.8zM284 480.9v6.1h1v-6.1zM286 497.1v8.1h1v-8.1zM288 458.3v28.2h1v-28.2zM289 488.2v5.4h1v-5.4zM366 441v2h1v-2zM367 446.5v3.7h1v-3.7zM368 436.8v2.1h1v-2.1zM369 440v2.6h1v-2.6zM370 442.2v1.5h1v-1.5zM372 438.7v2.6h1v-2.6zM374 435v4.7h1v-4.7zM375 430.5v.4h1v-.4zM376 434.6v5.8h1v-5.8zM378 435.7v3.8h1v-3.8zM379 449v1h1v-1zM380 450.2v1.8h1v-1.8zM381 432.8v5.1h1v-5.1zM382 433.7v1.4h1v-1.4zM383 446.6v.6h1v-.6zM384 431.6v4.3h1v-4.3zM548 479.5v17.6h1v-17.6zM549 460.4v20.3h1v-20.3zM550 469.6v7.8h1v-7.8zM551 466.1v21h1v-21zM554 462.1v3.3h1v-3.3zM555 459.7v14.9h1v-14.9zM556 470.1v9h1v-9zM557 455.9v20.9h1v-20.9zM558 453.5v6.2h1v-6.2zM559 463.9v34.5h1v-34.5zM560 456.8v35.6h1v-35.6zM561 463.9v43.2h1v-43.2zM562 462v39.2h1v-39.2zM563 489.6v10.7h1v-10.7zM564 458.5v39.5h1v-39.5zM565 440.2v54.3h1v-54.3zM566 478.9v17.3h1v-17.3zM567 427.6v65.3h1v-65.3zM568 479.3v27.4h1v-27.4zM569 470.4v26.7h1v-26.7zM570 428.3v75.9h1v-75.9zM571 441.7v56.1h1v-56.1zM572 469v34.9h1v-34.9zM573 434.3v66.9h1v-66.9zM574 441.3v54.2h1v-54.2zM575 449.3v56.8h1v-56.8zM576 457v42.1h1v-42.1zM577 451.1v39.1h1v-39.1zM578 458.2v42.6h1v-42.6zM579 459.6v28.5h1v-28.5zM580 460.5v38.5h1v-38.5zM581 480.7v31.1h1v-31.1zM582 452.3v41.4h1v-41.4zM583 467.7v42.7h1v-42.7zM584 439.7v43h1v-43zM585 440.8v54.2h1v-54.2zM591 462.8v16.1h1v-16.1zM592 480.9v21.2h1v-21.2zM593 478.6v3h1v-3zM594 466.2v25h1v-25zM595 464.9v19.9h1v-19.9zM596 488.9v3.1h1v-3.1zM598 437.1v23.6h1v-23.6zM599 458.7v20h1v-20zM600 435v13.1h1v-13.1zM601 427.5v42.3h1v-42.3zM602 468.7v1.2h1v-1.2zM603 432.7v18.7h1v-18.7zM604 480.4v13.5h1v-13.5zM605 445.7v20.6h1v-20.6zM607 447.1v18.2h1v-18.2zM608 462.9v20h1v-20zM610 426.2v34.8h1v-34.8zM611 488.6v2.9h1v-2.9zM612 454.4v19.1h1v-19.1zM613 446.6v23h1v-23zM614 446.1v6h1v-6zM615 429.2v21.8h1v-21.8zM617 434.6v13.4h1v-13.4zM620 443.2v14.8h1v-14.8zM621 438.7v27.6h1v-27.6zM622 480.3v2.4h1v-2.4zM623 483.7v9.2h1v-9.2zM624 473.8v7.8h1v-7.8zM626 498.2v2.9h1v-2.9zM627 421.6v35.2h1v-35.2zM628 436.5v27.2h1v-27.2zM629 437.8v29h1v-29zM630 472.7v15.6h1v-15.6zM631 453.8v9.2h1v-9.2zM632 469.9v7h1v-7zM633 437.2v10.6h1v-10.6zM634 469.9v9.1h1v-9.1zM635 451.4v10.3h1v-10.3zM636 457.9v16.3h1v-16.3zM637 438.5v23.8h1v-23.8zM638 485v3h1v-3zM639 471.9v9.7h1v-9.7z"/>
<path fill="#2c477c" d="M97 502.1v3.8h1v-3.8zM98 505.8v2.1h1v-2.1zM99 502.2v7.8h1v-7.8zM101 504.4v7.5h1v-7.5zM102 501.4v4.1h1v-4.1zM104 509.3v2.7h1v-2.7zM107 468.9v44.1h1v-44.1zM108 463.3v49.7h1v-49.7zM109 474.8v38.2h1v-38.2zM110 466.2v46.8h1v-46.8zM111 470.8v42.2h1v-42.2zM112 467.8v45.2h1v-45.2zM113 471.5v41.5h1v-41.5zM114 472.3v40.7h1v-40.7zM115 418.5v15.8h1v-15.8zM116 418.8v12.3h1v-12.3zM117 418.2v16.6h1v-16.6zM118 419.1v15.9h1v-15.9zM119 419.2v13.2h1v-13.2zM120 418.8v20.1h1v-20.1zM121 418.3v18h1v-18zM122 418.3v15.4h1v-15.4zM123 419.1v22.6h1v-22.6zM124 418.7v19h1v-19zM125 418.9v22.1h1v-22.1zM126 418.3v18.4h1v-18.4zM127 419.2v11.3h1v-11.3zM128 418.4v11h1v-11zM129 418.8v24.4h1v-24.4zM130 418.7v13.1h1v-13.1zM131 418.6v57.9h1v-57.9zM132 418.2v55.9h1v-55.9zM133 418.7v56.3h1v-56.3zM134 418.9v56.1h1v-56.1zM135 418.9v66h1v-66zM136 419v54.5h1v-54.5zM137 418v57.9h1v-57.9zM138 430.9v12.9h1v-12.9zM139 436.4v2.2h1v-2.2zM141 417.8v4.6h1v-4.6zM142 418.8v5.8h1v-5.8zM143 418.9v8.3h1v-8.3zM144 419.1v6.6h1v-6.6zM146 418.7v6.4h1v-6.4zM149 418.5v4.2h1v-4.2zM150 418.6v3.9h1v-3.9zM152 419v16.1h1v-16.1zM153 418.2v16.4h1v-16.4zM154 419.2v17.8h1v-17.8zM155 419.1v3.6h1v-3.6zM156 419.1v25.8h1v-25.8zM157 418.7v9.7h1v-9.7zM158 418.7v18.5h1v-18.5zM159 418.8v21.9h1v-21.9zM160 418.5v14.1h1v-14.1zM161 418.6v11.8h1v-11.8zM162 419v12.2h1v-12.2zM163 418.8v10.5h1v-10.5zM164 418.3v20.4h1v-20.4zM165 419.1v13.1h1v-13.1zM166 418.3v28.3h1v-28.3zM167 418.7v28.2h1v-28.2zM168 418.8v85.8h1v-85.8zM169 418.4v88.3h1v-88.3zM170 418.6v87.2h1v-87.2zM171 418v89.7h1v-89.7zM172 417.7v86.9h1v-86.9zM173 419.1v89.5h1v-89.5zM174 418.4v91.8h1v-91.8zM175 418.6v93.4h1v-93.4zM176 418.3v85.7h1v-85.7zM177 418.5v80.2h1v-80.2zM178 418.6v94.4h1v-94.4zM179 418.5v75.2h1v-75.2zM180 418.5v94.5h1v-94.5zM181 418.6v94.4h2v-94.4zM183 418.7v94.3h1v-94.3zM184 418.3v94.7h1v-94.7zM185 418.1v94.9h1v-94.9zM186 418.3v94.7h1v-94.7zM187 423.6v89.4h1v-89.4zM188 430.2v82.8h1v-82.8zM189 435.9v77.1h1v-77.1zM190 418.7v94.3h1v-94.3zM191 425.9v87.1h1v-87.1zM192 423v90h1v-90zM193 423.5v89.5h1v-89.5zM194 437.3v75.7h1v-75.7zM195 422.9v90.1h1v-90.1zM196 427.5v85.5h1v-85.5zM197 432.4v80.6h1v-80.6zM198 422v74.5h1v-74.5zM199 431.8v81.2h1v-81.2zM200 432.9v80.1h1v-80.1zM201 430.6v82.4h1v-82.4zM202 440.7v72.3h1v-72.3zM203 420.7v92.3h1v-92.3zM204 419.9v93.1h1v-93.1zM205 418.7v94.3h2v-94.3zM207 421.8v91.2h1v-91.2zM208 421.1v91.9h1v-91.9zM209 423.1v89.9h1v-89.9zM273 488v12h1v-12zM274 494v1.8h1v-1.8zM275 484.6v4.9h1v-4.9zM276 480.6v6.5h1v-6.5zM277 483v5.9h1v-5.9zM278 482.5v1.1h1v-1.1zM279 475.3v5.3h1v-5.3zM280 469.2v9.3h1v-9.3zM282 473.3v15.7h1v-15.7zM283 461.1v6.8h1v-6.8zM284 475.2v5.7h1v-5.7zM285 511.5v.7h1v-.7zM286 489.4v7.7h1v-7.7zM287 507.1v4.2h1v-4.2zM288 451.2v7.1h1v-7.1zM289 474.6v13.6h1v-13.6zM541 455.5v18.6h1v-18.6zM543 430.8v20.1h1v-20.1zM544 482v.8h1v-.8zM545 438.6v17.2h1v-17.2zM547 446.9v15.9h1v-15.9zM548 471.7v7.8h1v-7.8zM550 441.4v28.2h1v-28.2zM551 455v11.1h1v-11.1zM552 456.9v30h1v-30zM553 466v10.7h1v-10.7zM554 440v22.1h1v-22.1zM555 442v17.7h1v-17.7zM556 463.7v6.4h1v-6.4zM557 429.2v26.7h1v-26.7zM558 427v26.5h1v-26.5zM560 443.3v13.5h1v-13.5zM562 458.9v3.1h1v-3.1zM563 482.3v7.3h1v-7.3zM564 449.1v9.4h1v-9.4zM565 428.1v12.1h1v-12.1zM566 455.1v23.8h1v-23.8zM568 475.1v4.2h1v-4.2zM569 451.4v19h1v-19zM570 427.6v.7h1v-.7zM571 428.7v13h1v-13zM572 440.7v28.3h1v-28.3zM573 429.8v4.5h1v-4.5zM574 431.6v9.7h1v-9.7zM575 432.3v17h1v-17zM577 427.1v24h1v-24zM578 452.3v5.9h1v-5.9zM579 455.3v4.3h1v-4.3zM580 453.5v7h1v-7zM581 473.2v7.5h1v-7.5zM582 434.6v17.7h1v-17.7zM583 456.7v11h1v-11zM584 422.6v17.1h1v-17.1zM585 429.5v11.3h1v-11.3zM591 456.8v6h1v-6zM592 472.5v8.4h1v-8.4zM594 456v10.2h1v-10.2zM595 457.1v7.8h1v-7.8zM596 481.2v7.7h1v-7.7zM597 438.7v6.5h1v-6.5zM599 452.8v5.9h1v-5.9zM600 428.5v6.5h1v-6.5zM601 423.5v4h1v-4zM602 465.6v3.1h1v-3.1zM604 471.6v8.8h1v-8.8zM605 445.2v.5h1v-.5zM606 456.7v14.3h1v-14.3zM607 444.3v2.8h1v-2.8zM608 449.3v13.6h1v-13.6zM609 458.5v6.6h1v-6.6zM611 471.8v16.8h1v-16.8zM612 449.5v4.9h1v-4.9zM613 422.8v23.8h1v-23.8zM614 435.8v10.3h1v-10.3zM615 418.8v10.4h1v-10.4zM618 440.1v14.5h1v-14.5zM621 426.3v12.4h1v-12.4zM622 463.9v16.4h1v-16.4zM623 459.4v24.3h1v-24.3zM624 453.8v20h1v-20zM625 442v14.4h1v-14.4zM626 476.3v21.9h1v-21.9zM627 420v1.6h1v-1.6zM629 421.4v16.4h1v-16.4zM630 459.9v12.8h1v-12.8zM631 444v9.8h1v-9.8zM632 444.1v25.8h1v-25.8zM633 424.6v12.6h1v-12.6zM634 468.8v1.1h1v-1.1zM635 449.4v2h1v-2zM636 447.7v10.2h1v-10.2zM637 418.7v19.8h1v-19.8zM638 475.3v9.7h1v-9.7zM639 460.3v11.6h1v-11.6z"/>
<path fill="#934f22" d="M88 494.3v3.9h1v-3.9zM89 478.5v17.2h1v-17.2zM91 492v9.2h1v-9.2zM92 499.5v7.7h1v-7.7zM93 483.3v29.1h1v-29.1zM94 476.8v17.5h1v-17.5zM95 495.5v9.7h1v-9.7zM107 444.7v24.2h1v-24.2zM108 430.4v32.9h1v-32.9zM138 418.7v12.2h1v-12.2zM139 418.8v17.6h1v-17.6zM140 418.4v19h1v-19zM210 418.6v88h1v-88zM211 418.6v89.7h1v-89.7zM212 418.9v88.8h1v-88.8zM213 418.5v88.5h1v-88.5zM214 418.5v83.6h1v-83.6zM215 419v85.9h1v-85.9zM216 418.6v86.2h1v-86.2zM217 418.2v88.2h1v-88.2zM218 418.7v52.8h1v-52.8zM219 418.7v88h1v-88zM220 418.6v86.8h1v-86.8zM221 419.4v86.8h1v-86.8zM222 418.1v75.7h1v-75.7zM223 418.3v89h1v-89zM224 418.3v60.5h1v-60.5zM225 417.8v70.9h1v-70.9zM226 418.6v87.2h1v-87.2zM227 418.9v81.8h1v-81.8zM228 418.5v86.7h1v-86.7zM229 418v91.7h1v-91.7zM230 419v91.7h1v-91.7zM231 419v86.4h1v-86.4zM232 417.7v88.7h1v-88.7zM233 418.8v80.4h1v-80.4zM234 418.2v71.1h1v-71.1zM235 418.3v93.6h1v-93.6zM236 419.3v86.4h1v-86.4zM237 418.5v88.5h1v-88.5zM238 419.2v53.1h1v-53.1zM239 418.2v83.9h1v-83.9zM240 418.3v92.9h1v-92.9zM241 417.7v95.3h1v-95.3zM242 418.6v91h1v-91zM243 418.9v93.2h1v-93.2zM244 418.2v94.1h1v-94.1zM245 418.1v93.5h1v-93.5zM246 419.2v92.8h1v-92.8zM247 418.6v92.1h1v-92.1zM248 418.7v91.8h1v-91.8zM249 418.8v92.4h1v-92.4zM250 419.1v93.9h1v-93.9zM251 417.7v93.2h1v-93.2zM252 418.2v92.1h1v-92.1zM253 418.4v93.9h1v-93.9zM254 418.8v92h1v-92zM255 418.8v94.2h1v-94.2zM256 418.6v92.9h1v-92.9zM257 418.3v94.7h1v-94.7zM258 418.7v91.8h1v-91.8zM259 418.2v94.2h1v-94.2zM260 419v94h1v-94zM261 418.5v91.5h1v-91.5zM262 418.2v93.3h1v-93.3zM263 418.7v91.8h1v-91.8zM264 418.4v91.8h1v-91.8zM273 437.6v50.4h1v-50.4zM274 433.8v60.2h1v-60.2zM275 418v66.6h1v-66.6zM276 434.4v46.2h1v-46.2zM277 418.7v64.3h1v-64.3zM278 418.6v63.9h1v-63.9zM279 418.4v56.9h1v-56.9zM280 418.3v50.9h1v-50.9zM281 418.9v87h1v-87zM282 418.7v54.6h1v-54.6zM283 418.5v42.6h1v-42.6zM284 417.7v57.5h1v-57.5zM285 418.3v93.2h1v-93.2zM286 423.7v65.7h1v-65.7zM287 436.2v70.9h1v-70.9zM288 419.1v32.1h1v-32.1zM289 418.1v56.5h1v-56.5zM290 418.2v81.7h1v-81.7zM291 419.3v93.7h1v-93.7zM292 429v82.7h1v-82.7zM293 419.4v93.6h1v-93.6zM294 418.6v92.7h1v-92.7zM295 418.6v93.5h1v-93.5zM296 418.8v92.3h1v-92.3zM297 418.8v71.7h1v-71.7zM298 418.3v94.7h1v-94.7zM299 419.1v93.9h1v-93.9zM300 419.2v93.8h1v-93.8zM301 418.3v94.7h1v-94.7zM302 418v95h1v-95zM303 418.7v72.1h1v-72.1zM304 418.5v94h1v-94zM305 419.3v93.7h1v-93.7zM306 418.2v94.8h2v-94.8zM308 418.1v93.1h1v-93.1zM309 418v95h1v-95zM310 418.6v94.4h1v-94.4zM311 418.1v94.9h1v-94.9zM312 418.5v93.7h1v-93.7zM313 418v93.9h1v-93.9zM314 418.4v94.6h1v-94.6zM315 418.1v94.9h1v-94.9zM316 419.3v92.2h1v-92.2zM317 418.3v93.2h1v-93.2zM318 418.9v94.1h1v-94.1zM319 418.7v92.7h1v-92.7zM320 417.9v93.3h1v-93.3zM321 418.3v94.7h1v-94.7zM322 418.8v92.9h1v-92.9zM323 418.4v94.6h1v-94.6zM324 418.6v93.2h1v-93.2zM325 418.8v93.5h1v-93.5zM326 418.2v93.8h1v-93.8zM327 418.2v94.8h1v-94.8zM328 418.8v93.7h1v-93.7zM329 419.1v69.6h1v-69.6zM330 418.7v94.3h1v-94.3zM331 418.4v94.6h1v-94.6zM332 418.5v93.8h1v-93.8zM333 418.5v93h1v-93zM334 418.4v94.6h1v-94.6zM335 418.1v94.9h1v-94.9zM336 418.8v88.5h1v-88.5zM337 418.9v64.2h1v-64.2zM338 418.8v73.6h1v-73.6zM339 419.2v84.8h1v-84.8zM340 418.1v94.9h1v-94.9zM341 418.6v80.6h1v-80.6zM342 418.3v94.7h1v-94.7zM343 418.6v71h1v-71zM344 419v90.4h1v-90.4zM345 418.9v70.5h1v-70.5zM346 417.7v79.6h1v-79.6zM347 418.9v68.9h1v-68.9zM348 419v81.6h1v-81.6zM349 418.1v73.8h1v-73.8zM350 418.7v75.3h1v-75.3zM351 418.6v83.5h1v-83.5zM352 419.4v79.6h1v-79.6zM353 419.7v41h1v-41zM354 419.7v53.7h1v-53.7zM355 419.3v44.1h1v-44.1zM356 421.3v35.3h1v-35.3zM357 422.3v32.1h1v-32.1zM358 420.5v46.1h1v-46.1zM359 420.6v50.3h1v-50.3zM360 420v45.9h1v-45.9zM361 419.4v53.2h1v-53.2zM362 422.4v43.1h1v-43.1zM363 419.1v38h1v-38zM364 419.3v54.5h1v-54.5zM365 420.4v42h1v-42zM366 422.2v18.8h1v-18.8zM367 421v25.5h1v-25.5zM368 423.9v12.9h1v-12.9zM369 418.2v21.8h1v-21.8zM370 421.2v21h1v-21zM371 422.7v20h1v-20zM372 418v20.7h1v-20.7zM373 420.7v25h1v-25zM374 420.3v14.7h1v-14.7zM375 418.8v11.7h1v-11.7zM376 419.7v14.9h1v-14.9zM377 418.6v27.3h1v-27.3zM378 421.1v14.6h1v-14.6zM379 419.6v29.4h1v-29.4zM380 423.4v26.8h1v-26.8zM381 421.3v11.5h1v-11.5zM382 420.4v13.3h1v-13.3zM383 419.9v26.7h1v-26.7zM384 421.5v10.1h1v-10.1zM385 421.1v6.2h1v-6.2zM386 418.4v22.7h1v-22.7zM387 419.3v60.9h1v-60.9zM388 418.9v53.6h1v-53.6zM389 422v54h1v-54zM390 422.8v66.2h1v-66.2zM391 420.1v55.3h1v-55.3zM392 420.6v42.6h1v-42.6zM393 420.7v54.3h1v-54.3zM394 419.3v62.5h1v-62.5zM395 422v38.7h1v-38.7zM396 423.1v54.7h1v-54.7zM397 419.5v52.8h1v-52.8zM398 419.9v63.5h1v-63.5zM399 423.6v50.4h1v-50.4zM400 420.1v54.9h1v-54.9zM401 422v51.4h1v-51.4zM402 420.6v53.3h1v-53.3zM403 418.9v61.4h1v-61.4zM404 424.1v52.3h1v-52.3zM405 418.2v25.4h1v-25.4zM406 418.4v26.4h1v-26.4zM407 419.6v24.5h1v-24.5zM408 417.9v23.6h1v-23.6zM409 418.8v29.8h1v-29.8zM410 419.2v25.5h1v-25.5zM411 418.6v28.9h1v-28.9zM412 418.2v30.6h1v-30.6zM413 418.5v30.1h1v-30.1zM414 418.6v32.9h1v-32.9zM415 418.6v46.9h1v-46.9zM416 418.8v35.3h1v-35.3zM417 418.2v48.6h1v-48.6zM418 418.1v50.2h1v-50.2zM419 417.9v43.9h1v-43.9zM420 418.9v42.8h1v-42.8zM421 418.4v30.5h1v-30.5zM422 418.4v51.5h1v-51.5zM423 418.1v41.8h1v-41.8zM424 418.8v44.3h1v-44.3zM425 418.3v49.8h1v-49.8zM426 418.6v45.6h1v-45.6zM427 419v47.2h1v-47.2zM428 418.5v38.4h1v-38.4zM429 418.3v44.7h1v-44.7zM430 418.9v58.1h1v-58.1zM431 418.1v34.4h1v-34.4zM432 418.4v51.5h1v-51.5zM433 418.4v39.3h1v-39.3zM434 418.8v24.4h1v-24.4zM435 419.3v15.8h1v-15.8zM436 418.1v25.8h1v-25.8zM437 417.8v8.7h1v-8.7zM438 418.4v19.7h1v-19.7zM439 419.2v14.3h1v-14.3zM440 419.1v17h1v-17zM441 418.3v9.6h1v-9.6zM442 418.8v22.9h1v-22.9zM443 418.8v12.3h1v-12.3zM444 418.7v.4h1v-.4zM445 418.9v18.7h1v-18.7zM446 418.9v34.3h1v-34.3zM447 418.6v19.4h1v-19.4zM448 419.2v20h1v-20zM449 418.6v19h1v-19zM450 418.9v9.4h1v-9.4zM451 419v10.6h1v-10.6zM452 418.8v22.4h1v-22.4zM453 418.2v7.6h1v-7.6zM454 419.1v8.1h1v-8.1zM455 418v3.5h1v-3.5zM456 418v8.2h1v-8.2zM457 419v20.8h1v-20.8zM458 418.4v6.9h1v-6.9zM459 419v4.9h1v-4.9zM460 418.2v12.7h1v-12.7zM461 418.4v10h1v-10zM462 419.2v29.3h1v-29.3zM463 418.8v20h1v-20zM464 418.3v8.2h1v-8.2zM466 418v7.8h1v-7.8zM467 419v8.5h1v-8.5zM468 419.1v11.4h1v-11.4zM469 418.6v.5h1v-.5zM470 418.8v29.8h1v-29.8zM471 417.8v26.4h1v-26.4zM472 418.4v2.3h1v-2.3zM473 418.4v15.2h1v-15.2zM474 418.4v7.3h1v-7.3zM475 418.6v5.6h1v-5.6zM476 418.6v6.8h1v-6.8zM477 418.4v15.7h1v-15.7zM478 419.1v13h1v-13zM479 418.9v18.6h1v-18.6zM480 418.7v23.4h1v-23.4zM481 417.9v10.1h1v-10.1zM484 418.1v26.2h1v-26.2zM486 418.7v.5h1v-.5zM487 418.6v23.6h1v-23.6zM488 418.3v25.4h1v-25.4zM489 418.5v16.4h1v-16.4zM490 418.2v16.5h1v-16.5zM491 418.4v3.6h1v-3.6zM493 418.5v6.6h1v-6.6zM494 418.3v11.1h1v-11.1zM496 419.2v23.2h1v-23.2zM497 418.5v7.7h1v-7.7zM498 418.3v15.9h1v-15.9zM499 419.2v20.6h1v-20.6zM500 419v29.8h1v-29.8zM501 419v10h1v-10zM502 418.3v20.1h1v-20.1zM504 418.7v8.7h1v-8.7zM505 418.5v34.2h1v-34.2zM506 417.8v37.2h1v-37.2zM507 419.1v34.2h1v-34.2zM508 418.8v26.4h1v-26.4zM509 418.9v47.5h1v-47.5zM510 419.2v29.3h1v-29.3zM511 418.3v38.9h1v-38.9zM512 418.4v34.3h1v-34.3zM513 418.4v17.4h1v-17.4zM514 419v44.4h1v-44.4zM515 418v40.4h1v-40.4zM516 418.7v28.2h1v-28.2zM517 418v45.1h1v-45.1zM518 419.4v28.9h1v-28.9zM519 418.3v57.1h1v-57.1zM520 419.1v40.3h1v-40.3zM521 418.5v49.8h1v-49.8zM522 418.3v27.3h1v-27.3zM523 418v33.7h1v-33.7zM524 418.7v30.3h1v-30.3zM525 418.6v23.4h1v-23.4zM526 417.5v33.9h1v-33.9zM527 419.3v22h1v-22zM528 418.6v38.3h1v-38.3zM529 418.9v28h1v-28zM530 419.1v10.4h1v-10.4zM531 418.6v14.4h1v-14.4zM532 420.9v33h1v-33zM533 419.7v17.8h1v-17.8zM534 420.2v20.2h1v-20.2zM535 418v21.9h1v-21.9zM536 419.1v15.1h1v-15.1zM537 419.3v19.5h1v-19.5zM538 419.9v37.7h1v-37.7zM539 419.4v22.8h1v-22.8zM540 424.7v26.8h1v-26.8zM541 425.6v29.9h1v-29.9zM542 420v48h1v-48zM543 422.3v8.5h1v-8.5zM544 422.3v59.7h1v-59.7zM545 421.4v17.2h1v-17.2zM546 417.4v52.5h1v-52.5zM547 423.9v23h1v-23zM548 427.7v44h1v-44zM549 437v23.4h1v-23.4zM550 439.2v2.2h1v-2.2zM551 427.2v27.8h1v-27.8zM552 422.7v34.2h1v-34.2zM553 433.3v32.7h1v-32.7zM554 419.3v20.7h1v-20.7zM555 428.9v13.1h1v-13.1zM556 422.8v40.9h1v-40.9zM559 421.9v42h1v-42zM560 429.7v13.6h1v-13.6zM561 423.8v40.1h1v-40.1zM562 422.5v36.4h1v-36.4zM563 426.8v55.5h1v-55.5zM564 431v18.1h1v-18.1zM566 432.6v22.5h1v-22.5zM567 424.8v2.8h1v-2.8zM568 428.7v46.4h1v-46.4zM569 421.7v29.7h1v-29.7zM570 423.8v3.8h1v-3.8zM571 426.6v2.1h1v-2.1zM572 427.9v12.8h1v-12.8zM573 425v4.8h1v-4.8zM575 425.8v6.5h1v-6.5zM576 421v36h1v-36zM578 426.5v25.8h1v-25.8zM579 424.6v30.7h1v-30.7zM580 432.1v21.4h1v-21.4zM581 427.8v45.4h1v-45.4zM582 426.9v7.7h1v-7.7zM583 433.9v22.8h1v-22.8zM586 419.4v35.5h1v-35.5zM587 418.6v31.8h1v-31.8zM588 419v13.1h1v-13.1zM589 419.3v13.3h1v-13.3zM590 418.9v18.6h1v-18.6zM591 419.9v36.9h1v-36.9zM592 424v48.5h1v-48.5zM593 424.4v54.2h1v-54.2zM594 424.7v31.3h1v-31.3zM595 424.3v32.8h1v-32.8zM596 421.8v59.4h1v-59.4zM597 424.6v14.1h1v-14.1zM598 424.5v12.6h1v-12.6zM599 429.4v23.4h1v-23.4zM600 420.6v7.9h1v-7.9zM601 422v1.5h1v-1.5zM602 420.6v45h1v-45zM603 421.9v10.8h1v-10.8zM604 417.5v54.1h1v-54.1zM605 425.1v20.1h1v-20.1zM606 419.9v36.8h1v-36.8zM607 424.5v19.8h1v-19.8zM608 418.6v30.7h1v-30.7zM609 420.5v38h1v-38zM610 422.9v3.3h1v-3.3zM611 418.9v52.9h1v-52.9zM612 421.7v27.8h1v-27.8zM614 419v16.8h1v-16.8zM616 423.1v42.3h1v-42.3zM617 423.3v11.3h1v-11.3zM618 423.7v16.4h1v-16.4zM619 428.1v20.4h1v-20.4zM620 420v23.2h1v-23.2zM621 422.3v4h1v-4zM622 419.3v44.6h1v-44.6zM623 423v36.4h1v-36.4zM624 421.5v32.3h1v-32.3zM625 423.1v18.9h1v-18.9zM626 422.8v53.5h1v-53.5zM628 419.3v17.2h1v-17.2zM629 420.9v.5h1v-.5zM630 423.5v36.4h1v-36.4zM631 417.6v26.4h1v-26.4zM632 424.2v19.9h1v-19.9zM633 420.5v4.1h1v-4.1zM634 421v47.8h1v-47.8zM635 421v28.4h1v-28.4zM636 425.1v22.6h1v-22.6zM638 422.7v52.6h1v-52.6zM639 431.2v29.1h1v-29.1zM653 418.5v41.8h1v-41.8zM654 418v60.5h1v-60.5zM655 418.5v39h1v-39zM656 418.5v69.8h1v-69.8zM657 418.6v62.3h1v-62.3zM658 419v59.6h1v-59.6zM659 418.1v79.8h1v-79.8zM660 419v66.2h1v-66.2zM661 418.6v64.6h1v-64.6zM662 418.8v71h1v-71zM663 418.6v11.4h1v-11.4zM664 418.9v4.5h1v-4.5zM665 419.1v2.6h1v-2.6zM666 418.7v9.8h1v-9.8zM667 418.3v10.6h1v-10.6zM668 419.6v3.5h1v-3.5zM669 418.5v3.5h1v-3.5zM670 418.3v7.5h1v-7.5zM671 418.9v4h1v-4zM672 419.1v15.3h1v-15.3zM673 419.1v4.7h1v-4.7zM674 419v5.1h1v-5.1zM675 418.8v1.7h1v-1.7zM676 417.7v11.5h1v-11.5zM677 418.1v3.4h1v-3.4zM678 418.3v4.3h1v-4.3zM680 419.3v5.6h1v-5.6zM681 420.3v3h1v-3zM682 422v6.1h1v-6.1zM683 421.5v3h1v-3zM685 420.7v3h1v-3zM686 418.9v1.1h1v-1.1zM687 422.9v4.1h1v-4.1zM688 421v8.7h1v-8.7zM689 420.8v2.6h1v-2.6zM690 422.1v4.1h1v-4.1zM692 419.4v1.8h1v-1.8zM693 419.7v2.7h1v-2.7zM694 417.4v1.4h1v-1.4zM696 417.8v2.5h1v-2.5zM697 419.6v1.5h1v-1.5zM698 420.5v2.3h1v-2.3zM700 421.4v8.1h1v-8.1zM702 422.4v3.3h1v-3.3zM704 417.4v4.8h1v-4.8zM705 419.3v2.5h1v-2.5zM834 444.7v4.2h1v-4.2zM836 417.9v11.8h1v-11.8zM837 455.7v4.3h1v-4.3zM838 451.1v12.1h1v-12.1zM839 432.8v2.9h1v-2.9zM840 425.7v13.6h1v-13.6zM887 456.2v4.9h1v-4.9zM888 432v12h1v-12zM889 433.7v8.5h1v-8.5zM890 456.7v9.9h1v-9.9zM891 444.6v9h1v-9zM892 434v10.9h1v-10.9zM893 456.9v7.9h1v-7.9zM894 451.6v8h1v-8zM895 444.6v3.4h1v-3.4zM896 428.3v10.4h1v-10.4zM897 440.2v11.6h1v-11.6zM898 449.4v6.1h1v-6.1zM900 457.4v27.4h1v-27.4zM901 450.7v22.5h1v-22.5zM902 441.5v37.9h1v-37.9zM903 438v39h1v-39zM904 445.6v38.3h1v-38.3zM905 437v41.5h1v-41.5zM906 457.8v31.3h1v-31.3zM907 445v32.3h1v-32.3zM908 467.5v6.6h1v-6.6zM909 439.9v24.3h1v-24.3zM910 426.3v10h1v-10zM911 436.3v32.8h1v-32.8zM912 436.9v11.3h1v-11.3zM914 437.5v30.4h1v-30.4zM915 417.4v34.1h1v-34.1zM916 432.4v18.6h1v-18.6zM917 444.5v16.1h1v-16.1zM918 466.7v3.1h1v-3.1zM919 441.2v23h1v-23zM920 426.6v25h1v-25zM921 456.8v5.9h1v-5.9zM922 455.4v5.7h1v-5.7zM923 417.4v11.3h1v-11.3zM924 417.4v20.3h1v-20.3zM925 458.2v8.2h1v-8.2zM926 417.4v39h1v-39zM927 444v4.4h1v-4.4zM928 422v22.4h1v-22.4zM929 417.5v24.8h1v-24.8zM930 439.4v24.3h1v-24.3zM931 437.3v25h1v-25z"/>
<path fill="#696969" d="M265 419.8v93.2h1v-93.2zM266 420.9v92.1h1v-92.1zM267 420.3v92.7h2v-92.7zM269 420.4v92.6h1v-92.6zM270 420.7v92.3h1v-92.3zM271 419.5v93.5h1v-93.5zM272 420.1v92.9h1v-92.9zM273 418.5v19.1h1v-19.1zM274 418.3v15.5h1v-15.5zM276 418.9v15.5h1v-15.5zM286 418.2v5.5h1v-5.5zM287 418.7v17.5h1v-17.5zM292 418.3v10.7h1v-10.7zM353 418.1v1.6h1v-1.6zM354 419v.7h1v-.7zM355 418.8v.5h1v-.5zM356 419.4v1.9h1v-1.9zM357 418.8v3.5h1v-3.5zM358 417.8v2.7h1v-2.7zM359 418.7v1.9h1v-1.9zM360 419.2v.8h1v-.8zM362 418.8v3.6h1v-3.6zM365 418.5v1.9h1v-1.9zM366 418.7v3.5h1v-3.5zM367 418.4v2.6h1v-2.6zM368 418.1v5.8h1v-5.8zM370 418.7v2.5h1v-2.5zM371 418v4.7h1v-4.7zM373 418.8v1.9h1v-1.9zM374 417.9v2.4h1v-2.4zM376 418.7v1h1v-1zM378 418.8v2.3h1v-2.3zM379 418v1.6h1v-1.6zM380 419.1v4.3h1v-4.3zM381 418.4v2.9h1v-2.9zM382 419.2v1.2h1v-1.2zM383 417.9v2h1v-2zM384 418.3v3.2h1v-3.2zM385 418.7v2.4h1v-2.4zM389 418.4v3.6h1v-3.6zM390 418.5v4.3h1v-4.3zM391 418.9v1.2h1v-1.2zM392 419v1.6h1v-1.6zM393 418.5v2.2h1v-2.2zM394 418.2v1.1h1v-1.1zM395 419v3h1v-3zM396 419.1v4h1v-4zM397 418.9v.6h1v-.6zM398 418.7v1.2h1v-1.2zM399 417.9v5.7h1v-5.7zM400 418.4v1.7h1v-1.7zM401 419.2v2.8h1v-2.8zM402 418.3v2.3h1v-2.3zM404 419.1v5h1v-5z"/>
<path fill="#a07520" d="M88 476.3v18h1v-18zM89 422.3v56.2h1v-56.2zM90 464.8v36.3h1v-36.3zM91 459.2v32.8h1v-32.8zM92 464v35.5h1v-35.5zM93 460.7v22.6h1v-22.6zM94 447.3v29.5h1v-29.5zM95 463v32.5h1v-32.5zM96 484v16.1h1v-16.1zM97 421.6v80.5h1v-80.5zM98 418.1v87.7h1v-87.7zM99 419.5v82.7h1v-82.7zM100 420.5v91.1h1v-91.1zM101 419.7v84.7h1v-84.7zM102 419.3v82.1h1v-82.1zM103 420.7v92.3h1v-92.3zM104 419.6v89.7h1v-89.7zM105 419.8v89.4h1v-89.4zM106 419.8v90.9h1v-90.9zM107 418.2v26.5h1v-26.5zM108 418.2v12.2h1v-12.2zM109 418.1v56.7h1v-56.7zM110 418.7v47.5h1v-47.5zM111 418.8v52h1v-52zM112 419v48.8h1v-48.8zM113 418.3v53.2h1v-53.2zM114 419v53.3h1v-53.3zM187 418.6v5h1v-5zM188 418.2v12h1v-12zM189 418.4v17.5h1v-17.5zM191 418.6v7.3h1v-7.3zM192 417.8v5.2h1v-5.2zM193 418.5v5h1v-5zM194 418.6v18.7h1v-18.7zM195 418.2v4.7h1v-4.7zM196 418.3v9.2h1v-9.2zM197 418.4v14h1v-14zM198 418.5v3.5h1v-3.5zM199 417.9v13.9h1v-13.9zM200 418.3v14.6h1v-14.6zM201 418.6v12h1v-12zM202 419.1v21.6h1v-21.6zM203 418.3v2.4h1v-2.4zM204 418.3v1.6h1v-1.6zM206 418.3v.4h1v-.4zM207 418.8v3h1v-3zM208 419.3v1.8h1v-1.8zM209 419.2v3.9h1v-3.9zM548 424.8v2.9h1v-2.9zM549 427.4v9.6h1v-9.6zM550 426.1v13.1h1v-13.1zM551 422.3v4.9h1v-4.9zM552 421.7v1h1v-1zM553 428.8v4.5h1v-4.5zM555 418.9v10h1v-10zM557 422.1v7.1h1v-7.1zM559 418.5v3.4h1v-3.4zM560 423.1v6.6h1v-6.6zM561 422.3v1.5h1v-1.5zM562 421.3v1.2h1v-1.2zM563 418.7v8.1h1v-8.1zM564 420.5v10.5h1v-10.5zM565 421.6v6.5h1v-6.5zM566 421.2v11.4h1v-11.4zM567 422.3v2.5h1v-2.5zM569 417.5v4.2h1v-4.2zM570 419.3v4.5h1v-4.5zM571 420.7v5.9h1v-5.9zM572 423.1v4.8h1v-4.8zM573 421.6v3.4h1v-3.4zM574 420.7v10.9h1v-10.9zM575 421.6v4.2h1v-4.2zM576 420.3v.7h1v-.7zM577 422.1v5h1v-5zM578 420.8v5.7h1v-5.7zM579 418.9v5.7h1v-5.7zM580 424.6v7.5h1v-7.5zM581 425.9v1.9h1v-1.9zM582 420.6v6.3h1v-6.3zM583 424.4v9.5h1v-9.5zM584 419.3v3.3h1v-3.3zM585 427v2.5h1v-2.5zM592 422.4v1.6h1v-1.6zM594 419.1v5.6h1v-5.6zM595 420.9v3.4h1v-3.4zM596 420.2v1.6h1v-1.6zM598 421.6v2.9h1v-2.9zM599 422.5v6.9h1v-6.9zM600 418.9v1.7h1v-1.7zM602 418.9v1.7h1v-1.7zM605 424.1v1h1v-1zM607 419.9v4.6h1v-4.6zM608 417.7v.9h1v-.9zM610 420.4v2.5h1v-2.5zM612 420.1v1.6h1v-1.6zM613 421.6v1.2h1v-1.2zM615 417.8v1h1v-1zM616 420v3.1h1v-3.1zM617 418v5.3h1v-5.3zM618 417.8v5.9h1v-5.9zM619 422.2v5.9h1v-5.9zM620 418.4v1.6h1v-1.6zM621 419.5v2.8h1v-2.8zM623 420.6v2.4h1v-2.4zM624 419.9v1.6h1v-1.6zM626 421.3v1.5h1v-1.5zM632 419.1v5.1h1v-5.1zM634 418.8v2.2h1v-2.2zM638 420.1v2.6h1v-2.6zM639 422.1v9.1h1v-9.1zM775 439.2v12.8h1v-12.8zM776 437.2v26.7h1v-26.7zM777 423.9v15.8h1v-15.8zM778 423v13.7h1v-13.7zM779 425.9v11.4h1v-11.4zM780 506.6v6.4h2v-6.4zM782 504.6v8.4h1v-8.4zM783 500.2v12.8h1v-12.8zM784 509.5v3.5h1v-3.5zM785 504.2v8.8h1v-8.8zM786 508.5v4.5h1v-4.5zM787 501.4v11.6h1v-11.6zM789 492.1v20.9h1v-20.9zM790 510.5v2.5h1v-2.5zM792 510.1v2.9h1v-2.9zM793 507.8v5.2h1v-5.2zM794 489.4v23.6h1v-23.6zM795 501.9v11.1h1v-11.1zM802 501.3v11.7h1v-11.7zM828 493.1v19.9h1v-19.9z"/>
<path fill="#30609a" d="M88 417.4v58.9h1v-58.9zM89 417.4v4.9h1v-4.9zM90 417.4v47.4h1v-47.4zM91 417.4v41.8h1v-41.8zM92 417.4v46.6h1v-46.6zM93 417.4v43.3h1v-43.3zM94 417.4v29.9h1v-29.9zM95 417.4v45.6h1v-45.6zM96 417.4v66.6h1v-66.6zM97 417.4v4.2h1v-4.2zM98 417.5v.6h1v-.6zM99 417.4v2.1h1v-2.1zM100 417.4v3.1h1v-3.1zM101 417.4v2.3h1v-2.3zM102 417.4v1.9h1v-1.9zM103 417.8v2.9h1v-2.9zM104 417.4v2.2h1v-2.2zM105 417.5v2.3h1v-2.3zM106 417.4v2.4h1v-2.4zM107 417.4v.8h2v-.8zM109 417.4v.7h1v-.7zM110 417.4v1.3h1v-1.3zM111 417.4v1.4h1v-1.4zM112 417.4v1.6h1v-1.6zM113 417.4v.9h1v-.9zM114 417.4v1.6h1v-1.6zM115 417.4v1.1h1v-1.1zM116 417.4v1.4h1v-1.4zM117 417.4v.8h1v-.8zM118 417.7v1.4h1v-1.4zM119 417.5v1.7h1v-1.7zM120 417.4v1.4h1v-1.4zM121 417.4v.9h2v-.9zM123 417.4v1.7h1v-1.7zM124 417.4v1.3h1v-1.3zM125 417.4v1.5h1v-1.5zM126 417.4v.9h1v-.9zM127 417.4v1.8h1v-1.8zM128 417.4v1h1v-1zM129 417.4v1.4h1v-1.4zM130 417.5v1.2h1v-1.2zM131 417.4v1.2h1v-1.2zM132 417.4v.8h1v-.8zM133 417.5v1.2h1v-1.2zM134 417.4v1.5h2v-1.5zM136 417.4v1.6h1v-1.6zM137 417.4v.6h1v-.6zM138 417.4v1.3h1v-1.3zM139 417.4v1.4h1v-1.4zM140 417.4v1h1v-1zM141 417.4v.4h1v-.4zM142 417.4v1.4h1v-1.4zM143 417.4v1.5h1v-1.5zM144 417.4v1.7h1v-1.7zM145 417.4v1h1v-1zM146 417.4v1.3h1v-1.3zM147 417.4v1.2h1v-1.2zM148 417.4v1h1v-1zM149 417.4v1.1h1v-1.1zM150 417.5v1.1h1v-1.1zM151 417.4v1.5h1v-1.5zM152 417.4v1.6h1v-1.6zM153 417.4v.8h1v-.8zM154 417.4v1.8h1v-1.8zM155 417.4v1.7h2v-1.7zM157 417.4v1.3h2v-1.3zM159 417.4v1.4h1v-1.4zM160 417.5v1h1v-1zM161 417.4v1.2h1v-1.2zM162 417.4v1.6h1v-1.6zM163 417.4v1.4h1v-1.4zM164 417.5v.8h1v-.8zM165 417.4v1.7h1v-1.7zM166 417.6v.7h1v-.7zM167 417.8v.9h1v-.9zM168 417.4v1.4h1v-1.4zM169 417.4v1h1v-1zM170 417.4v1.2h1v-1.2zM171 417.4v.6h1v-.6zM173 417.5v1.6h1v-1.6zM174 417.4v1h1v-1zM175 417.4v1.2h1v-1.2zM176 417.4v.9h1v-.9zM177 417.4v1.1h1v-1.1zM178 417.4v1.2h1v-1.2zM179 417.4v1.1h2v-1.1zM181 417.4v1.2h2v-1.2zM183 417.4v1.3h1v-1.3zM184 417.4v.9h1v-.9zM185 417.4v.7h1v-.7zM186 417.4v.9h1v-.9zM187 417.4v1.2h1v-1.2zM188 417.4v.8h1v-.8zM189 417.4v1h1v-1zM190 417.4v1.3h1v-1.3zM191 417.5v1.1h1v-1.1zM192 417.4v.4h1v-.4zM193 417.4v1.1h1v-1.1zM194 417.4v1.2h1v-1.2zM195 417.4v.8h1v-.8zM196 417.4v.9h1v-.9zM197 417.4v1h1v-1zM198 417.4v1.1h1v-1.1zM199 417.4v.5h1v-.5zM200 417.5v.8h1v-.8zM201 417.4v1.2h1v-1.2zM202 417.4v1.7h1v-1.7zM203 417.4v.9h2v-.9zM205 417.5v1.2h1v-1.2zM206 417.5v.8h1v-.8zM207 417.4v1.4h1v-1.4zM208 417.4v1.9h1v-1.9zM209 417.4v1.8h1v-1.8zM210 417.4v1.2h2v-1.2zM212 417.4v1.5h1v-1.5zM213 417.4v1.1h2v-1.1zM215 417.5v1.5h1v-1.5zM216 417.4v1.2h1v-1.2zM217 417.4v.8h1v-.8zM218 417.4v1.3h2v-1.3zM220 417.4v1.2h1v-1.2zM221 417.8v1.6h1v-1.6zM222 417.4v.7h1v-.7zM223 417.4v.9h2v-.9zM225 417.4v.4h1v-.4zM226 417.4v1.2h1v-1.2zM227 417.4v1.5h1v-1.5zM228 417.4v1.1h1v-1.1zM229 417.4v.6h1v-.6zM230 417.4v1.6h1v-1.6zM231 417.5v1.5h1v-1.5zM233 417.5v1.3h1v-1.3zM234 417.4v.8h1v-.8zM235 417.4v.9h1v-.9zM236 417.4v1.9h1v-1.9zM237 417.4v1.1h1v-1.1zM238 417.5v1.7h1v-1.7zM239 417.4v.8h1v-.8zM240 417.4v.9h1v-.9zM242 417.5v1.1h1v-1.1zM243 417.4v1.5h1v-1.5zM244 417.4v.8h1v-.8zM245 417.4v.7h1v-.7zM246 417.5v1.7h1v-1.7zM247 417.4v1.2h1v-1.2zM248 417.4v1.3h1v-1.3zM249 417.4v1.4h1v-1.4zM250 417.8v1.3h1v-1.3zM252 417.4v.8h1v-.8zM253 417.5v.9h1v-.9zM254 417.5v1.3h1v-1.3zM255 417.7v1.1h1v-1.1zM256 417.4v1.2h1v-1.2zM257 417.9v.4h1v-.4zM258 417.4v1.3h1v-1.3zM259 417.5v.7h1v-.7zM260 417.7v1.3h1v-1.3zM261 417.4v1.1h1v-1.1zM262 417.4v.8h1v-.8zM263 417.4v1.3h1v-1.3zM264 417.4v1h1v-1zM265 417.4v2.4h1v-2.4zM266 417.4v3.5h1v-3.5zM267 417.4v2.9h2v-2.9zM269 417.4v3h1v-3zM270 417.4v3.3h1v-3.3zM271 417.4v2.1h1v-2.1zM272 417.4v2.7h1v-2.7zM273 417.4v1.1h1v-1.1zM274 417.4v.9h1v-.9zM275 417.4v.6h1v-.6zM276 417.5v1.4h1v-1.4zM277 417.4v1.3h1v-1.3zM278 417.4v1.2h1v-1.2zM279 417.4v1h1v-1zM280 417.4v.9h1v-.9zM281 417.4v1.5h1v-1.5zM282 417.4v1.3h1v-1.3zM283 417.5v1h1v-1zM285 417.4v.9h1v-.9zM286 417.4v.8h1v-.8zM287 417.4v1.3h1v-1.3zM288 417.4v1.7h1v-1.7zM289 417.4v.7h1v-.7zM290 417.4v.8h1v-.8zM291 417.4v1.9h1v-1.9zM292 417.4v.9h1v-.9zM293 417.5v1.9h1v-1.9zM294 417.4v1.2h2v-1.2zM296 417.4v1.4h2v-1.4zM298 417.5v.8h1v-.8zM299 417.6v1.5h1v-1.5zM300 417.6v1.6h1v-1.6zM301 417.4v.9h1v-.9zM302 417.4v.6h1v-.6zM303 417.5v1.2h1v-1.2zM304 417.5v1h1v-1zM305 417.4v1.9h1v-1.9zM306 417.5v.7h1v-.7zM307 417.4v.8h1v-.8zM308 417.4v.7h1v-.7zM309 417.6v.4h1v-.4zM310 417.4v1.2h1v-1.2zM312 417.5v1h1v-1zM313 417.4v.6h1v-.6zM314 417.4v1h1v-1zM315 417.4v.7h1v-.7zM316 417.4v1.9h1v-1.9zM317 417.4v.9h1v-.9zM318 417.4v1.5h1v-1.5zM319 417.4v1.3h1v-1.3zM320 417.4v.5h1v-.5zM321 417.4v.9h1v-.9zM322 417.4v1.4h1v-1.4zM323 417.4v1h1v-1zM324 417.4v1.2h1v-1.2zM325 417.4v1.4h1v-1.4zM326 417.4v.8h2v-.8zM328 417.4v1.4h1v-1.4zM329 417.8v1.3h1v-1.3zM330 417.7v1h1v-1zM331 417.4v1h1v-1zM332 417.4v1.1h1v-1.1zM333 417.5v1h1v-1zM334 417.4v1h1v-1zM335 417.4v.7h1v-.7zM336 417.4v1.4h1v-1.4zM337 417.4v1.5h1v-1.5zM338 417.4v1.4h1v-1.4zM339 417.4v1.8h1v-1.8zM340 417.4v.7h1v-.7zM341 417.4v1.2h1v-1.2zM342 417.4v.9h1v-.9zM343 417.4v1.2h1v-1.2zM344 417.4v1.6h1v-1.6zM345 417.5v1.4h1v-1.4zM347 417.4v1.5h1v-1.5zM348 417.4v1.6h1v-1.6zM349 417.4v.7h1v-.7zM350 417.4v1.3h1v-1.3zM351 417.4v1.2h1v-1.2zM352 417.4v2h1v-2zM353 417.4v.7h1v-.7zM354 417.4v1.6h1v-1.6zM355 417.4v1.4h1v-1.4zM356 417.4v2h1v-2zM357 417.5v1.3h1v-1.3zM358 417.4v.4h1v-.4zM359 417.4v1.3h1v-1.3zM360 417.4v1.8h1v-1.8zM361 417.4v2h1v-2zM362 417.4v1.4h1v-1.4zM363 417.4v1.7h1v-1.7zM364 417.4v1.9h1v-1.9zM365 417.5v1h1v-1zM366 417.4v1.3h1v-1.3zM367 417.4v1h1v-1zM368 417.4v.7h1v-.7zM369 417.5v.7h1v-.7zM370 417.5v1.2h1v-1.2zM371 417.4v.6h2v-.6zM373 417.8v1h1v-1zM374 417.4v.5h1v-.5zM375 417.4v1.4h1v-1.4zM376 417.4v1.3h1v-1.3zM377 417.4v1.2h1v-1.2zM378 417.5v1.3h1v-1.3zM379 417.4v.6h1v-.6zM380 417.4v1.7h1v-1.7zM381 417.4v1h1v-1zM382 417.4v1.8h1v-1.8zM383 417.4v.5h1v-.5zM384 417.4v.9h1v-.9zM385 417.4v1.3h1v-1.3zM386 417.8v.6h1v-.6zM387 417.6v1.7h1v-1.7zM388 417.4v1.5h1v-1.5zM389 417.4v1h1v-1zM390 417.4v1.1h1v-1.1zM391 417.5v1.4h1v-1.4zM392 417.4v1.6h1v-1.6zM393 417.4v1.1h1v-1.1zM394 417.4v.8h1v-.8zM395 417.4v1.6h1v-1.6zM396 417.4v1.7h1v-1.7zM397 417.4v1.5h1v-1.5zM398 417.4v1.3h1v-1.3zM399 417.4v.5h1v-.5zM400 417.4v1h1v-1zM401 417.4v1.8h1v-1.8zM402 417.4v.9h1v-.9zM403 417.4v1.5h1v-1.5zM404 417.4v1.7h1v-1.7zM405 417.4v.8h1v-.8zM406 417.4v1h1v-1zM407 417.5v2.1h1v-2.1zM408 417.4v.5h1v-.5zM409 417.4v1.4h1v-1.4zM410 417.5v1.7h1v-1.7zM411 417.4v1.2h1v-1.2zM412 417.4v.8h1v-.8zM413 417.4v1.1h1v-1.1zM414 417.4v1.2h2v-1.2zM416 417.4v1.4h1v-1.4zM417 417.4v.8h1v-.8zM418 417.4v.7h1v-.7zM419 417.4v.5h1v-.5zM420 417.4v1.5h1v-1.5zM421 417.5v.9h2v-.9zM423 417.4v.7h1v-.7zM424 417.4v1.4h1v-1.4zM425 417.4v.9h1v-.9zM426 417.4v1.2h1v-1.2zM427 417.4v1.6h1v-1.6zM428 417.4v1.1h1v-1.1zM429 417.4v.9h1v-.9zM430 417.5v1.4h1v-1.4zM431 417.4v.7h1v-.7zM432 417.4v1h2v-1zM434 417.5v1.3h1v-1.3zM435 417.4v1.9h1v-1.9zM436 417.4v.7h1v-.7zM438 417.4v1h1v-1zM439 417.4v1.8h1v-1.8zM440 417.4v1.7h1v-1.7zM441 417.4v.9h1v-.9zM442 417.5v1.3h1v-1.3zM443 417.4v1.4h1v-1.4zM444 417.5v1.2h1v-1.2zM445 417.4v1.5h2v-1.5zM447 417.4v1.2h1v-1.2zM448 417.5v1.7h1v-1.7zM449 417.5v1.1h1v-1.1zM450 417.4v1.5h1v-1.5zM451 417.5v1.5h1v-1.5zM452 417.4v1.4h1v-1.4zM453 417.4v.8h1v-.8zM454 417.4v1.7h1v-1.7zM455 417.4v.6h2v-.6zM457 417.4v1.6h1v-1.6zM458 417.4v1h1v-1zM459 417.4v1.6h1v-1.6zM460 417.4v.8h1v-.8zM461 417.6v.8h1v-.8zM462 417.4v1.8h1v-1.8zM463 417.7v1.1h1v-1.1zM464 417.4v.9h1v-.9zM465 417.4v1.4h1v-1.4zM466 417.4v.6h1v-.6zM467 417.5v1.5h1v-1.5zM468 417.4v1.7h1v-1.7zM469 417.4v1.2h1v-1.2zM470 417.7v1.1h1v-1.1zM471 417.4v.4h1v-.4zM472 417.7v.7h1v-.7zM473 417.4v1h2v-1zM475 417.8v.8h1v-.8zM476 417.4v1.2h1v-1.2zM477 417.4v1h1v-1zM478 417.5v1.6h1v-1.6zM479 417.6v1.3h1v-1.3zM480 417.4v1.3h1v-1.3zM482 417.4v1.4h1v-1.4zM483 417.4v1h1v-1zM484 417.4v.7h2v-.7zM486 417.5v1.2h1v-1.2zM487 417.5v1.1h1v-1.1zM488 417.6v.7h1v-.7zM489 417.5v1h1v-1zM490 417.4v.8h1v-.8zM491 417.4v1h1v-1zM492 417.4v1.1h2v-1.1zM494 417.4v.9h1v-.9zM495 417.4v.7h1v-.7zM496 417.4v1.8h1v-1.8zM497 417.4v1.1h1v-1.1zM498 417.5v.8h1v-.8zM499 417.7v1.5h1v-1.5zM500 417.4v1.6h2v-1.6zM502 417.4v.9h1v-.9zM503 417.4v1.3h2v-1.3zM505 417.4v1.1h1v-1.1zM507 417.4v1.7h1v-1.7zM508 417.4v1.4h1v-1.4zM509 417.4v1.5h1v-1.5zM510 417.4v1.8h1v-1.8zM511 417.4v.9h1v-.9zM512 417.5v.9h1v-.9zM513 417.4v1h1v-1zM514 417.4v1.6h1v-1.6zM515 417.4v.6h1v-.6zM516 417.4v1.3h1v-1.3zM517 417.4v.6h1v-.6zM518 417.4v2h1v-2zM519 417.4v.9h1v-.9zM520 417.4v1.7h1v-1.7zM521 417.4v1.1h1v-1.1zM522 417.4v.9h1v-.9zM523 417.4v.6h1v-.6zM524 417.4v1.3h1v-1.3zM525 417.5v1.1h1v-1.1zM527 417.4v1.9h1v-1.9zM528 417.5v1.1h1v-1.1zM529 417.4v1.5h1v-1.5zM530 417.5v1.6h1v-1.6zM531 417.4v1.2h1v-1.2zM532 417.4v3.5h1v-3.5zM533 417.4v2.3h1v-2.3zM534 417.4v2.8h1v-2.8zM535 417.4v.6h1v-.6zM536 417.5v1.6h1v-1.6zM537 417.4v1.9h1v-1.9zM538 417.5v2.4h1v-2.4zM539 417.5v1.9h1v-1.9zM540 417.4v7.3h1v-7.3zM541 417.4v8.2h1v-8.2zM542 417.4v2.6h1v-2.6zM543 417.4v4.9h2v-4.9zM545 417.4v4h1v-4zM547 417.4v6.5h1v-6.5zM548 417.5v7.3h1v-7.3zM549 417.4v10h1v-10zM550 417.5v8.6h1v-8.6zM551 417.4v4.9h1v-4.9zM552 417.4v4.3h1v-4.3zM553 417.4v11.4h1v-11.4zM554 417.4v1.9h1v-1.9zM555 417.5v1.4h1v-1.4zM556 417.5v5.3h1v-5.3zM557 417.5v4.6h1v-4.6zM558 417.5v9.5h1v-9.5zM559 417.4v1.1h1v-1.1zM560 417.5v5.6h1v-5.6zM561 417.6v4.7h1v-4.7zM562 417.4v3.9h1v-3.9zM563 417.4v1.3h1v-1.3zM564 417.5v3h1v-3zM565 417.4v4.2h1v-4.2zM566 417.4v3.8h1v-3.8zM567 417.4v4.9h1v-4.9zM568 417.4v11.3h1v-11.3zM570 417.4v1.9h1v-1.9zM571 417.5v3.2h1v-3.2zM572 417.4v5.7h1v-5.7zM573 417.4v4.2h1v-4.2zM574 417.4v3.3h1v-3.3zM575 417.4v4.2h1v-4.2zM576 417.5v2.8h1v-2.8zM577 417.5v4.6h1v-4.6zM578 417.5v3.3h1v-3.3zM579 417.4v1.5h1v-1.5zM580 417.4v7.2h1v-7.2zM581 417.4v8.5h1v-8.5zM582 417.4v3.2h1v-3.2zM583 417.5v6.9h1v-6.9zM584 417.4v1.9h1v-1.9zM585 417.5v9.5h1v-9.5zM586 417.4v2h1v-2zM587 417.5v1.1h1v-1.1zM588 417.5v1.5h1v-1.5zM589 417.5v1.8h1v-1.8zM590 417.4v1.5h1v-1.5zM591 417.4v2.5h1v-2.5zM592 417.4v5h1v-5zM593 417.9v6.5h1v-6.5zM594 417.4v1.7h1v-1.7zM595 417.4v3.5h1v-3.5zM596 417.4v2.8h1v-2.8zM597 417.5v7.1h1v-7.1zM598 417.4v4.2h1v-4.2zM599 417.4v5.1h1v-5.1zM600 417.5v1.4h1v-1.4zM601 417.4v4.6h1v-4.6zM602 417.5v1.4h1v-1.4zM603 417.4v4.5h1v-4.5zM605 417.5v6.6h1v-6.6zM606 417.5v2.4h1v-2.4zM607 417.4v2.5h1v-2.5zM609 417.5v3h1v-3zM610 417.5v2.9h1v-2.9zM611 417.4v1.5h1v-1.5zM612 417.5v2.6h1v-2.6zM613 417.5v4.1h1v-4.1zM614 417.6v1.4h1v-1.4zM616 417.7v2.3h1v-2.3zM617 417.5v.5h1v-.5zM618 417.4v.4h1v-.4zM619 417.5v4.7h1v-4.7zM620 417.5v.9h1v-.9zM621 417.4v2.1h1v-2.1zM622 417.5v1.8h1v-1.8zM623 417.5v3.1h1v-3.1zM624 417.4v2.5h1v-2.5zM625 417.4v5.7h1v-5.7zM626 417.4v3.9h1v-3.9zM627 417.5v2.5h1v-2.5zM628 417.4v1.9h1v-1.9zM629 417.4v3.5h1v-3.5zM630 417.7v5.8h1v-5.8zM632 417.4v1.7h1v-1.7zM633 417.5v3h1v-3zM634 417.5v1.3h1v-1.3zM635 417.4v3.6h1v-3.6zM636 417.5v7.6h1v-7.6zM637 417.5v1.2h1v-1.2zM638 417.4v2.7h1v-2.7zM639 417.4v4.7h1v-4.7zM640 417.4v1.4h1v-1.4zM641 417.4v1.5h1v-1.5zM642 417.4v.7h1v-.7zM643 417.4v.9h1v-.9zM644 417.4v1h1v-1zM645 417.4v1.2h1v-1.2zM646 417.4v.8h1v-.8zM647 417.4v1.7h1v-1.7zM648 417.4v1.1h1v-1.1zM649 417.4v1.2h1v-1.2zM650 417.4v.7h1v-.7zM652 417.4v1.1h1v-1.1zM653 417.5v1h1v-1zM654 417.4v.6h1v-.6zM655 417.4v1.1h2v-1.1zM657 417.5v1.1h1v-1.1zM658 417.4v1.6h1v-1.6zM659 417.4v.7h1v-.7zM660 417.4v1.6h1v-1.6zM661 417.5v1.1h1v-1.1zM662 417.5v1.3h1v-1.3zM663 417.4v1.2h1v-1.2zM664 417.4v1.5h1v-1.5zM665 417.4v1.7h1v-1.7zM666 417.4v1.3h1v-1.3zM667 417.4v.9h1v-.9zM668 417.4v2.2h1v-2.2zM669 417.5v1h1v-1zM670 417.4v.9h1v-.9zM671 417.4v1.5h1v-1.5zM672 417.5v1.6h1v-1.6zM673 417.4v1.7h1v-1.7zM674 417.4v1.6h1v-1.6zM675 417.5v1.3h1v-1.3zM677 417.4v.7h1v-.7zM678 417.4v.9h1v-.9zM679 417.4v1.2h1v-1.2zM680 417.4v1.9h1v-1.9zM681 417.5v2.8h1v-2.8zM682 417.4v4.6h1v-4.6zM683 417.5v4h1v-4zM684 417.5v5h1v-5zM685 417.4v3.3h1v-3.3zM686 417.4v1.5h1v-1.5zM687 417.5v5.4h1v-5.4zM688 417.4v3.6h1v-3.6zM689 417.4v3.4h1v-3.4zM690 417.4v4.7h1v-4.7zM691 417.4v4.2h1v-4.2zM692 417.5v1.9h1v-1.9zM693 417.5v2.2h1v-2.2zM696 417.4v.4h1v-.4zM697 417.6v2h1v-2zM698 417.5v3h1v-3zM699 417.4v.4h1v-.4zM700 417.4v4h1v-4zM701 417.5v3.3h1v-3.3zM702 417.4v5h1v-5zM703 417.4v6.5h1v-6.5zM705 417.4v1.9h1v-1.9zM706 417.5v5.3h1v-5.3zM707 417.4v2.2h1v-2.2zM708 417.4v7.6h1v-7.6zM709 417.5v7.9h1v-7.9zM710 417.4v7.6h1v-7.6zM711 417.5v4.4h1v-4.4zM713 417.4v2.9h1v-2.9zM714 417.4v4.9h1v-4.9zM715 417.4v2.7h1v-2.7zM716 417.5v8.2h1v-8.2zM717 417.4v11.7h1v-11.7zM718 417.4v10.1h1v-10.1zM719 417.4v4.7h1v-4.7zM720 417.4v18h1v-18zM721 417.5v4.9h1v-4.9zM722 417.4v7.1h1v-7.1zM723 417.4v1.8h1v-1.8zM724 417.4v4.6h1v-4.6zM725 417.4v7.6h1v-7.6zM726 417.5v13.3h1v-13.3zM727 417.5v11h1v-11zM728 417.4v16.2h1v-16.2zM729 417.4v5.3h1v-5.3zM730 417.4v18.9h1v-18.9zM731 417.4v19.3h1v-19.3zM732 417.5v22.5h1v-22.5zM733 417.4v17.3h1v-17.3zM734 417.5v24.6h1v-24.6zM735 417.5v26h1v-26zM736 417.4v15.9h1v-15.9zM737 417.4v23.3h1v-23.3zM738 417.4v21.6h1v-21.6zM739 417.4v25.2h1v-25.2zM740 417.4v24.4h1v-24.4zM741 417.4v19.7h1v-19.7zM742 417.4v21.5h1v-21.5zM743 417.5v21h1v-21zM744 417.5v18h1v-18zM745 417.4v30.1h1v-30.1zM746 417.4v21.9h1v-21.9zM747 417.4v17.6h1v-17.6zM748 417.4v23.2h1v-23.2zM749 417.4v21.1h1v-21.1zM751 417.4v23.2h1v-23.2zM752 417.4v18.1h1v-18.1zM753 417.4v7.3h1v-7.3zM754 417.4v24.1h1v-24.1zM755 417.4v13h1v-13zM756 417.4v18h1v-18zM757 417.4v21.2h1v-21.2zM758 417.4v12.9h1v-12.9zM759 417.4v12.6h1v-12.6zM760 417.4v9.1h1v-9.1zM761 417.4v24.6h1v-24.6zM762 417.4v3.3h1v-3.3zM763 417.5v16.9h1v-16.9zM764 417.4v11h1v-11zM765 417.4v6.9h1v-6.9zM766 417.4v7.1h1v-7.1zM767 417.5v4.3h1v-4.3zM768 417.5v5h1v-5zM769 417.4v15.5h1v-15.5zM770 417.4v14.4h1v-14.4zM771 417.4v8.1h1v-8.1zM772 417.4v8.9h1v-8.9zM773 417.4v7.4h1v-7.4zM774 417.4v9.9h1v-9.9zM775 417.4v21.8h1v-21.8zM776 417.5v19.7h1v-19.7zM777 417.5v6.4h1v-6.4zM778 417.4v5.6h1v-5.6zM779 417.4v8.5h1v-8.5zM780 417.4v89.2h2v-89.2zM782 417.4v87.2h1v-87.2zM783 417.4v82.8h1v-82.8zM784 417.4v92.1h1v-92.1zM785 417.4v86.8h1v-86.8zM786 417.4v91.1h1v-91.1zM787 417.4v84h1v-84zM788 417.5v95.5h1v-95.5zM789 417.4v74.7h1v-74.7zM790 417.4v93.1h1v-93.1zM791 417.4v95.6h1v-95.6zM792 417.4v92.7h1v-92.7zM793 417.4v90.4h1v-90.4zM794 417.4v72h1v-72zM795 417.4v84.5h1v-84.5zM796 417.4v95.6h6v-95.6zM802 417.4v83.9h1v-83.9zM803 417.4v95.6h2v-95.6zM805 417.4v83h1v-83zM806 417.4v95.6h2v-95.6zM808 417.4v82.1h1v-82.1zM809 417.4v89.6h1v-89.6zM810 417.4v95.6h8v-95.6zM818 417.4v79.7h1v-79.7zM819 417.4v95.6h9v-95.6zM828 417.4v75.7h1v-75.7zM829 417.4v95.6h1v-95.6zM830 417.4v85h1v-85zM831 417.4v86.1h1v-86.1zM832 417.4v78.8h1v-78.8zM833 417.4v67.2h1v-67.2zM834 417.4v27.3h1v-27.3zM835 417.4v24.1h1v-24.1zM836 417.4v.5h1v-.5zM837 417.4v38.3h1v-38.3zM838 417.7v33.4h1v-33.4zM839 417.4v15.4h1v-15.4zM840 417.4v8.3h1v-8.3zM841 417.4v.4h1v-.4zM843 417.4v1.1h1v-1.1zM844 417.4v1.5h1v-1.5zM845 417.4v1.4h1v-1.4zM846 417.4v1.2h1v-1.2zM847 417.4v1.7h1v-1.7zM848 417.4v2.1h1v-2.1zM850 417.4v.6h1v-.6zM851 417.4v1.5h1v-1.5zM852 417.4v.5h1v-.5zM853 417.4v2.5h1v-2.5zM854 417.4v.5h2v-.5zM858 417.4v.7h1v-.7zM859 417.4v.9h1v-.9zM860 417.4v.6h1v-.6zM861 417.4v2.6h1v-2.6zM863 417.4v.5h1v-.5zM864 417.4v1.1h1v-1.1zM867 417.4v2.6h1v-2.6zM868 417.4v26.6h1v-26.6zM869 417.4v35.5h1v-35.5zM870 417.4v25.7h1v-25.7zM871 417.4v26.9h1v-26.9zM872 417.5v28.7h1v-28.7zM873 417.4v30.8h1v-30.8zM874 417.4v29.8h1v-29.8zM875 417.4v41.4h1v-41.4zM876 417.5v9.9h1v-9.9zM877 417.4v33.2h1v-33.2zM878 417.4v18h1v-18zM881 417.4v1.7h1v-1.7zM882 417.4v24.7h1v-24.7zM883 417.4v39.4h1v-39.4zM884 417.4v16h1v-16zM885 417.4v23.9h1v-23.9zM886 417.5v27.6h1v-27.6zM887 417.4v38.8h1v-38.8zM888 417.4v14.6h1v-14.6zM889 417.4v16.3h1v-16.3zM890 417.4v39.3h1v-39.3zM891 417.4v27.2h1v-27.2zM892 417.4v16.6h1v-16.6zM893 417.4v39.5h1v-39.5zM894 417.4v34.2h1v-34.2zM895 417.4v27.2h1v-27.2zM896 417.4v10.9h1v-10.9zM897 417.4v22.8h1v-22.8zM898 417.4v32h1v-32zM899 417.5v47.3h1v-47.3zM900 417.5v39.9h1v-39.9zM901 417.4v33.3h1v-33.3zM902 417.4v24.1h1v-24.1zM903 417.4v20.6h1v-20.6zM904 417.4v28.2h1v-28.2zM905 417.5v19.5h1v-19.5zM906 417.4v40.4h1v-40.4zM907 417.5v27.5h1v-27.5zM908 417.4v50.1h1v-50.1zM909 417.4v22.5h1v-22.5zM910 417.4v8.9h1v-8.9zM911 417.4v18.9h1v-18.9zM912 417.4v19.5h1v-19.5zM913 417.4v42.9h1v-42.9zM914 417.4v20.1h1v-20.1zM916 417.4v15h1v-15zM917 417.4v27.1h1v-27.1zM918 417.4v49.3h1v-49.3zM919 417.5v23.7h1v-23.7zM920 417.4v9.2h1v-9.2zM921 417.4v39.4h1v-39.4zM922 417.6v37.8h1v-37.8zM925 417.4v40.8h1v-40.8zM927 417.4v26.6h1v-26.6zM928 417.6v4.4h1v-4.4zM930 417.4v22h1v-22zM931 417.5v19.8h1v-19.8zM932 417.4v4.2h1v-4.2zM933 417.4v6.2h1v-6.2zM934 417.4v3.3h1v-3.3zM935 417.4v4.1h1v-4.1zM936 417.4v4.4h1v-4.4zM937 417.4v3.5h1v-3.5zM938 417.4v2.1h1v-2.1zM939 417.4v5.6h1v-5.6zM940 417.4v.8h1v-.8zM941 417.4v4.5h1v-4.5zM942 417.4v1.4h1v-1.4zM943 417.4v2.1h1v-2.1zM944 417.4v1.1h1v-1.1zM945 417.4v5.8h1v-5.8z"/>
<rect x="87.2" y="516.3" width="858.2" height="45.1" fill="#92cf52"/>
<path fill="#4a7cc8" d="M102.6 516.3h1.8v45.1h-1.8zM173.1 516.3h1.8v45.1h-1.8zM192.8 516.3h1.8v45.1h-1.8zM237.7 516.3h1.8v45.1h-1.8zM243.4 516.3h1.8v45.1h-1.8zM283.4 516.3h1.8v45.1h-1.8zM297 516.3h1.8v45.1h-1.8zM317.2 516.3h1.8v45.1h-1.8zM338.3 516.3h1.8v45.1h-1.8zM380.1 516.3h1.6v45.1h-1.6zM391.7 516.3h1.6v45.1h-1.6zM398.9 516.3h1.6v45.1h-1.6zM426.4 516.3h1.6v45.1h-1.6zM429.3 516.3h1.6v45.1h-1.6zM438.6 516.3h1.6v45.1h-1.6zM590.7 516.3h1.6v45.1h-1.6zM629.5 516.3h1.6v45.1h-1.6zM642.5 516.3h1.6v45.1h-1.6zM487.2 516.3h4.3v45.1h-4.3zM492.9 516.3h5.8v45.1h-5.8zM500.2 516.3h5.8v45.1h-5.8zM527.9 516.3h9.3v45.1h-9.3zM538.6 516.3h5.8v45.1h-5.8zM545.9 516.3h12.1v45.1h-12.1zM883.4 516.3h1.5v45.1h-1.5zM894.4 516.3h1.5v45.1h-1.5zM921.9 516.3h1.5v45.1h-1.5zM943.6 516.3h1.5v45.1h-1.5z"/>
<path fill="#7faf8e" d="M93 516.3h1v45.1h-1zM113.3 516.3h1v45.1h-1zM117.6 516.3h1v45.1h-1zM123.4 516.3h1v45.1h-1zM127.7 516.3h1v45.1h-1zM135 516.3h1v45.1h-1zM140.7 516.3h1v45.1h-1zM158.1 516.3h1v45.1h-1zM162.4 516.3h1v45.1h-1zM198.6 516.3h1v45.1h-1zM207.3 516.3h1v45.1h-1zM213.1 516.3h1v45.1h-1zM217.4 516.3h1v45.1h-1zM221.7 516.3h1v45.1h-1zM230.4 516.3h1v45.1h-1zM253.6 516.3h1v45.1h-1zM260.8 516.3h1v45.1h-1zM265.1 516.3h1v45.1h-1zM302.7 516.3h1v45.1h-1zM308.5 516.3h1v45.1h-1zM325.9 516.3h1v45.1h-1zM343.2 516.3h1v45.1h-1zM364.9 516.3h1v45.1h-1zM369.3 516.3h1v45.1h-1zM375.1 516.3h1v45.1h-1zM374.3 516.3h1v45.1h-1zM377.2 516.3h1v45.1h-1zM404.7 516.3h1v45.1h-1zM409.1 516.3h1v45.1h-1zM417.7 516.3h1v45.1h-1zM423.5 516.3h1v45.1h-1zM456.2 516.3h1v45.1h-1zM566.7 516.3h1v45.1h-1zM584.1 516.3h1v45.1h-1zM633.8 516.3h1v45.1h-1zM652 516.3h1v45.1h-1zM656.4 516.3h1v45.1h-1zM471.8 516.3h1.2v45.1h-1.2zM474.7 516.3h1.2v45.1h-1.2zM477.6 516.3h1.2v45.1h-1.2zM481.1 516.3h1.2v45.1h-1.2zM483.4 516.3h1.2v45.1h-1.2zM514.1 516.3h1.2v45.1h-1.2zM516.9 516.3h1.2v45.1h-1.2zM519.8 516.3h1.2v45.1h-1.2zM652.3 516.3h1v45.1h-1zM656.4 516.3h1v45.1h-1zM811.1 516.3h1v45.1h-1zM856.8 516.3h1v45.1h-1zM863.5 516.3h1v45.1h-1zM878.5 516.3h1v45.1h-1zM885.8 516.3h1v45.1h-1zM891.5 516.3h1v45.1h-1zM911.8 516.3h1v45.1h-1zM916.1 516.3h1v45.1h-1zM924.8 516.3h1v45.1h-1zM932 516.3h1v45.1h-1zM936.4 516.3h1v45.1h-1z"/>
<path fill="#d99a3a" d="M108.1 516.3h.9v45.1h-.9zM153.8 516.3h.9v45.1h-.9zM174.9 516.3h.9v45.1h-.9zM289.7 516.3h.9v45.1h-.9zM294.6 516.3h.9v45.1h-.9zM473.3 516.3h.8v45.1h-.8zM479.3 516.3h.8v45.1h-.8z"/>
<path fill="#c8e4a4" d="M129.2 516.3h.7v45.1h-.7zM136.4 516.3h.7v45.1h-.7zM176.9 516.3h.7v45.1h-.7zM182.7 516.3h.7v45.1h-.7zM807.7 516.3h.8v45.1h-.8zM900.8 516.3h.8v45.1h-.8z"/>
<path fill="#5b86c0" d="M525.6 516.3h2.3v45.1h-2.3zM608.6 516.3h5.2v45.1h-5.2z"/>
<path fill="#fb9716" d="M658 516.3h120.7v45.1h-120.7z"/>
<path fill="#6d86b0" d="M664.5 516.3h1.3v45.1h-1.3zM669.7 516.3h1.3v45.1h-1.3zM672.6 516.3h1.3v45.1h-1.3zM731 516.3h1.3v45.1h-1.3z"/>
<path fill="#d9a060" d="M693.4 516.3h.8v45.1h-.8zM717.1 516.3h.8v45.1h-.8zM752.7 516.3h.8v45.1h-.8zM759.3 516.3h.8v45.1h-.8z"/>
<path fill="#92cf52" d="M703.5 516.3h8.7v45.1h-8.7z"/>
<path fill="#5f8fc0" d="M703.5 516.3h1.5v45.1h-1.5zM709.3 516.3h1.5v45.1h-1.5z"/>
<path fill="#a89080" d="M768.6 516.3h1.2v45.1h-1.2zM772.9 516.3h1.2v45.1h-1.2z"/>
<path fill="#e08a2a" d="M774.4 516.3h4.3v45.1h-4.3z"/>
<path fill="#d9a22a" d="M836.6 516.3h2.9v45.1h-2.9zM844.4 516.3h1v45.1h-1zM875.6 516.3h1v45.1h-1zM903.1 516.3h1v45.1h-1z"/>
<text class="pl" x="12" y="22.8">(a)</text>
<text class="pl" x="11.5" y="306">(b)</text>
<text class="pl" x="12" y="538.5">(c)</text>
<text class="pc" x="73.8" y="301.6" text-anchor="end" textLength="31" lengthAdjust="spacingAndGlyphs">100%</text>
<text class="pc" x="73.8" y="346.8" text-anchor="end" textLength="24.2" lengthAdjust="spacingAndGlyphs">50%</text>
<text class="pc" x="73.8" y="391.6" text-anchor="end" textLength="17.2" lengthAdjust="spacingAndGlyphs">0%</text>
<text class="pc" x="73.8" y="422.0" text-anchor="end" textLength="31" lengthAdjust="spacingAndGlyphs">100%</text>
<text class="pc" x="73.8" y="469.6" text-anchor="end" textLength="24.2" lengthAdjust="spacingAndGlyphs">50%</text>
<text class="pc" x="73.8" y="516.8" text-anchor="end" textLength="17.2" lengthAdjust="spacingAndGlyphs">0%</text>
<text class="kk" transform="translate(959 353.2) rotate(-90)" text-anchor="middle" textLength="23.4" lengthAdjust="spacingAndGlyphs">K=3</text>
<text class="kk" transform="translate(962.6 467) rotate(-90)" text-anchor="middle" textLength="29.4" lengthAdjust="spacingAndGlyphs">K=11</text>
<rect x="91" y="567.3" width="7.3" height="12.3" fill="#92cf52"/>
<text class="lg" x="100.4" y="578.4" textLength="24.6" lengthAdjust="spacingAndGlyphs">SMIL</text>
<rect x="136.2" y="567.3" width="6" height="12.3" fill="#3076cb"/>
<text class="lg" x="142.9" y="578.4" textLength="60.4" lengthAdjust="spacingAndGlyphs">USDA-NPGS</text>
<rect x="211" y="567.3" width="7.6" height="12.3" fill="#fb9a22"/>
<text class="lg" x="220.3" y="578.4" textLength="19.9" lengthAdjust="spacingAndGlyphs">SAP</text>
<text class="lt" x="955.2" y="103">Source</text>
<rect x="955.7" y="109.2" width="15.4" height="15.4" fill="#f2f2f2"/>
<circle cx="963.3" cy="117.0" r="2.3" fill="#e9756a"/>
<text class="ll" x="976.4" y="119.9">SAP</text>
<rect x="955.7" y="125.4" width="15.4" height="15.4" fill="#f2f2f2"/>
<circle cx="963.3" cy="133.2" r="2.3" fill="#53b446"/>
<text class="ll" x="976.4" y="136.1">SMIL</text>
<rect x="955.7" y="141.6" width="15.4" height="15.4" fill="#f2f2f2"/>
<circle cx="963.3" cy="149.4" r="2.3" fill="#6599fb"/>
<text class="ll" x="976.4" y="152.3">USDA_NPGS</text>
</svg>
</body></html>
